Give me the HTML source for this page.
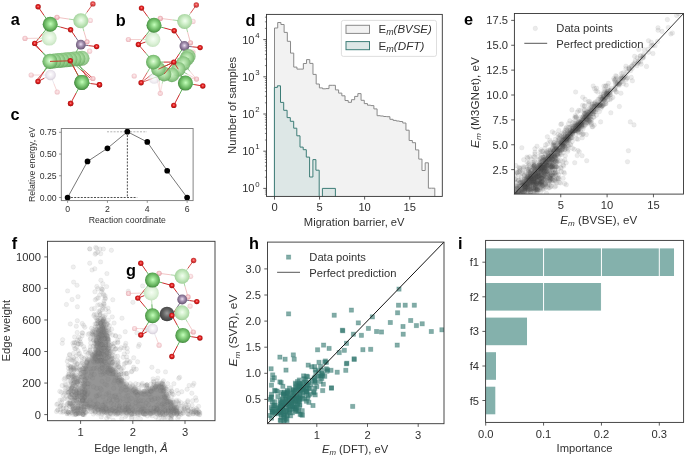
<!DOCTYPE html>
<html><head><meta charset="utf-8"><title>Figure</title>
<style>html,body{margin:0;padding:0;background:#fff;}body{width:685px;height:457px;overflow:hidden;font-family:"Liberation Sans", sans-serif;}svg{display:block;will-change:transform;}</style>
</head><body>
<svg width="685" height="457" viewBox="0 0 685 457" font-family='"Liberation Sans", sans-serif'><defs>
<radialGradient id="gG" cx="0.52" cy="0.47" r="0.56">
 <stop offset="0" stop-color="#c4ffbc"/><stop offset="0.3" stop-color="#98de8f"/><stop offset="0.75" stop-color="#5eac57"/><stop offset="1" stop-color="#3b7e37"/></radialGradient>
<radialGradient id="gL" cx="0.52" cy="0.47" r="0.56">
 <stop offset="0" stop-color="#f2fff0"/><stop offset="0.4" stop-color="#d0efca"/><stop offset="0.85" stop-color="#a8d6a1"/><stop offset="1" stop-color="#8dc186"/></radialGradient>
<radialGradient id="gF" cx="0.52" cy="0.47" r="0.56">
 <stop offset="0" stop-color="#f6fff4"/><stop offset="0.6" stop-color="#dcf1d7"/><stop offset="1" stop-color="#c2e1bc"/></radialGradient>
<radialGradient id="gO" cx="0.5" cy="0.45" r="0.58">
 <stop offset="0" stop-color="#ff8a8a"/><stop offset="0.4" stop-color="#e42222"/><stop offset="1" stop-color="#9c0c0c"/></radialGradient>
<radialGradient id="gP" cx="0.5" cy="0.45" r="0.58">
 <stop offset="0" stop-color="#fde8ea"/><stop offset="0.5" stop-color="#f1b8be"/><stop offset="1" stop-color="#dc9098"/></radialGradient>
<radialGradient id="gV" cx="0.5" cy="0.45" r="0.58">
 <stop offset="0" stop-color="#eadff0"/><stop offset="0.45" stop-color="#a08cac"/><stop offset="1" stop-color="#5f4c6a"/></radialGradient>
<radialGradient id="gW" cx="0.5" cy="0.45" r="0.58">
 <stop offset="0" stop-color="#ffffff"/><stop offset="0.6" stop-color="#ece7ef"/><stop offset="1" stop-color="#d2ccd6"/></radialGradient>
<radialGradient id="gM" cx="0.5" cy="0.45" r="0.56">
 <stop offset="0" stop-color="#d2f6ca"/><stop offset="0.5" stop-color="#a0d697"/><stop offset="0.85" stop-color="#78b870"/><stop offset="1" stop-color="#5c9b55"/></radialGradient>
<radialGradient id="gB" cx="0.5" cy="0.45" r="0.56">
 <stop offset="0" stop-color="#e4ffdc"/><stop offset="0.4" stop-color="#a9e29f"/><stop offset="0.85" stop-color="#6db266"/><stop offset="1" stop-color="#4f944a"/></radialGradient>
<radialGradient id="gK" cx="0.5" cy="0.45" r="0.58">
 <stop offset="0" stop-color="#9a9a9a"/><stop offset="0.5" stop-color="#5e5e5e"/><stop offset="1" stop-color="#3a3a3a"/></radialGradient>
</defs><line x1="67.60" y1="197.50" x2="137.20" y2="197.50" stroke="#222" stroke-width="0.8" stroke-dasharray="2,1.3"/>
<line x1="107.00" y1="131.80" x2="147.00" y2="131.80" stroke="#aaa" stroke-width="0.9" stroke-dasharray="2,1.3"/>
<line x1="127.36" y1="131.72" x2="127.36" y2="197.50" stroke="#222" stroke-width="0.8" stroke-dasharray="2,1.3"/>
<path d="M67.60,197.50 L87.52,161.44 L107.44,148.31 L127.36,131.72 L147.28,141.97 L167.20,170.73 L187.12,197.50" fill="none" stroke="#777" stroke-width="1"/>
<circle cx="67.60" cy="197.50" r="2.85" fill="#000"/>
<circle cx="87.52" cy="161.44" r="2.85" fill="#000"/>
<circle cx="107.44" cy="148.31" r="2.85" fill="#000"/>
<circle cx="127.36" cy="131.72" r="2.85" fill="#000"/>
<circle cx="147.28" cy="141.97" r="2.85" fill="#000"/>
<circle cx="167.20" cy="170.73" r="2.85" fill="#000"/>
<circle cx="187.12" cy="197.50" r="2.85" fill="#000"/>
<rect x="61.30" y="128.50" width="131.80" height="72.10" fill="none" stroke="#777" stroke-width="0.9"/>
<line x1="59.10" y1="197.50" x2="61.30" y2="197.50" stroke="#777" stroke-width="0.8"/>
<text x="56.70" y="200.60" font-size="8.7" text-anchor="end" font-weight="normal" font-style="normal" fill="#303030">0.00</text>
<line x1="59.10" y1="175.78" x2="61.30" y2="175.78" stroke="#777" stroke-width="0.8"/>
<text x="56.70" y="178.88" font-size="8.7" text-anchor="end" font-weight="normal" font-style="normal" fill="#303030">0.25</text>
<line x1="59.10" y1="154.05" x2="61.30" y2="154.05" stroke="#777" stroke-width="0.8"/>
<text x="56.70" y="157.15" font-size="8.7" text-anchor="end" font-weight="normal" font-style="normal" fill="#303030">0.50</text>
<line x1="59.10" y1="132.32" x2="61.30" y2="132.32" stroke="#777" stroke-width="0.8"/>
<text x="56.70" y="135.42" font-size="8.7" text-anchor="end" font-weight="normal" font-style="normal" fill="#303030">0.75</text>
<line x1="67.60" y1="200.60" x2="67.60" y2="202.80" stroke="#777" stroke-width="0.8"/>
<text x="67.60" y="212.10" font-size="8.7" text-anchor="middle" font-weight="normal" font-style="normal" fill="#303030">0</text>
<line x1="107.44" y1="200.60" x2="107.44" y2="202.80" stroke="#777" stroke-width="0.8"/>
<text x="107.44" y="212.10" font-size="8.7" text-anchor="middle" font-weight="normal" font-style="normal" fill="#303030">2</text>
<line x1="147.28" y1="200.60" x2="147.28" y2="202.80" stroke="#777" stroke-width="0.8"/>
<text x="147.28" y="212.10" font-size="8.7" text-anchor="middle" font-weight="normal" font-style="normal" fill="#303030">4</text>
<line x1="187.12" y1="200.60" x2="187.12" y2="202.80" stroke="#777" stroke-width="0.8"/>
<text x="187.12" y="212.10" font-size="8.7" text-anchor="middle" font-weight="normal" font-style="normal" fill="#303030">6</text>
<text x="127.30" y="222.60" font-size="8.7" text-anchor="middle" font-weight="normal" font-style="normal" fill="#303030">Reaction coordinate</text>
<text x="34.50" y="164.50" font-size="8.7" text-anchor="middle" font-weight="normal" font-style="normal" fill="#303030" transform="rotate(-90 34.5 164.5)">Relative energy, eV</text>
<path d="M274.50,196.40 L274.50,28.00 L277.71,28.00 L277.71,22.50 L280.91,22.50 L280.91,24.50 L284.12,24.50 L284.12,32.40 L287.32,32.40 L287.32,41.30 L290.53,41.30 L290.53,53.10 L293.74,53.10 L293.74,67.10 L296.94,67.10 L296.94,69.10 L300.15,69.10 L300.15,69.10 L303.35,69.10 L303.35,63.50 L306.56,63.50 L306.56,59.60 L309.77,59.60 L309.77,63.40 L312.97,63.40 L312.97,74.40 L316.18,74.40 L316.18,84.00 L319.38,84.00 L319.38,87.90 L322.59,87.90 L322.59,88.80 L325.80,88.80 L325.80,88.60 L329.00,88.60 L329.00,85.30 L332.21,85.30 L332.21,85.30 L335.41,85.30 L335.41,89.90 L338.62,89.90 L338.62,93.10 L341.83,93.10 L341.83,95.80 L345.03,95.80 L345.03,100.50 L348.24,100.50 L348.24,102.30 L351.44,102.30 L351.44,99.70 L354.65,99.70 L354.65,96.40 L357.86,96.40 L357.86,93.60 L361.06,93.60 L361.06,100.30 L364.27,100.30 L364.27,103.60 L367.47,103.60 L367.47,105.20 L370.68,105.20 L370.68,105.60 L373.89,105.60 L373.89,108.90 L377.09,108.90 L377.09,115.70 L380.30,115.70 L380.30,116.00 L383.50,116.00 L383.50,116.50 L386.71,116.50 L386.71,116.70 L389.92,116.70 L389.92,119.30 L393.12,119.30 L393.12,120.40 L396.33,120.40 L396.33,121.00 L399.53,121.00 L399.53,121.50 L402.74,121.50 L402.74,123.00 L405.95,123.00 L405.95,130.20 L409.15,130.20 L409.15,140.50 L412.36,140.50 L412.36,142.70 L415.56,142.70 L415.56,149.90 L418.77,149.90 L418.77,159.10 L421.98,159.10 L421.98,170.50 L425.18,170.50 L425.18,162.80 L428.39,162.80 L428.39,188.20 L431.59,188.20 L431.59,188.20 L434.80,188.20 L434.80,196.40" fill="#f2f2f2" stroke="#8a8a8a" stroke-width="1"/>
<path d="M274.40,196.40 L274.40,87.40 L277.40,87.40 L277.40,85.80 L280.50,85.80 L280.50,102.40 L283.70,102.40 L283.70,110.30 L287.10,110.30 L287.10,117.60 L290.30,117.60 L290.30,121.30 L293.70,121.30 L293.70,128.20 L296.80,128.20 L296.80,135.80 L300.00,135.80 L300.00,147.10 L303.20,147.10 L303.20,149.70 L306.30,149.70 L306.30,157.10 L309.60,157.10 L309.60,177.00 L312.90,177.00 L312.90,159.60 L315.90,159.60 L315.90,170.20 L319.20,170.20 L319.20,196.40" fill="#dde7e6" stroke="#3d7d77" stroke-width="1"/>
<path d="M322.4,196.4 L322.4,188.4 L335.4,188.4 L335.4,196.4" fill="#dde7e6" stroke="#3d7d77" stroke-width="1"/>
<rect x="266.50" y="14.40" width="175.80" height="182.00" fill="none" stroke="#333" stroke-width="0.9"/>
<line x1="263.30" y1="188.40" x2="266.50" y2="188.40" stroke="#333" stroke-width="0.8"/>
<text x="254.60" y="192.40" font-size="11.2" text-anchor="end" font-weight="normal" font-style="normal" fill="#303030">10</text>
<text x="255.30" y="186.60" font-size="7.8" text-anchor="start" font-weight="normal" font-style="normal" fill="#303030">0</text>
<line x1="263.30" y1="151.20" x2="266.50" y2="151.20" stroke="#333" stroke-width="0.8"/>
<text x="254.60" y="155.20" font-size="11.2" text-anchor="end" font-weight="normal" font-style="normal" fill="#303030">10</text>
<text x="255.30" y="149.40" font-size="7.8" text-anchor="start" font-weight="normal" font-style="normal" fill="#303030">1</text>
<line x1="263.30" y1="114.00" x2="266.50" y2="114.00" stroke="#333" stroke-width="0.8"/>
<text x="254.60" y="118.00" font-size="11.2" text-anchor="end" font-weight="normal" font-style="normal" fill="#303030">10</text>
<text x="255.30" y="112.20" font-size="7.8" text-anchor="start" font-weight="normal" font-style="normal" fill="#303030">2</text>
<line x1="263.30" y1="76.80" x2="266.50" y2="76.80" stroke="#333" stroke-width="0.8"/>
<text x="254.60" y="80.80" font-size="11.2" text-anchor="end" font-weight="normal" font-style="normal" fill="#303030">10</text>
<text x="255.30" y="75.00" font-size="7.8" text-anchor="start" font-weight="normal" font-style="normal" fill="#303030">3</text>
<line x1="263.30" y1="39.60" x2="266.50" y2="39.60" stroke="#333" stroke-width="0.8"/>
<text x="254.60" y="43.60" font-size="11.2" text-anchor="end" font-weight="normal" font-style="normal" fill="#303030">10</text>
<text x="255.30" y="37.80" font-size="7.8" text-anchor="start" font-weight="normal" font-style="normal" fill="#303030">4</text>
<line x1="264.90" y1="194.16" x2="266.50" y2="194.16" stroke="#333" stroke-width="0.6"/>
<line x1="264.90" y1="192.01" x2="266.50" y2="192.01" stroke="#333" stroke-width="0.6"/>
<line x1="264.90" y1="190.10" x2="266.50" y2="190.10" stroke="#333" stroke-width="0.6"/>
<line x1="264.90" y1="177.20" x2="266.50" y2="177.20" stroke="#333" stroke-width="0.6"/>
<line x1="264.90" y1="170.65" x2="266.50" y2="170.65" stroke="#333" stroke-width="0.6"/>
<line x1="264.90" y1="166.00" x2="266.50" y2="166.00" stroke="#333" stroke-width="0.6"/>
<line x1="264.90" y1="162.40" x2="266.50" y2="162.40" stroke="#333" stroke-width="0.6"/>
<line x1="264.90" y1="159.45" x2="266.50" y2="159.45" stroke="#333" stroke-width="0.6"/>
<line x1="264.90" y1="156.96" x2="266.50" y2="156.96" stroke="#333" stroke-width="0.6"/>
<line x1="264.90" y1="154.81" x2="266.50" y2="154.81" stroke="#333" stroke-width="0.6"/>
<line x1="264.90" y1="152.90" x2="266.50" y2="152.90" stroke="#333" stroke-width="0.6"/>
<line x1="264.90" y1="140.00" x2="266.50" y2="140.00" stroke="#333" stroke-width="0.6"/>
<line x1="264.90" y1="133.45" x2="266.50" y2="133.45" stroke="#333" stroke-width="0.6"/>
<line x1="264.90" y1="128.80" x2="266.50" y2="128.80" stroke="#333" stroke-width="0.6"/>
<line x1="264.90" y1="125.20" x2="266.50" y2="125.20" stroke="#333" stroke-width="0.6"/>
<line x1="264.90" y1="122.25" x2="266.50" y2="122.25" stroke="#333" stroke-width="0.6"/>
<line x1="264.90" y1="119.76" x2="266.50" y2="119.76" stroke="#333" stroke-width="0.6"/>
<line x1="264.90" y1="117.61" x2="266.50" y2="117.61" stroke="#333" stroke-width="0.6"/>
<line x1="264.90" y1="115.70" x2="266.50" y2="115.70" stroke="#333" stroke-width="0.6"/>
<line x1="264.90" y1="102.80" x2="266.50" y2="102.80" stroke="#333" stroke-width="0.6"/>
<line x1="264.90" y1="96.25" x2="266.50" y2="96.25" stroke="#333" stroke-width="0.6"/>
<line x1="264.90" y1="91.60" x2="266.50" y2="91.60" stroke="#333" stroke-width="0.6"/>
<line x1="264.90" y1="88.00" x2="266.50" y2="88.00" stroke="#333" stroke-width="0.6"/>
<line x1="264.90" y1="85.05" x2="266.50" y2="85.05" stroke="#333" stroke-width="0.6"/>
<line x1="264.90" y1="82.56" x2="266.50" y2="82.56" stroke="#333" stroke-width="0.6"/>
<line x1="264.90" y1="80.41" x2="266.50" y2="80.41" stroke="#333" stroke-width="0.6"/>
<line x1="264.90" y1="78.50" x2="266.50" y2="78.50" stroke="#333" stroke-width="0.6"/>
<line x1="264.90" y1="65.60" x2="266.50" y2="65.60" stroke="#333" stroke-width="0.6"/>
<line x1="264.90" y1="59.05" x2="266.50" y2="59.05" stroke="#333" stroke-width="0.6"/>
<line x1="264.90" y1="54.40" x2="266.50" y2="54.40" stroke="#333" stroke-width="0.6"/>
<line x1="264.90" y1="50.80" x2="266.50" y2="50.80" stroke="#333" stroke-width="0.6"/>
<line x1="264.90" y1="47.85" x2="266.50" y2="47.85" stroke="#333" stroke-width="0.6"/>
<line x1="264.90" y1="45.36" x2="266.50" y2="45.36" stroke="#333" stroke-width="0.6"/>
<line x1="264.90" y1="43.21" x2="266.50" y2="43.21" stroke="#333" stroke-width="0.6"/>
<line x1="264.90" y1="41.30" x2="266.50" y2="41.30" stroke="#333" stroke-width="0.6"/>
<line x1="264.90" y1="28.40" x2="266.50" y2="28.40" stroke="#333" stroke-width="0.6"/>
<line x1="264.90" y1="21.85" x2="266.50" y2="21.85" stroke="#333" stroke-width="0.6"/>
<line x1="264.90" y1="17.20" x2="266.50" y2="17.20" stroke="#333" stroke-width="0.6"/>
<line x1="274.50" y1="196.40" x2="274.50" y2="199.60" stroke="#333" stroke-width="0.8"/>
<text x="274.50" y="211.40" font-size="11.2" text-anchor="middle" font-weight="normal" font-style="normal" fill="#303030">0</text>
<line x1="319.56" y1="196.40" x2="319.56" y2="199.60" stroke="#333" stroke-width="0.8"/>
<text x="319.56" y="211.40" font-size="11.2" text-anchor="middle" font-weight="normal" font-style="normal" fill="#303030">5</text>
<line x1="364.63" y1="196.40" x2="364.63" y2="199.60" stroke="#333" stroke-width="0.8"/>
<text x="364.63" y="211.40" font-size="11.2" text-anchor="middle" font-weight="normal" font-style="normal" fill="#303030">10</text>
<line x1="409.69" y1="196.40" x2="409.69" y2="199.60" stroke="#333" stroke-width="0.8"/>
<text x="409.69" y="211.40" font-size="11.2" text-anchor="middle" font-weight="normal" font-style="normal" fill="#303030">15</text>
<text x="354.20" y="226.00" font-size="11.2" text-anchor="middle" font-weight="normal" font-style="normal" fill="#303030">Migration barrier, eV</text>
<text x="236.30" y="105.40" font-size="11.2" text-anchor="middle" font-weight="normal" font-style="normal" fill="#303030" transform="rotate(-90 236.3 105.4)">Number of samples</text>
<rect x="341.4" y="20.4" width="95.1" height="36" rx="2" ry="2" fill="#fff" fill-opacity="0.8" stroke="#d6d6d6" stroke-width="0.8"/>
<rect x="346.00" y="25.30" width="23.50" height="8.10" fill="#f2f2f2" stroke="#8a8a8a" stroke-width="1"/>
<rect x="346.00" y="41.60" width="23.50" height="8.10" fill="#dde7e6" stroke="#3d7d77" stroke-width="1"/>
<g transform="translate(378.6 33.4) scale(1.08 1)"><text x="0" y="0" font-size="10.6" fill="#303030">E<tspan font-size="8.2" font-style="italic" dy="1.6">m</tspan><tspan dy="-1.6" font-style="italic">(BVSE)</tspan></text></g>
<g transform="translate(378.6 50.0) scale(1.1 1)"><text x="0" y="0" font-size="10.6" fill="#303030">E<tspan font-size="8.2" font-style="italic" dy="1.6">m</tspan><tspan dy="-1.6" font-style="italic">(DFT)</tspan></text></g>
<clipPath id="ce"><rect x="514.4" y="13.5" width="169.10000000000002" height="180.6"/></clipPath>
<g clip-path="url(#ce)" fill="#4a4a4a" fill-opacity="0.11" stroke="#4a4a4a" stroke-opacity="0.08" stroke-width="0.7">
<circle cx="515.2" cy="188.7" r="2.3"/>
<circle cx="516.6" cy="196.7" r="2.3"/>
<circle cx="515.3" cy="189.9" r="2.3"/>
<circle cx="518.8" cy="191.0" r="2.3"/>
<circle cx="515.9" cy="194.2" r="2.3"/>
<circle cx="519.2" cy="185.8" r="2.3"/>
<circle cx="518.4" cy="192.3" r="2.3"/>
<circle cx="519.8" cy="186.7" r="2.3"/>
<circle cx="521.2" cy="176.9" r="2.3"/>
<circle cx="523.3" cy="189.8" r="2.3"/>
<circle cx="520.9" cy="192.8" r="2.3"/>
<circle cx="517.1" cy="187.8" r="2.3"/>
<circle cx="514.4" cy="196.8" r="2.3"/>
<circle cx="523.4" cy="184.3" r="2.3"/>
<circle cx="517.3" cy="193.4" r="2.3"/>
<circle cx="522.7" cy="195.3" r="2.3"/>
<circle cx="519.8" cy="191.2" r="2.3"/>
<circle cx="521.6" cy="184.9" r="2.3"/>
<circle cx="514.7" cy="191.8" r="2.3"/>
<circle cx="517.9" cy="192.3" r="2.3"/>
<circle cx="515.2" cy="191.9" r="2.3"/>
<circle cx="520.5" cy="194.0" r="2.3"/>
<circle cx="523.0" cy="185.4" r="2.3"/>
<circle cx="516.3" cy="188.2" r="2.3"/>
<circle cx="517.2" cy="188.8" r="2.3"/>
<circle cx="521.3" cy="189.6" r="2.3"/>
<circle cx="521.1" cy="188.9" r="2.3"/>
<circle cx="516.4" cy="186.3" r="2.3"/>
<circle cx="520.7" cy="193.7" r="2.3"/>
<circle cx="522.0" cy="190.6" r="2.3"/>
<circle cx="518.4" cy="180.4" r="2.3"/>
<circle cx="521.4" cy="190.9" r="2.3"/>
<circle cx="522.5" cy="181.7" r="2.3"/>
<circle cx="515.3" cy="194.7" r="2.3"/>
<circle cx="522.3" cy="191.6" r="2.3"/>
<circle cx="518.1" cy="195.3" r="2.3"/>
<circle cx="518.8" cy="180.3" r="2.3"/>
<circle cx="515.8" cy="196.9" r="2.3"/>
<circle cx="520.9" cy="190.2" r="2.3"/>
<circle cx="517.1" cy="195.6" r="2.3"/>
<circle cx="522.5" cy="182.5" r="2.3"/>
<circle cx="519.6" cy="187.8" r="2.3"/>
<circle cx="518.1" cy="194.4" r="2.3"/>
<circle cx="520.1" cy="170.2" r="2.3"/>
<circle cx="516.1" cy="192.5" r="2.3"/>
<circle cx="521.3" cy="184.7" r="2.3"/>
<circle cx="521.4" cy="182.8" r="2.3"/>
<circle cx="519.7" cy="191.0" r="2.3"/>
<circle cx="522.9" cy="189.0" r="2.3"/>
<circle cx="516.3" cy="185.8" r="2.3"/>
<circle cx="522.3" cy="190.6" r="2.3"/>
<circle cx="516.0" cy="192.8" r="2.3"/>
<circle cx="520.0" cy="186.2" r="2.3"/>
<circle cx="523.4" cy="196.6" r="2.3"/>
<circle cx="521.7" cy="185.7" r="2.3"/>
<circle cx="514.9" cy="193.2" r="2.3"/>
<circle cx="517.8" cy="193.2" r="2.3"/>
<circle cx="516.2" cy="190.9" r="2.3"/>
<circle cx="516.4" cy="194.8" r="2.3"/>
<circle cx="522.4" cy="183.4" r="2.3"/>
<circle cx="517.2" cy="186.9" r="2.3"/>
<circle cx="519.0" cy="190.5" r="2.3"/>
<circle cx="522.3" cy="192.2" r="2.3"/>
<circle cx="523.3" cy="195.0" r="2.3"/>
<circle cx="521.0" cy="194.9" r="2.3"/>
<circle cx="519.5" cy="189.8" r="2.3"/>
<circle cx="520.9" cy="181.7" r="2.3"/>
<circle cx="514.9" cy="193.2" r="2.3"/>
<circle cx="520.7" cy="179.3" r="2.3"/>
<circle cx="517.8" cy="187.7" r="2.3"/>
<circle cx="519.9" cy="194.2" r="2.3"/>
<circle cx="520.6" cy="189.8" r="2.3"/>
<circle cx="519.2" cy="186.4" r="2.3"/>
<circle cx="519.5" cy="192.3" r="2.3"/>
<circle cx="530.3" cy="174.3" r="2.3"/>
<circle cx="527.4" cy="186.4" r="2.3"/>
<circle cx="526.8" cy="183.3" r="2.3"/>
<circle cx="532.7" cy="182.4" r="2.3"/>
<circle cx="532.0" cy="175.1" r="2.3"/>
<circle cx="525.7" cy="189.6" r="2.3"/>
<circle cx="525.1" cy="186.3" r="2.3"/>
<circle cx="528.2" cy="183.5" r="2.3"/>
<circle cx="529.0" cy="182.3" r="2.3"/>
<circle cx="526.9" cy="184.5" r="2.3"/>
<circle cx="529.2" cy="181.9" r="2.3"/>
<circle cx="530.0" cy="177.5" r="2.3"/>
<circle cx="531.2" cy="178.6" r="2.3"/>
<circle cx="529.7" cy="156.8" r="2.3"/>
<circle cx="524.2" cy="187.0" r="2.3"/>
<circle cx="524.3" cy="175.8" r="2.3"/>
<circle cx="524.2" cy="195.6" r="2.3"/>
<circle cx="524.7" cy="184.4" r="2.3"/>
<circle cx="530.9" cy="178.9" r="2.3"/>
<circle cx="527.1" cy="177.1" r="2.3"/>
<circle cx="528.2" cy="175.4" r="2.3"/>
<circle cx="527.8" cy="184.2" r="2.3"/>
<circle cx="525.6" cy="196.7" r="2.3"/>
<circle cx="524.1" cy="189.4" r="2.3"/>
<circle cx="525.4" cy="179.7" r="2.3"/>
<circle cx="531.6" cy="171.0" r="2.3"/>
<circle cx="526.8" cy="188.8" r="2.3"/>
<circle cx="527.6" cy="185.9" r="2.3"/>
<circle cx="526.1" cy="186.0" r="2.3"/>
<circle cx="530.5" cy="192.4" r="2.3"/>
<circle cx="530.2" cy="194.6" r="2.3"/>
<circle cx="527.2" cy="169.3" r="2.3"/>
<circle cx="528.4" cy="179.1" r="2.3"/>
<circle cx="527.3" cy="183.9" r="2.3"/>
<circle cx="529.0" cy="178.7" r="2.3"/>
<circle cx="529.2" cy="185.1" r="2.3"/>
<circle cx="529.0" cy="165.6" r="2.3"/>
<circle cx="532.0" cy="182.0" r="2.3"/>
<circle cx="532.5" cy="173.3" r="2.3"/>
<circle cx="524.1" cy="195.8" r="2.3"/>
<circle cx="527.2" cy="167.4" r="2.3"/>
<circle cx="524.0" cy="186.0" r="2.3"/>
<circle cx="527.1" cy="180.9" r="2.3"/>
<circle cx="531.1" cy="177.8" r="2.3"/>
<circle cx="530.0" cy="178.4" r="2.3"/>
<circle cx="528.9" cy="179.0" r="2.3"/>
<circle cx="524.5" cy="184.4" r="2.3"/>
<circle cx="531.2" cy="178.6" r="2.3"/>
<circle cx="529.3" cy="186.9" r="2.3"/>
<circle cx="526.5" cy="194.0" r="2.3"/>
<circle cx="531.0" cy="181.5" r="2.3"/>
<circle cx="525.4" cy="183.8" r="2.3"/>
<circle cx="531.0" cy="183.0" r="2.3"/>
<circle cx="524.1" cy="185.2" r="2.3"/>
<circle cx="524.9" cy="186.5" r="2.3"/>
<circle cx="528.3" cy="177.0" r="2.3"/>
<circle cx="530.3" cy="172.1" r="2.3"/>
<circle cx="529.1" cy="180.5" r="2.3"/>
<circle cx="524.0" cy="179.8" r="2.3"/>
<circle cx="526.2" cy="181.3" r="2.3"/>
<circle cx="530.2" cy="185.5" r="2.3"/>
<circle cx="526.9" cy="178.0" r="2.3"/>
<circle cx="525.5" cy="186.9" r="2.3"/>
<circle cx="523.7" cy="183.2" r="2.3"/>
<circle cx="526.1" cy="187.2" r="2.3"/>
<circle cx="532.3" cy="179.9" r="2.3"/>
<circle cx="524.1" cy="197.0" r="2.3"/>
<circle cx="528.8" cy="180.0" r="2.3"/>
<circle cx="532.1" cy="180.8" r="2.3"/>
<circle cx="530.2" cy="173.5" r="2.3"/>
<circle cx="526.3" cy="183.7" r="2.3"/>
<circle cx="529.7" cy="176.4" r="2.3"/>
<circle cx="524.8" cy="179.0" r="2.3"/>
<circle cx="528.3" cy="180.8" r="2.3"/>
<circle cx="526.1" cy="195.5" r="2.3"/>
<circle cx="531.8" cy="175.9" r="2.3"/>
<circle cx="531.7" cy="170.4" r="2.3"/>
<circle cx="530.7" cy="178.6" r="2.3"/>
<circle cx="527.2" cy="180.3" r="2.3"/>
<circle cx="531.1" cy="173.4" r="2.3"/>
<circle cx="532.8" cy="180.7" r="2.3"/>
<circle cx="527.1" cy="186.5" r="2.3"/>
<circle cx="528.5" cy="195.0" r="2.3"/>
<circle cx="525.2" cy="190.3" r="2.3"/>
<circle cx="524.7" cy="185.6" r="2.3"/>
<circle cx="530.3" cy="183.1" r="2.3"/>
<circle cx="524.2" cy="180.8" r="2.3"/>
<circle cx="529.2" cy="183.0" r="2.3"/>
<circle cx="524.7" cy="192.7" r="2.3"/>
<circle cx="529.9" cy="185.1" r="2.3"/>
<circle cx="530.7" cy="181.0" r="2.3"/>
<circle cx="532.4" cy="183.9" r="2.3"/>
<circle cx="527.3" cy="174.0" r="2.3"/>
<circle cx="527.3" cy="189.2" r="2.3"/>
<circle cx="527.4" cy="184.1" r="2.3"/>
<circle cx="530.2" cy="175.8" r="2.3"/>
<circle cx="531.0" cy="192.5" r="2.3"/>
<circle cx="524.7" cy="181.8" r="2.3"/>
<circle cx="526.7" cy="178.1" r="2.3"/>
<circle cx="524.2" cy="185.9" r="2.3"/>
<circle cx="525.8" cy="183.1" r="2.3"/>
<circle cx="530.5" cy="189.6" r="2.3"/>
<circle cx="532.8" cy="182.4" r="2.3"/>
<circle cx="527.4" cy="176.7" r="2.3"/>
<circle cx="531.8" cy="181.2" r="2.3"/>
<circle cx="528.3" cy="189.6" r="2.3"/>
<circle cx="526.9" cy="185.4" r="2.3"/>
<circle cx="530.9" cy="183.8" r="2.3"/>
<circle cx="531.7" cy="179.8" r="2.3"/>
<circle cx="525.0" cy="184.6" r="2.3"/>
<circle cx="528.5" cy="179.9" r="2.3"/>
<circle cx="525.0" cy="190.7" r="2.3"/>
<circle cx="525.3" cy="188.9" r="2.3"/>
<circle cx="528.6" cy="178.2" r="2.3"/>
<circle cx="526.0" cy="188.0" r="2.3"/>
<circle cx="531.1" cy="178.4" r="2.3"/>
<circle cx="527.1" cy="196.8" r="2.3"/>
<circle cx="529.5" cy="179.9" r="2.3"/>
<circle cx="526.1" cy="179.8" r="2.3"/>
<circle cx="524.3" cy="175.5" r="2.3"/>
<circle cx="532.9" cy="173.5" r="2.3"/>
<circle cx="525.4" cy="197.5" r="2.3"/>
<circle cx="528.1" cy="176.7" r="2.3"/>
<circle cx="523.7" cy="186.2" r="2.3"/>
<circle cx="531.0" cy="176.3" r="2.3"/>
<circle cx="524.4" cy="190.6" r="2.3"/>
<circle cx="524.0" cy="187.2" r="2.3"/>
<circle cx="532.6" cy="166.6" r="2.3"/>
<circle cx="528.5" cy="178.6" r="2.3"/>
<circle cx="532.3" cy="179.3" r="2.3"/>
<circle cx="532.0" cy="179.7" r="2.3"/>
<circle cx="530.5" cy="191.6" r="2.3"/>
<circle cx="523.9" cy="181.8" r="2.3"/>
<circle cx="529.6" cy="189.7" r="2.3"/>
<circle cx="524.3" cy="188.5" r="2.3"/>
<circle cx="531.5" cy="196.2" r="2.3"/>
<circle cx="526.5" cy="179.5" r="2.3"/>
<circle cx="530.6" cy="170.5" r="2.3"/>
<circle cx="528.6" cy="169.7" r="2.3"/>
<circle cx="530.9" cy="170.7" r="2.3"/>
<circle cx="529.6" cy="176.1" r="2.3"/>
<circle cx="532.7" cy="177.4" r="2.3"/>
<circle cx="528.1" cy="190.1" r="2.3"/>
<circle cx="531.6" cy="175.4" r="2.3"/>
<circle cx="529.1" cy="180.5" r="2.3"/>
<circle cx="528.4" cy="181.6" r="2.3"/>
<circle cx="527.7" cy="194.6" r="2.3"/>
<circle cx="529.7" cy="181.8" r="2.3"/>
<circle cx="525.5" cy="188.4" r="2.3"/>
<circle cx="527.7" cy="184.6" r="2.3"/>
<circle cx="529.7" cy="172.5" r="2.3"/>
<circle cx="526.5" cy="176.3" r="2.3"/>
<circle cx="525.7" cy="183.2" r="2.3"/>
<circle cx="524.7" cy="188.3" r="2.3"/>
<circle cx="531.1" cy="176.9" r="2.3"/>
<circle cx="531.8" cy="181.4" r="2.3"/>
<circle cx="531.4" cy="185.8" r="2.3"/>
<circle cx="530.2" cy="189.3" r="2.3"/>
<circle cx="529.3" cy="184.3" r="2.3"/>
<circle cx="524.2" cy="196.1" r="2.3"/>
<circle cx="531.8" cy="176.4" r="2.3"/>
<circle cx="528.1" cy="174.2" r="2.3"/>
<circle cx="530.0" cy="177.8" r="2.3"/>
<circle cx="524.8" cy="178.0" r="2.3"/>
<circle cx="530.6" cy="172.8" r="2.3"/>
<circle cx="525.0" cy="184.9" r="2.3"/>
<circle cx="532.6" cy="195.2" r="2.3"/>
<circle cx="530.3" cy="195.4" r="2.3"/>
<circle cx="528.6" cy="170.9" r="2.3"/>
<circle cx="529.7" cy="190.4" r="2.3"/>
<circle cx="542.0" cy="167.8" r="2.3"/>
<circle cx="541.1" cy="154.8" r="2.3"/>
<circle cx="537.1" cy="184.9" r="2.3"/>
<circle cx="540.5" cy="170.5" r="2.3"/>
<circle cx="538.9" cy="164.8" r="2.3"/>
<circle cx="540.2" cy="185.3" r="2.3"/>
<circle cx="538.4" cy="175.0" r="2.3"/>
<circle cx="539.3" cy="189.6" r="2.3"/>
<circle cx="541.7" cy="176.1" r="2.3"/>
<circle cx="536.9" cy="189.2" r="2.3"/>
<circle cx="539.8" cy="181.1" r="2.3"/>
<circle cx="541.8" cy="174.8" r="2.3"/>
<circle cx="533.3" cy="181.9" r="2.3"/>
<circle cx="535.3" cy="174.0" r="2.3"/>
<circle cx="536.3" cy="170.2" r="2.3"/>
<circle cx="538.3" cy="167.3" r="2.3"/>
<circle cx="537.2" cy="177.7" r="2.3"/>
<circle cx="541.7" cy="181.1" r="2.3"/>
<circle cx="534.7" cy="183.9" r="2.3"/>
<circle cx="535.8" cy="173.4" r="2.3"/>
<circle cx="533.7" cy="188.8" r="2.3"/>
<circle cx="534.6" cy="174.4" r="2.3"/>
<circle cx="538.5" cy="166.9" r="2.3"/>
<circle cx="533.4" cy="173.7" r="2.3"/>
<circle cx="541.7" cy="177.7" r="2.3"/>
<circle cx="540.0" cy="167.5" r="2.3"/>
<circle cx="533.7" cy="175.3" r="2.3"/>
<circle cx="540.3" cy="169.8" r="2.3"/>
<circle cx="534.1" cy="166.0" r="2.3"/>
<circle cx="537.7" cy="169.0" r="2.3"/>
<circle cx="534.9" cy="170.2" r="2.3"/>
<circle cx="534.5" cy="174.4" r="2.3"/>
<circle cx="537.9" cy="173.0" r="2.3"/>
<circle cx="541.1" cy="171.2" r="2.3"/>
<circle cx="533.7" cy="176.4" r="2.3"/>
<circle cx="534.9" cy="154.1" r="2.3"/>
<circle cx="537.4" cy="166.0" r="2.3"/>
<circle cx="541.8" cy="162.4" r="2.3"/>
<circle cx="536.3" cy="172.7" r="2.3"/>
<circle cx="541.0" cy="157.9" r="2.3"/>
<circle cx="538.0" cy="174.7" r="2.3"/>
<circle cx="537.1" cy="176.8" r="2.3"/>
<circle cx="540.0" cy="184.1" r="2.3"/>
<circle cx="534.8" cy="172.4" r="2.3"/>
<circle cx="537.8" cy="168.1" r="2.3"/>
<circle cx="533.3" cy="178.5" r="2.3"/>
<circle cx="537.8" cy="181.6" r="2.3"/>
<circle cx="542.2" cy="159.9" r="2.3"/>
<circle cx="533.6" cy="168.6" r="2.3"/>
<circle cx="533.9" cy="176.4" r="2.3"/>
<circle cx="538.3" cy="177.9" r="2.3"/>
<circle cx="541.6" cy="162.0" r="2.3"/>
<circle cx="538.1" cy="173.0" r="2.3"/>
<circle cx="541.9" cy="165.6" r="2.3"/>
<circle cx="535.9" cy="181.8" r="2.3"/>
<circle cx="542.1" cy="182.7" r="2.3"/>
<circle cx="534.9" cy="177.0" r="2.3"/>
<circle cx="540.1" cy="168.9" r="2.3"/>
<circle cx="536.0" cy="190.2" r="2.3"/>
<circle cx="540.7" cy="170.3" r="2.3"/>
<circle cx="533.3" cy="168.2" r="2.3"/>
<circle cx="535.8" cy="173.7" r="2.3"/>
<circle cx="541.5" cy="161.0" r="2.3"/>
<circle cx="540.1" cy="165.9" r="2.3"/>
<circle cx="537.4" cy="174.2" r="2.3"/>
<circle cx="536.4" cy="183.7" r="2.3"/>
<circle cx="541.7" cy="151.4" r="2.3"/>
<circle cx="534.7" cy="182.1" r="2.3"/>
<circle cx="534.7" cy="184.8" r="2.3"/>
<circle cx="533.5" cy="187.9" r="2.3"/>
<circle cx="539.1" cy="177.0" r="2.3"/>
<circle cx="541.4" cy="170.1" r="2.3"/>
<circle cx="534.1" cy="178.4" r="2.3"/>
<circle cx="540.0" cy="171.7" r="2.3"/>
<circle cx="540.0" cy="165.4" r="2.3"/>
<circle cx="534.8" cy="169.4" r="2.3"/>
<circle cx="537.8" cy="173.6" r="2.3"/>
<circle cx="538.3" cy="168.0" r="2.3"/>
<circle cx="533.5" cy="180.3" r="2.3"/>
<circle cx="541.7" cy="168.2" r="2.3"/>
<circle cx="534.2" cy="178.7" r="2.3"/>
<circle cx="534.3" cy="180.7" r="2.3"/>
<circle cx="539.5" cy="188.0" r="2.3"/>
<circle cx="537.6" cy="188.5" r="2.3"/>
<circle cx="540.2" cy="159.1" r="2.3"/>
<circle cx="538.9" cy="171.9" r="2.3"/>
<circle cx="533.8" cy="165.3" r="2.3"/>
<circle cx="537.1" cy="190.0" r="2.3"/>
<circle cx="542.0" cy="168.9" r="2.3"/>
<circle cx="535.8" cy="168.3" r="2.3"/>
<circle cx="534.6" cy="178.9" r="2.3"/>
<circle cx="541.2" cy="166.9" r="2.3"/>
<circle cx="533.7" cy="182.2" r="2.3"/>
<circle cx="536.7" cy="192.5" r="2.3"/>
<circle cx="542.2" cy="182.0" r="2.3"/>
<circle cx="540.9" cy="149.7" r="2.3"/>
<circle cx="534.2" cy="171.6" r="2.3"/>
<circle cx="533.7" cy="193.4" r="2.3"/>
<circle cx="537.4" cy="189.8" r="2.3"/>
<circle cx="539.3" cy="164.8" r="2.3"/>
<circle cx="540.5" cy="177.7" r="2.3"/>
<circle cx="534.8" cy="171.9" r="2.3"/>
<circle cx="536.9" cy="175.0" r="2.3"/>
<circle cx="537.1" cy="177.2" r="2.3"/>
<circle cx="535.8" cy="177.2" r="2.3"/>
<circle cx="539.2" cy="183.2" r="2.3"/>
<circle cx="537.9" cy="171.1" r="2.3"/>
<circle cx="536.8" cy="174.2" r="2.3"/>
<circle cx="540.1" cy="179.0" r="2.3"/>
<circle cx="535.7" cy="179.1" r="2.3"/>
<circle cx="538.5" cy="174.0" r="2.3"/>
<circle cx="540.2" cy="171.9" r="2.3"/>
<circle cx="536.1" cy="170.1" r="2.3"/>
<circle cx="533.2" cy="188.3" r="2.3"/>
<circle cx="533.0" cy="177.3" r="2.3"/>
<circle cx="540.3" cy="151.9" r="2.3"/>
<circle cx="540.5" cy="168.0" r="2.3"/>
<circle cx="539.6" cy="166.6" r="2.3"/>
<circle cx="533.2" cy="178.6" r="2.3"/>
<circle cx="535.3" cy="170.7" r="2.3"/>
<circle cx="541.7" cy="168.4" r="2.3"/>
<circle cx="538.1" cy="175.8" r="2.3"/>
<circle cx="536.9" cy="169.8" r="2.3"/>
<circle cx="541.9" cy="181.7" r="2.3"/>
<circle cx="541.9" cy="166.9" r="2.3"/>
<circle cx="535.3" cy="173.7" r="2.3"/>
<circle cx="539.6" cy="183.1" r="2.3"/>
<circle cx="540.5" cy="172.3" r="2.3"/>
<circle cx="540.8" cy="169.1" r="2.3"/>
<circle cx="541.4" cy="174.9" r="2.3"/>
<circle cx="539.9" cy="161.7" r="2.3"/>
<circle cx="533.6" cy="183.0" r="2.3"/>
<circle cx="535.8" cy="176.4" r="2.3"/>
<circle cx="534.8" cy="168.1" r="2.3"/>
<circle cx="538.8" cy="176.3" r="2.3"/>
<circle cx="538.0" cy="169.4" r="2.3"/>
<circle cx="542.0" cy="160.8" r="2.3"/>
<circle cx="535.2" cy="180.8" r="2.3"/>
<circle cx="534.1" cy="178.6" r="2.3"/>
<circle cx="533.2" cy="162.4" r="2.3"/>
<circle cx="534.8" cy="161.8" r="2.3"/>
<circle cx="541.2" cy="169.0" r="2.3"/>
<circle cx="538.6" cy="174.9" r="2.3"/>
<circle cx="535.2" cy="191.7" r="2.3"/>
<circle cx="538.3" cy="169.5" r="2.3"/>
<circle cx="539.0" cy="175.0" r="2.3"/>
<circle cx="536.0" cy="183.8" r="2.3"/>
<circle cx="533.1" cy="174.9" r="2.3"/>
<circle cx="539.4" cy="169.0" r="2.3"/>
<circle cx="538.3" cy="175.3" r="2.3"/>
<circle cx="533.7" cy="174.9" r="2.3"/>
<circle cx="537.6" cy="170.4" r="2.3"/>
<circle cx="534.3" cy="161.5" r="2.3"/>
<circle cx="536.8" cy="189.6" r="2.3"/>
<circle cx="539.7" cy="179.9" r="2.3"/>
<circle cx="538.5" cy="172.8" r="2.3"/>
<circle cx="536.0" cy="175.8" r="2.3"/>
<circle cx="540.0" cy="176.0" r="2.3"/>
<circle cx="535.3" cy="184.8" r="2.3"/>
<circle cx="539.0" cy="171.9" r="2.3"/>
<circle cx="535.7" cy="187.3" r="2.3"/>
<circle cx="538.8" cy="179.2" r="2.3"/>
<circle cx="538.3" cy="159.7" r="2.3"/>
<circle cx="538.5" cy="156.5" r="2.3"/>
<circle cx="540.8" cy="165.8" r="2.3"/>
<circle cx="540.5" cy="167.7" r="2.3"/>
<circle cx="542.0" cy="178.5" r="2.3"/>
<circle cx="535.0" cy="186.5" r="2.3"/>
<circle cx="542.1" cy="181.2" r="2.3"/>
<circle cx="539.1" cy="177.2" r="2.3"/>
<circle cx="534.3" cy="165.6" r="2.3"/>
<circle cx="533.0" cy="185.0" r="2.3"/>
<circle cx="535.2" cy="180.8" r="2.3"/>
<circle cx="537.1" cy="166.6" r="2.3"/>
<circle cx="538.9" cy="165.0" r="2.3"/>
<circle cx="541.2" cy="169.2" r="2.3"/>
<circle cx="540.7" cy="191.5" r="2.3"/>
<circle cx="541.5" cy="167.9" r="2.3"/>
<circle cx="541.0" cy="171.3" r="2.3"/>
<circle cx="541.0" cy="181.7" r="2.3"/>
<circle cx="542.1" cy="184.8" r="2.3"/>
<circle cx="539.9" cy="162.8" r="2.3"/>
<circle cx="534.4" cy="179.1" r="2.3"/>
<circle cx="538.3" cy="165.5" r="2.3"/>
<circle cx="537.1" cy="185.7" r="2.3"/>
<circle cx="539.3" cy="164.1" r="2.3"/>
<circle cx="535.6" cy="177.2" r="2.3"/>
<circle cx="541.5" cy="165.1" r="2.3"/>
<circle cx="535.6" cy="173.5" r="2.3"/>
<circle cx="537.2" cy="195.4" r="2.3"/>
<circle cx="534.5" cy="163.8" r="2.3"/>
<circle cx="541.5" cy="165.1" r="2.3"/>
<circle cx="541.3" cy="167.0" r="2.3"/>
<circle cx="541.7" cy="168.5" r="2.3"/>
<circle cx="535.0" cy="171.4" r="2.3"/>
<circle cx="536.0" cy="182.2" r="2.3"/>
<circle cx="541.4" cy="170.5" r="2.3"/>
<circle cx="541.1" cy="173.1" r="2.3"/>
<circle cx="534.0" cy="166.3" r="2.3"/>
<circle cx="537.3" cy="180.1" r="2.3"/>
<circle cx="546.5" cy="193.3" r="2.3"/>
<circle cx="543.3" cy="172.5" r="2.3"/>
<circle cx="546.0" cy="160.2" r="2.3"/>
<circle cx="542.4" cy="176.0" r="2.3"/>
<circle cx="543.5" cy="165.8" r="2.3"/>
<circle cx="546.2" cy="176.8" r="2.3"/>
<circle cx="543.7" cy="169.3" r="2.3"/>
<circle cx="547.3" cy="164.9" r="2.3"/>
<circle cx="543.3" cy="167.6" r="2.3"/>
<circle cx="549.4" cy="161.6" r="2.3"/>
<circle cx="550.0" cy="156.4" r="2.3"/>
<circle cx="549.9" cy="151.4" r="2.3"/>
<circle cx="549.2" cy="165.9" r="2.3"/>
<circle cx="547.8" cy="161.7" r="2.3"/>
<circle cx="550.2" cy="156.4" r="2.3"/>
<circle cx="543.3" cy="172.7" r="2.3"/>
<circle cx="542.6" cy="185.6" r="2.3"/>
<circle cx="545.3" cy="163.2" r="2.3"/>
<circle cx="551.2" cy="174.7" r="2.3"/>
<circle cx="546.5" cy="163.5" r="2.3"/>
<circle cx="547.4" cy="172.0" r="2.3"/>
<circle cx="544.6" cy="172.5" r="2.3"/>
<circle cx="547.4" cy="136.8" r="2.3"/>
<circle cx="549.3" cy="162.8" r="2.3"/>
<circle cx="547.5" cy="159.7" r="2.3"/>
<circle cx="542.6" cy="176.8" r="2.3"/>
<circle cx="545.5" cy="153.7" r="2.3"/>
<circle cx="545.9" cy="169.8" r="2.3"/>
<circle cx="543.3" cy="157.5" r="2.3"/>
<circle cx="542.6" cy="164.7" r="2.3"/>
<circle cx="548.7" cy="150.2" r="2.3"/>
<circle cx="542.3" cy="178.0" r="2.3"/>
<circle cx="544.9" cy="159.1" r="2.3"/>
<circle cx="547.9" cy="182.9" r="2.3"/>
<circle cx="549.5" cy="164.8" r="2.3"/>
<circle cx="544.7" cy="157.6" r="2.3"/>
<circle cx="542.9" cy="166.5" r="2.3"/>
<circle cx="550.7" cy="180.1" r="2.3"/>
<circle cx="548.4" cy="157.5" r="2.3"/>
<circle cx="549.3" cy="158.9" r="2.3"/>
<circle cx="548.5" cy="156.5" r="2.3"/>
<circle cx="548.7" cy="171.2" r="2.3"/>
<circle cx="542.9" cy="173.1" r="2.3"/>
<circle cx="543.4" cy="175.5" r="2.3"/>
<circle cx="550.4" cy="152.7" r="2.3"/>
<circle cx="545.0" cy="163.4" r="2.3"/>
<circle cx="547.9" cy="158.8" r="2.3"/>
<circle cx="548.8" cy="157.1" r="2.3"/>
<circle cx="547.0" cy="178.6" r="2.3"/>
<circle cx="542.8" cy="169.1" r="2.3"/>
<circle cx="547.5" cy="143.9" r="2.3"/>
<circle cx="546.6" cy="164.8" r="2.3"/>
<circle cx="544.9" cy="164.9" r="2.3"/>
<circle cx="546.4" cy="168.2" r="2.3"/>
<circle cx="547.5" cy="174.2" r="2.3"/>
<circle cx="542.6" cy="167.7" r="2.3"/>
<circle cx="545.8" cy="158.1" r="2.3"/>
<circle cx="544.1" cy="168.6" r="2.3"/>
<circle cx="546.9" cy="161.7" r="2.3"/>
<circle cx="543.8" cy="159.8" r="2.3"/>
<circle cx="546.2" cy="162.7" r="2.3"/>
<circle cx="546.5" cy="165.9" r="2.3"/>
<circle cx="543.7" cy="165.4" r="2.3"/>
<circle cx="544.5" cy="170.4" r="2.3"/>
<circle cx="547.5" cy="165.5" r="2.3"/>
<circle cx="548.0" cy="173.4" r="2.3"/>
<circle cx="550.8" cy="158.6" r="2.3"/>
<circle cx="548.0" cy="163.6" r="2.3"/>
<circle cx="547.4" cy="152.4" r="2.3"/>
<circle cx="551.3" cy="161.3" r="2.3"/>
<circle cx="551.3" cy="167.1" r="2.3"/>
<circle cx="547.0" cy="166.6" r="2.3"/>
<circle cx="546.7" cy="151.2" r="2.3"/>
<circle cx="551.0" cy="158.2" r="2.3"/>
<circle cx="545.5" cy="158.9" r="2.3"/>
<circle cx="549.8" cy="140.3" r="2.3"/>
<circle cx="543.9" cy="167.7" r="2.3"/>
<circle cx="543.8" cy="165.6" r="2.3"/>
<circle cx="544.9" cy="156.5" r="2.3"/>
<circle cx="546.9" cy="163.2" r="2.3"/>
<circle cx="545.6" cy="144.9" r="2.3"/>
<circle cx="544.2" cy="175.5" r="2.3"/>
<circle cx="543.1" cy="164.0" r="2.3"/>
<circle cx="542.9" cy="171.2" r="2.3"/>
<circle cx="550.6" cy="166.5" r="2.3"/>
<circle cx="549.6" cy="170.3" r="2.3"/>
<circle cx="549.5" cy="177.7" r="2.3"/>
<circle cx="548.1" cy="161.3" r="2.3"/>
<circle cx="547.5" cy="157.8" r="2.3"/>
<circle cx="546.5" cy="165.6" r="2.3"/>
<circle cx="548.6" cy="156.5" r="2.3"/>
<circle cx="546.2" cy="172.2" r="2.3"/>
<circle cx="550.3" cy="165.9" r="2.3"/>
<circle cx="544.4" cy="168.0" r="2.3"/>
<circle cx="546.5" cy="160.0" r="2.3"/>
<circle cx="549.4" cy="156.0" r="2.3"/>
<circle cx="547.5" cy="168.3" r="2.3"/>
<circle cx="549.2" cy="155.5" r="2.3"/>
<circle cx="549.1" cy="176.6" r="2.3"/>
<circle cx="545.7" cy="162.0" r="2.3"/>
<circle cx="546.1" cy="161.7" r="2.3"/>
<circle cx="542.8" cy="164.9" r="2.3"/>
<circle cx="545.8" cy="165.3" r="2.3"/>
<circle cx="551.0" cy="158.1" r="2.3"/>
<circle cx="542.9" cy="157.4" r="2.3"/>
<circle cx="550.7" cy="157.5" r="2.3"/>
<circle cx="550.2" cy="179.2" r="2.3"/>
<circle cx="549.4" cy="160.3" r="2.3"/>
<circle cx="543.7" cy="160.1" r="2.3"/>
<circle cx="550.0" cy="163.2" r="2.3"/>
<circle cx="551.3" cy="159.9" r="2.3"/>
<circle cx="545.2" cy="167.0" r="2.3"/>
<circle cx="543.5" cy="170.2" r="2.3"/>
<circle cx="543.7" cy="175.4" r="2.3"/>
<circle cx="544.7" cy="168.1" r="2.3"/>
<circle cx="544.6" cy="163.7" r="2.3"/>
<circle cx="542.9" cy="151.4" r="2.3"/>
<circle cx="544.2" cy="160.9" r="2.3"/>
<circle cx="545.6" cy="161.8" r="2.3"/>
<circle cx="549.2" cy="175.9" r="2.3"/>
<circle cx="551.4" cy="157.1" r="2.3"/>
<circle cx="542.3" cy="167.6" r="2.3"/>
<circle cx="550.7" cy="161.9" r="2.3"/>
<circle cx="550.5" cy="155.8" r="2.3"/>
<circle cx="551.3" cy="150.8" r="2.3"/>
<circle cx="546.9" cy="159.3" r="2.3"/>
<circle cx="545.8" cy="164.1" r="2.3"/>
<circle cx="544.3" cy="168.5" r="2.3"/>
<circle cx="544.9" cy="153.6" r="2.3"/>
<circle cx="544.6" cy="176.5" r="2.3"/>
<circle cx="544.6" cy="167.1" r="2.3"/>
<circle cx="546.1" cy="152.1" r="2.3"/>
<circle cx="542.8" cy="163.6" r="2.3"/>
<circle cx="543.4" cy="159.2" r="2.3"/>
<circle cx="546.2" cy="162.1" r="2.3"/>
<circle cx="542.5" cy="167.4" r="2.3"/>
<circle cx="550.0" cy="150.4" r="2.3"/>
<circle cx="548.8" cy="159.7" r="2.3"/>
<circle cx="544.5" cy="167.6" r="2.3"/>
<circle cx="549.3" cy="159.5" r="2.3"/>
<circle cx="551.2" cy="152.4" r="2.3"/>
<circle cx="549.5" cy="158.4" r="2.3"/>
<circle cx="544.9" cy="148.3" r="2.3"/>
<circle cx="547.9" cy="153.1" r="2.3"/>
<circle cx="548.9" cy="159.4" r="2.3"/>
<circle cx="550.0" cy="168.2" r="2.3"/>
<circle cx="545.9" cy="167.3" r="2.3"/>
<circle cx="544.6" cy="167.1" r="2.3"/>
<circle cx="545.9" cy="167.7" r="2.3"/>
<circle cx="542.6" cy="171.4" r="2.3"/>
<circle cx="550.2" cy="177.8" r="2.3"/>
<circle cx="548.4" cy="155.3" r="2.3"/>
<circle cx="547.1" cy="162.8" r="2.3"/>
<circle cx="547.3" cy="166.1" r="2.3"/>
<circle cx="551.1" cy="155.6" r="2.3"/>
<circle cx="542.5" cy="165.1" r="2.3"/>
<circle cx="550.6" cy="142.0" r="2.3"/>
<circle cx="545.0" cy="173.6" r="2.3"/>
<circle cx="546.9" cy="180.7" r="2.3"/>
<circle cx="546.3" cy="171.9" r="2.3"/>
<circle cx="545.2" cy="171.5" r="2.3"/>
<circle cx="545.7" cy="168.5" r="2.3"/>
<circle cx="547.5" cy="158.6" r="2.3"/>
<circle cx="545.1" cy="179.5" r="2.3"/>
<circle cx="544.3" cy="171.2" r="2.3"/>
<circle cx="542.3" cy="167.5" r="2.3"/>
<circle cx="545.3" cy="182.3" r="2.3"/>
<circle cx="547.0" cy="161.0" r="2.3"/>
<circle cx="542.7" cy="170.4" r="2.3"/>
<circle cx="542.7" cy="189.3" r="2.3"/>
<circle cx="550.4" cy="149.5" r="2.3"/>
<circle cx="542.3" cy="161.3" r="2.3"/>
<circle cx="543.1" cy="157.1" r="2.3"/>
<circle cx="545.5" cy="166.8" r="2.3"/>
<circle cx="548.5" cy="155.2" r="2.3"/>
<circle cx="553.6" cy="154.9" r="2.3"/>
<circle cx="557.7" cy="155.2" r="2.3"/>
<circle cx="555.2" cy="156.8" r="2.3"/>
<circle cx="552.5" cy="169.3" r="2.3"/>
<circle cx="553.9" cy="151.2" r="2.3"/>
<circle cx="552.7" cy="159.7" r="2.3"/>
<circle cx="556.6" cy="161.9" r="2.3"/>
<circle cx="559.3" cy="138.6" r="2.3"/>
<circle cx="558.5" cy="143.4" r="2.3"/>
<circle cx="557.3" cy="151.3" r="2.3"/>
<circle cx="551.9" cy="155.9" r="2.3"/>
<circle cx="557.1" cy="155.0" r="2.3"/>
<circle cx="558.7" cy="153.8" r="2.3"/>
<circle cx="554.4" cy="149.8" r="2.3"/>
<circle cx="555.8" cy="157.8" r="2.3"/>
<circle cx="555.6" cy="159.2" r="2.3"/>
<circle cx="556.0" cy="157.7" r="2.3"/>
<circle cx="552.3" cy="166.8" r="2.3"/>
<circle cx="556.3" cy="149.1" r="2.3"/>
<circle cx="554.0" cy="152.3" r="2.3"/>
<circle cx="556.5" cy="173.4" r="2.3"/>
<circle cx="552.2" cy="172.7" r="2.3"/>
<circle cx="554.3" cy="157.1" r="2.3"/>
<circle cx="552.5" cy="169.6" r="2.3"/>
<circle cx="558.5" cy="178.2" r="2.3"/>
<circle cx="560.2" cy="135.4" r="2.3"/>
<circle cx="558.1" cy="148.0" r="2.3"/>
<circle cx="555.1" cy="161.3" r="2.3"/>
<circle cx="555.5" cy="161.3" r="2.3"/>
<circle cx="557.1" cy="149.0" r="2.3"/>
<circle cx="553.4" cy="144.1" r="2.3"/>
<circle cx="551.7" cy="166.5" r="2.3"/>
<circle cx="559.4" cy="150.1" r="2.3"/>
<circle cx="555.9" cy="162.0" r="2.3"/>
<circle cx="558.1" cy="149.9" r="2.3"/>
<circle cx="555.7" cy="167.6" r="2.3"/>
<circle cx="553.9" cy="176.6" r="2.3"/>
<circle cx="551.8" cy="159.2" r="2.3"/>
<circle cx="557.1" cy="155.1" r="2.3"/>
<circle cx="556.4" cy="147.7" r="2.3"/>
<circle cx="551.6" cy="157.4" r="2.3"/>
<circle cx="552.8" cy="144.9" r="2.3"/>
<circle cx="560.2" cy="150.1" r="2.3"/>
<circle cx="558.1" cy="137.4" r="2.3"/>
<circle cx="553.5" cy="155.6" r="2.3"/>
<circle cx="554.9" cy="156.1" r="2.3"/>
<circle cx="557.6" cy="153.3" r="2.3"/>
<circle cx="559.3" cy="150.6" r="2.3"/>
<circle cx="552.6" cy="149.3" r="2.3"/>
<circle cx="557.6" cy="172.1" r="2.3"/>
<circle cx="556.8" cy="148.7" r="2.3"/>
<circle cx="558.0" cy="134.5" r="2.3"/>
<circle cx="552.4" cy="175.0" r="2.3"/>
<circle cx="555.0" cy="161.8" r="2.3"/>
<circle cx="557.5" cy="151.8" r="2.3"/>
<circle cx="554.0" cy="142.6" r="2.3"/>
<circle cx="556.6" cy="160.1" r="2.3"/>
<circle cx="555.4" cy="154.0" r="2.3"/>
<circle cx="556.5" cy="149.2" r="2.3"/>
<circle cx="559.3" cy="148.8" r="2.3"/>
<circle cx="558.4" cy="142.3" r="2.3"/>
<circle cx="552.4" cy="159.3" r="2.3"/>
<circle cx="557.7" cy="154.0" r="2.3"/>
<circle cx="551.9" cy="155.5" r="2.3"/>
<circle cx="554.5" cy="151.0" r="2.3"/>
<circle cx="558.2" cy="151.3" r="2.3"/>
<circle cx="558.7" cy="156.2" r="2.3"/>
<circle cx="560.6" cy="160.5" r="2.3"/>
<circle cx="554.0" cy="150.6" r="2.3"/>
<circle cx="556.3" cy="166.9" r="2.3"/>
<circle cx="557.5" cy="143.3" r="2.3"/>
<circle cx="558.8" cy="130.5" r="2.3"/>
<circle cx="559.6" cy="135.9" r="2.3"/>
<circle cx="554.4" cy="133.2" r="2.3"/>
<circle cx="553.0" cy="152.5" r="2.3"/>
<circle cx="553.7" cy="150.4" r="2.3"/>
<circle cx="558.5" cy="161.1" r="2.3"/>
<circle cx="552.1" cy="167.1" r="2.3"/>
<circle cx="553.7" cy="157.9" r="2.3"/>
<circle cx="559.2" cy="164.3" r="2.3"/>
<circle cx="560.4" cy="145.4" r="2.3"/>
<circle cx="555.6" cy="148.5" r="2.3"/>
<circle cx="558.6" cy="140.0" r="2.3"/>
<circle cx="555.1" cy="144.6" r="2.3"/>
<circle cx="554.0" cy="145.9" r="2.3"/>
<circle cx="556.7" cy="148.1" r="2.3"/>
<circle cx="552.6" cy="160.0" r="2.3"/>
<circle cx="555.8" cy="147.8" r="2.3"/>
<circle cx="557.6" cy="140.5" r="2.3"/>
<circle cx="560.3" cy="154.3" r="2.3"/>
<circle cx="559.7" cy="144.2" r="2.3"/>
<circle cx="553.5" cy="162.2" r="2.3"/>
<circle cx="555.4" cy="139.3" r="2.3"/>
<circle cx="552.0" cy="153.5" r="2.3"/>
<circle cx="552.0" cy="162.6" r="2.3"/>
<circle cx="560.7" cy="143.4" r="2.3"/>
<circle cx="553.1" cy="155.6" r="2.3"/>
<circle cx="554.8" cy="173.5" r="2.3"/>
<circle cx="558.2" cy="153.4" r="2.3"/>
<circle cx="553.5" cy="153.3" r="2.3"/>
<circle cx="555.3" cy="149.3" r="2.3"/>
<circle cx="552.5" cy="159.0" r="2.3"/>
<circle cx="558.9" cy="147.6" r="2.3"/>
<circle cx="554.6" cy="155.2" r="2.3"/>
<circle cx="553.0" cy="157.0" r="2.3"/>
<circle cx="554.2" cy="149.6" r="2.3"/>
<circle cx="556.9" cy="162.1" r="2.3"/>
<circle cx="555.5" cy="172.3" r="2.3"/>
<circle cx="554.2" cy="145.0" r="2.3"/>
<circle cx="554.2" cy="155.8" r="2.3"/>
<circle cx="554.7" cy="166.4" r="2.3"/>
<circle cx="555.8" cy="152.6" r="2.3"/>
<circle cx="554.8" cy="157.2" r="2.3"/>
<circle cx="557.8" cy="150.4" r="2.3"/>
<circle cx="554.7" cy="180.7" r="2.3"/>
<circle cx="552.4" cy="148.2" r="2.3"/>
<circle cx="552.1" cy="160.3" r="2.3"/>
<circle cx="554.8" cy="149.5" r="2.3"/>
<circle cx="560.5" cy="142.6" r="2.3"/>
<circle cx="555.4" cy="146.3" r="2.3"/>
<circle cx="555.1" cy="145.0" r="2.3"/>
<circle cx="551.8" cy="166.6" r="2.3"/>
<circle cx="556.0" cy="149.6" r="2.3"/>
<circle cx="551.7" cy="165.8" r="2.3"/>
<circle cx="553.6" cy="162.4" r="2.3"/>
<circle cx="553.3" cy="166.9" r="2.3"/>
<circle cx="554.6" cy="160.6" r="2.3"/>
<circle cx="552.9" cy="153.5" r="2.3"/>
<circle cx="553.2" cy="145.7" r="2.3"/>
<circle cx="551.5" cy="161.8" r="2.3"/>
<circle cx="555.9" cy="166.3" r="2.3"/>
<circle cx="553.9" cy="142.9" r="2.3"/>
<circle cx="559.2" cy="145.7" r="2.3"/>
<circle cx="558.7" cy="141.7" r="2.3"/>
<circle cx="555.7" cy="155.6" r="2.3"/>
<circle cx="559.8" cy="152.7" r="2.3"/>
<circle cx="554.5" cy="156.0" r="2.3"/>
<circle cx="552.1" cy="153.2" r="2.3"/>
<circle cx="559.4" cy="149.9" r="2.3"/>
<circle cx="560.3" cy="148.4" r="2.3"/>
<circle cx="562.0" cy="140.1" r="2.3"/>
<circle cx="563.4" cy="140.1" r="2.3"/>
<circle cx="569.9" cy="120.8" r="2.3"/>
<circle cx="565.6" cy="143.8" r="2.3"/>
<circle cx="561.1" cy="144.0" r="2.3"/>
<circle cx="565.6" cy="134.2" r="2.3"/>
<circle cx="563.5" cy="145.9" r="2.3"/>
<circle cx="568.9" cy="140.0" r="2.3"/>
<circle cx="569.9" cy="134.3" r="2.3"/>
<circle cx="565.8" cy="146.3" r="2.3"/>
<circle cx="567.7" cy="141.6" r="2.3"/>
<circle cx="564.0" cy="145.6" r="2.3"/>
<circle cx="562.5" cy="144.8" r="2.3"/>
<circle cx="566.8" cy="148.4" r="2.3"/>
<circle cx="561.4" cy="154.5" r="2.3"/>
<circle cx="565.5" cy="149.2" r="2.3"/>
<circle cx="568.3" cy="146.2" r="2.3"/>
<circle cx="562.5" cy="137.9" r="2.3"/>
<circle cx="567.5" cy="136.8" r="2.3"/>
<circle cx="562.8" cy="148.7" r="2.3"/>
<circle cx="567.3" cy="138.5" r="2.3"/>
<circle cx="562.8" cy="145.0" r="2.3"/>
<circle cx="565.0" cy="137.8" r="2.3"/>
<circle cx="564.3" cy="132.0" r="2.3"/>
<circle cx="561.4" cy="144.6" r="2.3"/>
<circle cx="566.6" cy="136.4" r="2.3"/>
<circle cx="561.4" cy="142.1" r="2.3"/>
<circle cx="566.6" cy="140.8" r="2.3"/>
<circle cx="565.3" cy="141.7" r="2.3"/>
<circle cx="568.6" cy="123.6" r="2.3"/>
<circle cx="564.9" cy="139.4" r="2.3"/>
<circle cx="561.4" cy="146.2" r="2.3"/>
<circle cx="563.9" cy="137.5" r="2.3"/>
<circle cx="567.3" cy="133.6" r="2.3"/>
<circle cx="561.6" cy="144.8" r="2.3"/>
<circle cx="562.5" cy="145.5" r="2.3"/>
<circle cx="561.7" cy="142.8" r="2.3"/>
<circle cx="568.1" cy="145.2" r="2.3"/>
<circle cx="563.2" cy="146.4" r="2.3"/>
<circle cx="562.1" cy="133.3" r="2.3"/>
<circle cx="566.8" cy="139.5" r="2.3"/>
<circle cx="563.2" cy="144.6" r="2.3"/>
<circle cx="566.2" cy="162.8" r="2.3"/>
<circle cx="567.9" cy="140.5" r="2.3"/>
<circle cx="566.6" cy="127.2" r="2.3"/>
<circle cx="568.3" cy="137.0" r="2.3"/>
<circle cx="563.0" cy="144.7" r="2.3"/>
<circle cx="567.6" cy="136.4" r="2.3"/>
<circle cx="566.4" cy="130.0" r="2.3"/>
<circle cx="564.4" cy="139.4" r="2.3"/>
<circle cx="566.7" cy="139.0" r="2.3"/>
<circle cx="566.7" cy="143.1" r="2.3"/>
<circle cx="562.1" cy="142.9" r="2.3"/>
<circle cx="563.2" cy="139.7" r="2.3"/>
<circle cx="565.8" cy="128.5" r="2.3"/>
<circle cx="562.7" cy="146.5" r="2.3"/>
<circle cx="564.9" cy="140.2" r="2.3"/>
<circle cx="564.2" cy="146.4" r="2.3"/>
<circle cx="565.8" cy="139.3" r="2.3"/>
<circle cx="562.3" cy="149.2" r="2.3"/>
<circle cx="566.5" cy="141.3" r="2.3"/>
<circle cx="567.5" cy="134.8" r="2.3"/>
<circle cx="565.3" cy="136.0" r="2.3"/>
<circle cx="563.8" cy="142.9" r="2.3"/>
<circle cx="562.6" cy="149.8" r="2.3"/>
<circle cx="568.6" cy="136.9" r="2.3"/>
<circle cx="569.5" cy="133.3" r="2.3"/>
<circle cx="568.0" cy="149.4" r="2.3"/>
<circle cx="563.7" cy="143.6" r="2.3"/>
<circle cx="568.3" cy="135.7" r="2.3"/>
<circle cx="564.6" cy="149.6" r="2.3"/>
<circle cx="562.8" cy="140.9" r="2.3"/>
<circle cx="564.9" cy="136.0" r="2.3"/>
<circle cx="560.9" cy="150.6" r="2.3"/>
<circle cx="561.6" cy="150.0" r="2.3"/>
<circle cx="566.0" cy="139.6" r="2.3"/>
<circle cx="569.4" cy="140.2" r="2.3"/>
<circle cx="569.7" cy="127.5" r="2.3"/>
<circle cx="567.0" cy="140.1" r="2.3"/>
<circle cx="563.3" cy="152.8" r="2.3"/>
<circle cx="560.8" cy="137.8" r="2.3"/>
<circle cx="568.4" cy="136.4" r="2.3"/>
<circle cx="561.1" cy="149.1" r="2.3"/>
<circle cx="567.8" cy="137.1" r="2.3"/>
<circle cx="567.6" cy="132.5" r="2.3"/>
<circle cx="561.7" cy="149.9" r="2.3"/>
<circle cx="567.6" cy="136.4" r="2.3"/>
<circle cx="565.5" cy="138.5" r="2.3"/>
<circle cx="563.5" cy="142.8" r="2.3"/>
<circle cx="568.2" cy="127.6" r="2.3"/>
<circle cx="563.1" cy="147.5" r="2.3"/>
<circle cx="566.7" cy="137.3" r="2.3"/>
<circle cx="562.0" cy="136.6" r="2.3"/>
<circle cx="569.3" cy="132.3" r="2.3"/>
<circle cx="567.4" cy="137.4" r="2.3"/>
<circle cx="564.8" cy="132.9" r="2.3"/>
<circle cx="561.8" cy="143.5" r="2.3"/>
<circle cx="570.0" cy="130.4" r="2.3"/>
<circle cx="565.2" cy="147.5" r="2.3"/>
<circle cx="569.3" cy="132.2" r="2.3"/>
<circle cx="569.9" cy="134.0" r="2.3"/>
<circle cx="566.2" cy="139.2" r="2.3"/>
<circle cx="564.9" cy="140.0" r="2.3"/>
<circle cx="563.3" cy="134.4" r="2.3"/>
<circle cx="565.1" cy="144.5" r="2.3"/>
<circle cx="564.6" cy="144.0" r="2.3"/>
<circle cx="561.9" cy="140.7" r="2.3"/>
<circle cx="562.5" cy="139.8" r="2.3"/>
<circle cx="568.4" cy="140.6" r="2.3"/>
<circle cx="569.0" cy="138.6" r="2.3"/>
<circle cx="565.2" cy="130.6" r="2.3"/>
<circle cx="570.0" cy="130.6" r="2.3"/>
<circle cx="566.5" cy="140.5" r="2.3"/>
<circle cx="563.6" cy="137.4" r="2.3"/>
<circle cx="567.5" cy="135.1" r="2.3"/>
<circle cx="567.2" cy="131.0" r="2.3"/>
<circle cx="567.9" cy="136.4" r="2.3"/>
<circle cx="569.9" cy="133.2" r="2.3"/>
<circle cx="563.5" cy="139.1" r="2.3"/>
<circle cx="562.4" cy="142.9" r="2.3"/>
<circle cx="566.2" cy="138.1" r="2.3"/>
<circle cx="563.8" cy="139.7" r="2.3"/>
<circle cx="566.2" cy="139.0" r="2.3"/>
<circle cx="568.3" cy="139.1" r="2.3"/>
<circle cx="563.3" cy="142.3" r="2.3"/>
<circle cx="575.0" cy="123.0" r="2.3"/>
<circle cx="572.1" cy="126.3" r="2.3"/>
<circle cx="575.5" cy="129.6" r="2.3"/>
<circle cx="575.7" cy="117.1" r="2.3"/>
<circle cx="570.2" cy="135.6" r="2.3"/>
<circle cx="570.5" cy="138.0" r="2.3"/>
<circle cx="579.2" cy="125.6" r="2.3"/>
<circle cx="576.9" cy="130.3" r="2.3"/>
<circle cx="578.6" cy="124.3" r="2.3"/>
<circle cx="575.7" cy="127.4" r="2.3"/>
<circle cx="577.4" cy="124.4" r="2.3"/>
<circle cx="570.6" cy="144.8" r="2.3"/>
<circle cx="573.2" cy="128.5" r="2.3"/>
<circle cx="575.3" cy="130.8" r="2.3"/>
<circle cx="575.2" cy="115.9" r="2.3"/>
<circle cx="573.3" cy="127.5" r="2.3"/>
<circle cx="570.3" cy="130.9" r="2.3"/>
<circle cx="574.7" cy="117.7" r="2.3"/>
<circle cx="578.8" cy="119.2" r="2.3"/>
<circle cx="576.5" cy="124.8" r="2.3"/>
<circle cx="577.3" cy="127.7" r="2.3"/>
<circle cx="579.2" cy="125.6" r="2.3"/>
<circle cx="578.9" cy="122.2" r="2.3"/>
<circle cx="577.5" cy="127.8" r="2.3"/>
<circle cx="578.5" cy="127.9" r="2.3"/>
<circle cx="572.2" cy="134.3" r="2.3"/>
<circle cx="578.5" cy="131.1" r="2.3"/>
<circle cx="574.3" cy="131.0" r="2.3"/>
<circle cx="570.8" cy="126.7" r="2.3"/>
<circle cx="572.2" cy="141.4" r="2.3"/>
<circle cx="578.0" cy="139.2" r="2.3"/>
<circle cx="578.3" cy="124.6" r="2.3"/>
<circle cx="578.1" cy="127.8" r="2.3"/>
<circle cx="578.1" cy="132.4" r="2.3"/>
<circle cx="579.1" cy="129.0" r="2.3"/>
<circle cx="574.2" cy="149.3" r="2.3"/>
<circle cx="570.3" cy="144.5" r="2.3"/>
<circle cx="570.5" cy="134.1" r="2.3"/>
<circle cx="576.5" cy="138.9" r="2.3"/>
<circle cx="573.9" cy="130.8" r="2.3"/>
<circle cx="571.7" cy="131.0" r="2.3"/>
<circle cx="572.1" cy="131.0" r="2.3"/>
<circle cx="572.3" cy="137.4" r="2.3"/>
<circle cx="573.7" cy="130.6" r="2.3"/>
<circle cx="578.9" cy="125.9" r="2.3"/>
<circle cx="576.8" cy="131.3" r="2.3"/>
<circle cx="571.6" cy="137.6" r="2.3"/>
<circle cx="573.5" cy="126.0" r="2.3"/>
<circle cx="576.1" cy="134.6" r="2.3"/>
<circle cx="577.7" cy="129.9" r="2.3"/>
<circle cx="572.4" cy="122.6" r="2.3"/>
<circle cx="576.8" cy="128.2" r="2.3"/>
<circle cx="575.1" cy="130.7" r="2.3"/>
<circle cx="579.0" cy="121.2" r="2.3"/>
<circle cx="571.2" cy="133.6" r="2.3"/>
<circle cx="575.3" cy="129.3" r="2.3"/>
<circle cx="575.7" cy="128.9" r="2.3"/>
<circle cx="577.9" cy="150.6" r="2.3"/>
<circle cx="576.5" cy="125.4" r="2.3"/>
<circle cx="578.7" cy="110.4" r="2.3"/>
<circle cx="575.8" cy="126.6" r="2.3"/>
<circle cx="572.4" cy="148.2" r="2.3"/>
<circle cx="576.1" cy="117.7" r="2.3"/>
<circle cx="572.8" cy="130.7" r="2.3"/>
<circle cx="579.1" cy="132.1" r="2.3"/>
<circle cx="572.3" cy="131.2" r="2.3"/>
<circle cx="571.9" cy="132.7" r="2.3"/>
<circle cx="575.1" cy="130.8" r="2.3"/>
<circle cx="572.8" cy="132.9" r="2.3"/>
<circle cx="572.7" cy="133.9" r="2.3"/>
<circle cx="572.3" cy="128.1" r="2.3"/>
<circle cx="570.8" cy="131.7" r="2.3"/>
<circle cx="577.5" cy="125.9" r="2.3"/>
<circle cx="575.2" cy="130.8" r="2.3"/>
<circle cx="577.3" cy="112.1" r="2.3"/>
<circle cx="576.6" cy="129.9" r="2.3"/>
<circle cx="578.0" cy="129.2" r="2.3"/>
<circle cx="570.5" cy="137.1" r="2.3"/>
<circle cx="578.5" cy="123.3" r="2.3"/>
<circle cx="572.2" cy="132.3" r="2.3"/>
<circle cx="573.7" cy="122.2" r="2.3"/>
<circle cx="577.6" cy="124.9" r="2.3"/>
<circle cx="576.6" cy="128.1" r="2.3"/>
<circle cx="576.4" cy="122.6" r="2.3"/>
<circle cx="577.8" cy="127.0" r="2.3"/>
<circle cx="576.3" cy="116.9" r="2.3"/>
<circle cx="579.1" cy="126.8" r="2.3"/>
<circle cx="578.3" cy="129.6" r="2.3"/>
<circle cx="578.0" cy="127.1" r="2.3"/>
<circle cx="578.4" cy="121.5" r="2.3"/>
<circle cx="578.4" cy="125.6" r="2.3"/>
<circle cx="578.4" cy="128.8" r="2.3"/>
<circle cx="577.4" cy="126.3" r="2.3"/>
<circle cx="575.8" cy="128.7" r="2.3"/>
<circle cx="571.6" cy="137.5" r="2.3"/>
<circle cx="577.2" cy="155.5" r="2.3"/>
<circle cx="572.7" cy="131.1" r="2.3"/>
<circle cx="575.4" cy="124.7" r="2.3"/>
<circle cx="572.2" cy="126.7" r="2.3"/>
<circle cx="572.9" cy="131.4" r="2.3"/>
<circle cx="573.3" cy="129.9" r="2.3"/>
<circle cx="576.4" cy="126.0" r="2.3"/>
<circle cx="577.5" cy="122.7" r="2.3"/>
<circle cx="575.1" cy="126.6" r="2.3"/>
<circle cx="570.6" cy="135.4" r="2.3"/>
<circle cx="576.7" cy="125.3" r="2.3"/>
<circle cx="574.7" cy="130.2" r="2.3"/>
<circle cx="576.4" cy="128.1" r="2.3"/>
<circle cx="572.1" cy="132.9" r="2.3"/>
<circle cx="575.6" cy="128.3" r="2.3"/>
<circle cx="572.1" cy="131.4" r="2.3"/>
<circle cx="575.0" cy="126.2" r="2.3"/>
<circle cx="570.9" cy="132.4" r="2.3"/>
<circle cx="573.6" cy="130.9" r="2.3"/>
<circle cx="573.6" cy="127.7" r="2.3"/>
<circle cx="579.4" cy="124.7" r="2.3"/>
<circle cx="587.0" cy="119.5" r="2.3"/>
<circle cx="583.7" cy="118.8" r="2.3"/>
<circle cx="586.0" cy="116.8" r="2.3"/>
<circle cx="584.2" cy="109.7" r="2.3"/>
<circle cx="582.2" cy="121.8" r="2.3"/>
<circle cx="580.8" cy="124.0" r="2.3"/>
<circle cx="587.4" cy="112.1" r="2.3"/>
<circle cx="581.2" cy="132.5" r="2.3"/>
<circle cx="579.3" cy="125.5" r="2.3"/>
<circle cx="582.9" cy="134.3" r="2.3"/>
<circle cx="584.3" cy="120.6" r="2.3"/>
<circle cx="586.4" cy="118.7" r="2.3"/>
<circle cx="580.7" cy="124.4" r="2.3"/>
<circle cx="584.1" cy="118.1" r="2.3"/>
<circle cx="582.1" cy="123.7" r="2.3"/>
<circle cx="580.1" cy="122.9" r="2.3"/>
<circle cx="586.5" cy="112.9" r="2.3"/>
<circle cx="583.3" cy="133.7" r="2.3"/>
<circle cx="586.3" cy="134.6" r="2.3"/>
<circle cx="582.7" cy="97.2" r="2.3"/>
<circle cx="588.5" cy="119.8" r="2.3"/>
<circle cx="581.7" cy="134.8" r="2.3"/>
<circle cx="581.3" cy="124.7" r="2.3"/>
<circle cx="586.6" cy="122.6" r="2.3"/>
<circle cx="584.6" cy="105.8" r="2.3"/>
<circle cx="581.1" cy="126.3" r="2.3"/>
<circle cx="583.5" cy="126.5" r="2.3"/>
<circle cx="584.9" cy="113.2" r="2.3"/>
<circle cx="584.7" cy="117.6" r="2.3"/>
<circle cx="579.4" cy="127.5" r="2.3"/>
<circle cx="588.1" cy="120.7" r="2.3"/>
<circle cx="585.9" cy="118.3" r="2.3"/>
<circle cx="588.5" cy="117.0" r="2.3"/>
<circle cx="585.0" cy="113.6" r="2.3"/>
<circle cx="581.5" cy="122.1" r="2.3"/>
<circle cx="582.7" cy="117.3" r="2.3"/>
<circle cx="587.3" cy="115.0" r="2.3"/>
<circle cx="585.8" cy="119.1" r="2.3"/>
<circle cx="582.4" cy="120.2" r="2.3"/>
<circle cx="586.7" cy="120.2" r="2.3"/>
<circle cx="585.1" cy="99.4" r="2.3"/>
<circle cx="583.4" cy="120.5" r="2.3"/>
<circle cx="581.3" cy="122.1" r="2.3"/>
<circle cx="581.8" cy="123.0" r="2.3"/>
<circle cx="583.5" cy="124.6" r="2.3"/>
<circle cx="585.7" cy="117.3" r="2.3"/>
<circle cx="584.7" cy="110.1" r="2.3"/>
<circle cx="581.8" cy="122.6" r="2.3"/>
<circle cx="588.4" cy="101.8" r="2.3"/>
<circle cx="580.9" cy="129.5" r="2.3"/>
<circle cx="583.0" cy="121.9" r="2.3"/>
<circle cx="580.0" cy="123.4" r="2.3"/>
<circle cx="583.4" cy="117.5" r="2.3"/>
<circle cx="584.4" cy="106.1" r="2.3"/>
<circle cx="584.5" cy="122.0" r="2.3"/>
<circle cx="584.9" cy="116.8" r="2.3"/>
<circle cx="580.5" cy="122.2" r="2.3"/>
<circle cx="586.2" cy="122.9" r="2.3"/>
<circle cx="583.5" cy="120.4" r="2.3"/>
<circle cx="587.1" cy="121.8" r="2.3"/>
<circle cx="587.8" cy="123.5" r="2.3"/>
<circle cx="587.8" cy="115.0" r="2.3"/>
<circle cx="587.6" cy="119.0" r="2.3"/>
<circle cx="584.7" cy="125.6" r="2.3"/>
<circle cx="584.3" cy="114.3" r="2.3"/>
<circle cx="581.9" cy="126.2" r="2.3"/>
<circle cx="583.5" cy="119.4" r="2.3"/>
<circle cx="581.9" cy="124.5" r="2.3"/>
<circle cx="584.3" cy="113.3" r="2.3"/>
<circle cx="588.1" cy="116.6" r="2.3"/>
<circle cx="585.1" cy="114.0" r="2.3"/>
<circle cx="579.4" cy="128.3" r="2.3"/>
<circle cx="583.1" cy="128.7" r="2.3"/>
<circle cx="586.9" cy="113.8" r="2.3"/>
<circle cx="581.6" cy="127.3" r="2.3"/>
<circle cx="586.2" cy="116.5" r="2.3"/>
<circle cx="580.5" cy="110.5" r="2.3"/>
<circle cx="580.3" cy="117.6" r="2.3"/>
<circle cx="581.9" cy="120.1" r="2.3"/>
<circle cx="582.6" cy="105.4" r="2.3"/>
<circle cx="586.7" cy="114.9" r="2.3"/>
<circle cx="580.4" cy="121.9" r="2.3"/>
<circle cx="586.5" cy="116.7" r="2.3"/>
<circle cx="585.5" cy="124.7" r="2.3"/>
<circle cx="579.7" cy="125.3" r="2.3"/>
<circle cx="581.7" cy="125.0" r="2.3"/>
<circle cx="584.4" cy="118.1" r="2.3"/>
<circle cx="581.1" cy="123.1" r="2.3"/>
<circle cx="583.7" cy="116.0" r="2.3"/>
<circle cx="585.9" cy="119.8" r="2.3"/>
<circle cx="585.6" cy="115.6" r="2.3"/>
<circle cx="582.8" cy="117.2" r="2.3"/>
<circle cx="586.2" cy="111.6" r="2.3"/>
<circle cx="582.3" cy="137.7" r="2.3"/>
<circle cx="581.4" cy="125.6" r="2.3"/>
<circle cx="582.6" cy="124.9" r="2.3"/>
<circle cx="580.0" cy="123.7" r="2.3"/>
<circle cx="587.5" cy="117.1" r="2.3"/>
<circle cx="580.6" cy="121.8" r="2.3"/>
<circle cx="590.9" cy="109.9" r="2.3"/>
<circle cx="592.0" cy="109.9" r="2.3"/>
<circle cx="589.5" cy="101.5" r="2.3"/>
<circle cx="589.9" cy="111.7" r="2.3"/>
<circle cx="594.5" cy="88.6" r="2.3"/>
<circle cx="594.2" cy="103.8" r="2.3"/>
<circle cx="589.1" cy="115.7" r="2.3"/>
<circle cx="588.9" cy="108.6" r="2.3"/>
<circle cx="595.7" cy="106.3" r="2.3"/>
<circle cx="592.7" cy="113.9" r="2.3"/>
<circle cx="592.1" cy="126.7" r="2.3"/>
<circle cx="589.1" cy="113.7" r="2.3"/>
<circle cx="596.2" cy="109.8" r="2.3"/>
<circle cx="592.8" cy="108.4" r="2.3"/>
<circle cx="591.1" cy="111.1" r="2.3"/>
<circle cx="588.6" cy="122.6" r="2.3"/>
<circle cx="592.5" cy="106.5" r="2.3"/>
<circle cx="596.0" cy="90.9" r="2.3"/>
<circle cx="597.7" cy="92.0" r="2.3"/>
<circle cx="591.3" cy="106.2" r="2.3"/>
<circle cx="592.0" cy="107.5" r="2.3"/>
<circle cx="588.9" cy="110.8" r="2.3"/>
<circle cx="592.6" cy="111.4" r="2.3"/>
<circle cx="589.6" cy="115.5" r="2.3"/>
<circle cx="594.1" cy="106.0" r="2.3"/>
<circle cx="592.7" cy="126.8" r="2.3"/>
<circle cx="590.3" cy="113.4" r="2.3"/>
<circle cx="591.5" cy="122.8" r="2.3"/>
<circle cx="590.0" cy="119.6" r="2.3"/>
<circle cx="593.7" cy="106.2" r="2.3"/>
<circle cx="588.7" cy="116.8" r="2.3"/>
<circle cx="589.9" cy="121.7" r="2.3"/>
<circle cx="589.1" cy="118.0" r="2.3"/>
<circle cx="597.1" cy="104.4" r="2.3"/>
<circle cx="597.1" cy="101.2" r="2.3"/>
<circle cx="593.8" cy="117.3" r="2.3"/>
<circle cx="590.7" cy="116.7" r="2.3"/>
<circle cx="593.7" cy="109.0" r="2.3"/>
<circle cx="591.4" cy="124.4" r="2.3"/>
<circle cx="591.3" cy="113.3" r="2.3"/>
<circle cx="592.8" cy="113.4" r="2.3"/>
<circle cx="596.8" cy="108.2" r="2.3"/>
<circle cx="593.3" cy="114.3" r="2.3"/>
<circle cx="597.3" cy="106.6" r="2.3"/>
<circle cx="593.7" cy="112.0" r="2.3"/>
<circle cx="588.9" cy="103.7" r="2.3"/>
<circle cx="597.3" cy="105.8" r="2.3"/>
<circle cx="593.4" cy="116.9" r="2.3"/>
<circle cx="596.5" cy="115.1" r="2.3"/>
<circle cx="597.8" cy="105.2" r="2.3"/>
<circle cx="590.0" cy="118.1" r="2.3"/>
<circle cx="594.6" cy="108.4" r="2.3"/>
<circle cx="593.9" cy="107.0" r="2.3"/>
<circle cx="588.8" cy="114.4" r="2.3"/>
<circle cx="594.7" cy="106.7" r="2.3"/>
<circle cx="595.3" cy="111.9" r="2.3"/>
<circle cx="591.0" cy="119.2" r="2.3"/>
<circle cx="592.2" cy="103.7" r="2.3"/>
<circle cx="593.4" cy="110.1" r="2.3"/>
<circle cx="589.1" cy="120.9" r="2.3"/>
<circle cx="596.8" cy="105.3" r="2.3"/>
<circle cx="589.3" cy="112.1" r="2.3"/>
<circle cx="591.6" cy="119.9" r="2.3"/>
<circle cx="594.2" cy="111.9" r="2.3"/>
<circle cx="594.2" cy="110.0" r="2.3"/>
<circle cx="596.6" cy="88.3" r="2.3"/>
<circle cx="590.4" cy="122.2" r="2.3"/>
<circle cx="594.8" cy="103.1" r="2.3"/>
<circle cx="589.8" cy="108.7" r="2.3"/>
<circle cx="595.1" cy="102.2" r="2.3"/>
<circle cx="593.8" cy="111.7" r="2.3"/>
<circle cx="596.7" cy="104.3" r="2.3"/>
<circle cx="596.5" cy="107.9" r="2.3"/>
<circle cx="588.6" cy="112.4" r="2.3"/>
<circle cx="590.8" cy="110.6" r="2.3"/>
<circle cx="594.2" cy="125.2" r="2.3"/>
<circle cx="591.7" cy="111.1" r="2.3"/>
<circle cx="588.8" cy="113.0" r="2.3"/>
<circle cx="596.4" cy="105.8" r="2.3"/>
<circle cx="597.5" cy="105.9" r="2.3"/>
<circle cx="590.4" cy="114.4" r="2.3"/>
<circle cx="590.4" cy="113.6" r="2.3"/>
<circle cx="595.5" cy="104.5" r="2.3"/>
<circle cx="592.5" cy="104.5" r="2.3"/>
<circle cx="597.6" cy="109.5" r="2.3"/>
<circle cx="603.6" cy="96.6" r="2.3"/>
<circle cx="601.6" cy="93.8" r="2.3"/>
<circle cx="603.3" cy="94.1" r="2.3"/>
<circle cx="599.7" cy="105.4" r="2.3"/>
<circle cx="606.8" cy="93.5" r="2.3"/>
<circle cx="602.4" cy="105.5" r="2.3"/>
<circle cx="601.1" cy="108.3" r="2.3"/>
<circle cx="606.3" cy="93.2" r="2.3"/>
<circle cx="605.3" cy="98.7" r="2.3"/>
<circle cx="600.4" cy="104.2" r="2.3"/>
<circle cx="604.0" cy="100.2" r="2.3"/>
<circle cx="603.1" cy="104.2" r="2.3"/>
<circle cx="603.9" cy="86.1" r="2.3"/>
<circle cx="599.5" cy="103.9" r="2.3"/>
<circle cx="603.7" cy="96.5" r="2.3"/>
<circle cx="603.7" cy="99.9" r="2.3"/>
<circle cx="600.4" cy="104.2" r="2.3"/>
<circle cx="606.6" cy="93.3" r="2.3"/>
<circle cx="606.8" cy="95.4" r="2.3"/>
<circle cx="606.2" cy="96.7" r="2.3"/>
<circle cx="606.1" cy="94.8" r="2.3"/>
<circle cx="604.1" cy="98.3" r="2.3"/>
<circle cx="605.8" cy="85.9" r="2.3"/>
<circle cx="600.8" cy="106.8" r="2.3"/>
<circle cx="601.8" cy="106.4" r="2.3"/>
<circle cx="605.2" cy="91.0" r="2.3"/>
<circle cx="604.2" cy="89.8" r="2.3"/>
<circle cx="602.3" cy="98.7" r="2.3"/>
<circle cx="598.2" cy="99.4" r="2.3"/>
<circle cx="602.2" cy="103.8" r="2.3"/>
<circle cx="600.0" cy="97.3" r="2.3"/>
<circle cx="604.5" cy="104.3" r="2.3"/>
<circle cx="604.5" cy="99.2" r="2.3"/>
<circle cx="603.2" cy="94.8" r="2.3"/>
<circle cx="605.6" cy="101.6" r="2.3"/>
<circle cx="603.4" cy="105.3" r="2.3"/>
<circle cx="602.0" cy="99.0" r="2.3"/>
<circle cx="599.1" cy="105.5" r="2.3"/>
<circle cx="599.4" cy="105.6" r="2.3"/>
<circle cx="599.0" cy="102.6" r="2.3"/>
<circle cx="601.4" cy="106.0" r="2.3"/>
<circle cx="604.7" cy="92.2" r="2.3"/>
<circle cx="601.3" cy="101.7" r="2.3"/>
<circle cx="605.6" cy="103.8" r="2.3"/>
<circle cx="602.6" cy="99.4" r="2.3"/>
<circle cx="605.7" cy="97.6" r="2.3"/>
<circle cx="605.8" cy="97.4" r="2.3"/>
<circle cx="599.8" cy="105.3" r="2.3"/>
<circle cx="605.5" cy="86.3" r="2.3"/>
<circle cx="607.0" cy="95.0" r="2.3"/>
<circle cx="604.1" cy="96.5" r="2.3"/>
<circle cx="599.4" cy="111.5" r="2.3"/>
<circle cx="606.0" cy="93.9" r="2.3"/>
<circle cx="602.7" cy="98.2" r="2.3"/>
<circle cx="601.1" cy="97.4" r="2.3"/>
<circle cx="604.3" cy="99.7" r="2.3"/>
<circle cx="600.4" cy="105.0" r="2.3"/>
<circle cx="602.2" cy="106.0" r="2.3"/>
<circle cx="600.8" cy="102.5" r="2.3"/>
<circle cx="602.5" cy="99.5" r="2.3"/>
<circle cx="606.0" cy="103.5" r="2.3"/>
<circle cx="602.8" cy="96.5" r="2.3"/>
<circle cx="599.8" cy="98.7" r="2.3"/>
<circle cx="606.7" cy="91.0" r="2.3"/>
<circle cx="601.4" cy="99.3" r="2.3"/>
<circle cx="614.4" cy="79.9" r="2.3"/>
<circle cx="608.1" cy="94.5" r="2.3"/>
<circle cx="615.7" cy="87.4" r="2.3"/>
<circle cx="611.1" cy="98.6" r="2.3"/>
<circle cx="607.6" cy="85.8" r="2.3"/>
<circle cx="607.9" cy="90.1" r="2.3"/>
<circle cx="614.6" cy="88.4" r="2.3"/>
<circle cx="609.9" cy="92.8" r="2.3"/>
<circle cx="611.4" cy="88.3" r="2.3"/>
<circle cx="608.1" cy="93.0" r="2.3"/>
<circle cx="613.8" cy="78.5" r="2.3"/>
<circle cx="608.0" cy="99.9" r="2.3"/>
<circle cx="615.4" cy="79.6" r="2.3"/>
<circle cx="608.1" cy="93.5" r="2.3"/>
<circle cx="614.8" cy="80.6" r="2.3"/>
<circle cx="611.1" cy="89.8" r="2.3"/>
<circle cx="610.8" cy="112.8" r="2.3"/>
<circle cx="608.0" cy="96.5" r="2.3"/>
<circle cx="610.4" cy="90.7" r="2.3"/>
<circle cx="615.6" cy="85.7" r="2.3"/>
<circle cx="607.6" cy="91.6" r="2.3"/>
<circle cx="608.1" cy="95.8" r="2.3"/>
<circle cx="615.9" cy="91.8" r="2.3"/>
<circle cx="614.6" cy="90.1" r="2.3"/>
<circle cx="615.7" cy="75.7" r="2.3"/>
<circle cx="615.5" cy="83.8" r="2.3"/>
<circle cx="616.1" cy="78.6" r="2.3"/>
<circle cx="610.4" cy="94.7" r="2.3"/>
<circle cx="614.7" cy="89.5" r="2.3"/>
<circle cx="610.2" cy="94.8" r="2.3"/>
<circle cx="612.8" cy="97.4" r="2.3"/>
<circle cx="607.2" cy="92.3" r="2.3"/>
<circle cx="609.8" cy="99.8" r="2.3"/>
<circle cx="610.1" cy="92.7" r="2.3"/>
<circle cx="610.2" cy="90.9" r="2.3"/>
<circle cx="608.4" cy="83.4" r="2.3"/>
<circle cx="607.2" cy="93.8" r="2.3"/>
<circle cx="609.2" cy="95.1" r="2.3"/>
<circle cx="607.3" cy="94.5" r="2.3"/>
<circle cx="609.0" cy="90.6" r="2.3"/>
<circle cx="619.7" cy="78.9" r="2.3"/>
<circle cx="621.1" cy="77.9" r="2.3"/>
<circle cx="619.4" cy="85.3" r="2.3"/>
<circle cx="619.6" cy="82.9" r="2.3"/>
<circle cx="621.4" cy="81.6" r="2.3"/>
<circle cx="622.5" cy="79.0" r="2.3"/>
<circle cx="623.6" cy="83.6" r="2.3"/>
<circle cx="621.5" cy="73.6" r="2.3"/>
<circle cx="624.1" cy="77.2" r="2.3"/>
<circle cx="622.8" cy="81.4" r="2.3"/>
<circle cx="622.0" cy="78.1" r="2.3"/>
<circle cx="617.4" cy="84.0" r="2.3"/>
<circle cx="617.1" cy="83.5" r="2.3"/>
<circle cx="616.5" cy="76.5" r="2.3"/>
<circle cx="619.2" cy="80.5" r="2.3"/>
<circle cx="620.9" cy="93.2" r="2.3"/>
<circle cx="618.4" cy="82.0" r="2.3"/>
<circle cx="621.7" cy="76.4" r="2.3"/>
<circle cx="617.1" cy="83.7" r="2.3"/>
<circle cx="620.9" cy="78.5" r="2.3"/>
<circle cx="618.6" cy="84.5" r="2.3"/>
<circle cx="619.4" cy="106.5" r="2.3"/>
<circle cx="623.8" cy="77.4" r="2.3"/>
<circle cx="616.6" cy="92.1" r="2.3"/>
<circle cx="623.1" cy="78.4" r="2.3"/>
<circle cx="619.1" cy="83.9" r="2.3"/>
<circle cx="624.9" cy="76.3" r="2.3"/>
<circle cx="619.6" cy="83.1" r="2.3"/>
<circle cx="623.1" cy="72.8" r="2.3"/>
<circle cx="619.1" cy="84.5" r="2.3"/>
<circle cx="628.9" cy="69.1" r="2.3"/>
<circle cx="634.6" cy="56.4" r="2.3"/>
<circle cx="626.5" cy="78.0" r="2.3"/>
<circle cx="631.8" cy="66.4" r="2.3"/>
<circle cx="629.5" cy="69.2" r="2.3"/>
<circle cx="626.2" cy="73.8" r="2.3"/>
<circle cx="626.3" cy="85.0" r="2.3"/>
<circle cx="628.7" cy="68.1" r="2.3"/>
<circle cx="627.4" cy="77.9" r="2.3"/>
<circle cx="632.3" cy="68.3" r="2.3"/>
<circle cx="633.4" cy="64.0" r="2.3"/>
<circle cx="631.8" cy="65.7" r="2.3"/>
<circle cx="630.7" cy="70.6" r="2.3"/>
<circle cx="629.5" cy="67.6" r="2.3"/>
<circle cx="626.3" cy="79.5" r="2.3"/>
<circle cx="634.7" cy="62.9" r="2.3"/>
<circle cx="632.4" cy="80.8" r="2.3"/>
<circle cx="627.4" cy="71.7" r="2.3"/>
<circle cx="625.9" cy="68.7" r="2.3"/>
<circle cx="625.9" cy="66.2" r="2.3"/>
<circle cx="631.2" cy="77.4" r="2.3"/>
<circle cx="634.0" cy="64.8" r="2.3"/>
<circle cx="643.9" cy="54.2" r="2.3"/>
<circle cx="635.3" cy="60.7" r="2.3"/>
<circle cx="640.7" cy="55.8" r="2.3"/>
<circle cx="639.0" cy="61.9" r="2.3"/>
<circle cx="640.2" cy="56.1" r="2.3"/>
<circle cx="640.6" cy="62.0" r="2.3"/>
<circle cx="643.8" cy="57.0" r="2.3"/>
<circle cx="638.7" cy="49.5" r="2.3"/>
<circle cx="637.2" cy="63.7" r="2.3"/>
<circle cx="638.4" cy="61.0" r="2.3"/>
<circle cx="637.1" cy="57.7" r="2.3"/>
<circle cx="636.9" cy="65.7" r="2.3"/>
<circle cx="642.5" cy="57.6" r="2.3"/>
<circle cx="641.1" cy="64.2" r="2.3"/>
<circle cx="643.3" cy="55.9" r="2.3"/>
<circle cx="640.2" cy="58.5" r="2.3"/>
<circle cx="642.9" cy="58.1" r="2.3"/>
<circle cx="638.3" cy="62.4" r="2.3"/>
<circle cx="648.6" cy="52.2" r="2.3"/>
<circle cx="648.5" cy="40.7" r="2.3"/>
<circle cx="652.9" cy="53.5" r="2.3"/>
<circle cx="644.3" cy="49.7" r="2.3"/>
<circle cx="651.0" cy="46.0" r="2.3"/>
<circle cx="653.4" cy="45.1" r="2.3"/>
<circle cx="651.3" cy="42.3" r="2.3"/>
<circle cx="646.5" cy="66.5" r="2.3"/>
<circle cx="651.9" cy="45.3" r="2.3"/>
<circle cx="648.0" cy="49.4" r="2.3"/>
<circle cx="658.0" cy="27.8" r="2.3"/>
<circle cx="655.1" cy="45.8" r="2.3"/>
<circle cx="662.0" cy="31.4" r="2.3"/>
<circle cx="657.5" cy="41.5" r="2.3"/>
<circle cx="667.4" cy="19.6" r="2.3"/>
<circle cx="668.3" cy="27.5" r="2.3"/>
<circle cx="670.8" cy="34.0" r="2.3"/>
<circle cx="672.4" cy="33.0" r="2.3"/>
<circle cx="678.6" cy="13.8" r="2.3"/>
<circle cx="556.7" cy="178.4" r="2.3"/>
<circle cx="546.1" cy="174.3" r="2.3"/>
<circle cx="542.9" cy="185.2" r="2.3"/>
<circle cx="525.2" cy="186.4" r="2.3"/>
<circle cx="528.7" cy="190.2" r="2.3"/>
<circle cx="543.5" cy="179.8" r="2.3"/>
<circle cx="563.2" cy="164.9" r="2.3"/>
<circle cx="525.2" cy="186.8" r="2.3"/>
<circle cx="551.5" cy="175.2" r="2.3"/>
<circle cx="566.3" cy="184.7" r="2.3"/>
<circle cx="529.5" cy="188.5" r="2.3"/>
<circle cx="539.6" cy="183.6" r="2.3"/>
<circle cx="535.2" cy="185.5" r="2.3"/>
<circle cx="558.7" cy="174.8" r="2.3"/>
<circle cx="530.2" cy="184.5" r="2.3"/>
<circle cx="533.1" cy="180.1" r="2.3"/>
<circle cx="528.2" cy="188.5" r="2.3"/>
<circle cx="560.5" cy="182.9" r="2.3"/>
<circle cx="545.9" cy="177.4" r="2.3"/>
<circle cx="535.3" cy="189.9" r="2.3"/>
<circle cx="546.0" cy="187.0" r="2.3"/>
<circle cx="554.7" cy="186.9" r="2.3"/>
<circle cx="554.5" cy="178.9" r="2.3"/>
<circle cx="554.6" cy="165.3" r="2.3"/>
<circle cx="531.6" cy="189.1" r="2.3"/>
<circle cx="547.3" cy="172.1" r="2.3"/>
<circle cx="567.7" cy="151.2" r="2.3"/>
<circle cx="544.1" cy="175.2" r="2.3"/>
<circle cx="537.7" cy="176.0" r="2.3"/>
<circle cx="561.4" cy="171.8" r="2.3"/>
<circle cx="549.7" cy="171.2" r="2.3"/>
<circle cx="552.8" cy="176.5" r="2.3"/>
<circle cx="553.4" cy="173.7" r="2.3"/>
<circle cx="545.2" cy="179.8" r="2.3"/>
<circle cx="551.3" cy="174.9" r="2.3"/>
<circle cx="549.9" cy="180.0" r="2.3"/>
<circle cx="533.4" cy="184.0" r="2.3"/>
<circle cx="534.1" cy="181.9" r="2.3"/>
<circle cx="538.0" cy="176.8" r="2.3"/>
<circle cx="551.8" cy="164.7" r="2.3"/>
<circle cx="549.4" cy="181.4" r="2.3"/>
<circle cx="535.2" cy="187.6" r="2.3"/>
<circle cx="537.6" cy="187.6" r="2.3"/>
<circle cx="534.1" cy="179.4" r="2.3"/>
<circle cx="535.4" cy="188.4" r="2.3"/>
<circle cx="556.5" cy="166.6" r="2.3"/>
<circle cx="550.8" cy="181.3" r="2.3"/>
<circle cx="547.4" cy="183.8" r="2.3"/>
<circle cx="550.7" cy="166.3" r="2.3"/>
<circle cx="545.2" cy="174.1" r="2.3"/>
<circle cx="546.9" cy="171.4" r="2.3"/>
<circle cx="542.7" cy="180.7" r="2.3"/>
<circle cx="554.7" cy="168.9" r="2.3"/>
<circle cx="538.0" cy="188.5" r="2.3"/>
<circle cx="559.3" cy="182.4" r="2.3"/>
<circle cx="555.2" cy="180.0" r="2.3"/>
<circle cx="536.8" cy="183.4" r="2.3"/>
<circle cx="554.8" cy="173.2" r="2.3"/>
<circle cx="538.8" cy="182.6" r="2.3"/>
<circle cx="540.7" cy="183.0" r="2.3"/>
<circle cx="550.8" cy="186.5" r="2.3"/>
<circle cx="530.9" cy="188.3" r="2.3"/>
<circle cx="540.9" cy="178.4" r="2.3"/>
<circle cx="551.8" cy="178.4" r="2.3"/>
<circle cx="559.0" cy="178.8" r="2.3"/>
<circle cx="540.3" cy="181.8" r="2.3"/>
<circle cx="539.2" cy="176.3" r="2.3"/>
<circle cx="550.6" cy="178.6" r="2.3"/>
<circle cx="554.3" cy="166.5" r="2.3"/>
<circle cx="550.4" cy="176.1" r="2.3"/>
<circle cx="554.7" cy="169.7" r="2.3"/>
<circle cx="561.1" cy="168.0" r="2.3"/>
<circle cx="530.5" cy="189.9" r="2.3"/>
<circle cx="534.0" cy="188.7" r="2.3"/>
<circle cx="544.1" cy="186.6" r="2.3"/>
<circle cx="545.1" cy="184.3" r="2.3"/>
<circle cx="523.4" cy="192.2" r="2.3"/>
<circle cx="536.9" cy="177.7" r="2.3"/>
<circle cx="545.4" cy="184.5" r="2.3"/>
<circle cx="540.6" cy="177.9" r="2.3"/>
<circle cx="533.8" cy="178.8" r="2.3"/>
<circle cx="524.9" cy="191.0" r="2.3"/>
<circle cx="552.3" cy="163.9" r="2.3"/>
<circle cx="535.4" cy="178.8" r="2.3"/>
<circle cx="531.9" cy="180.3" r="2.3"/>
<circle cx="553.1" cy="175.3" r="2.3"/>
<circle cx="544.0" cy="184.9" r="2.3"/>
<circle cx="539.3" cy="180.1" r="2.3"/>
<circle cx="543.7" cy="171.5" r="2.3"/>
<circle cx="544.0" cy="189.0" r="2.3"/>
<circle cx="528.0" cy="184.2" r="2.3"/>
<circle cx="540.8" cy="182.6" r="2.3"/>
<circle cx="547.6" cy="175.2" r="2.3"/>
<circle cx="555.8" cy="175.1" r="2.3"/>
<circle cx="532.2" cy="188.1" r="2.3"/>
<circle cx="529.8" cy="187.9" r="2.3"/>
<circle cx="564.5" cy="173.2" r="2.3"/>
<circle cx="552.3" cy="166.0" r="2.3"/>
<circle cx="535.8" cy="177.1" r="2.3"/>
<circle cx="564.8" cy="159.9" r="2.3"/>
<circle cx="530.6" cy="183.0" r="2.3"/>
<circle cx="557.8" cy="178.9" r="2.3"/>
<circle cx="535.7" cy="183.4" r="2.3"/>
<circle cx="545.5" cy="184.7" r="2.3"/>
<circle cx="534.1" cy="178.5" r="2.3"/>
<circle cx="536.6" cy="176.9" r="2.3"/>
<circle cx="537.9" cy="182.8" r="2.3"/>
<circle cx="545.0" cy="179.7" r="2.3"/>
<circle cx="547.3" cy="170.9" r="2.3"/>
<circle cx="548.3" cy="188.0" r="2.3"/>
<circle cx="539.2" cy="176.2" r="2.3"/>
<circle cx="547.6" cy="186.2" r="2.3"/>
<circle cx="536.3" cy="176.9" r="2.3"/>
<circle cx="537.1" cy="188.7" r="2.3"/>
<circle cx="563.6" cy="172.0" r="2.3"/>
<circle cx="534.6" cy="182.4" r="2.3"/>
<circle cx="549.8" cy="172.8" r="2.3"/>
<circle cx="537.0" cy="183.4" r="2.3"/>
<circle cx="562.9" cy="161.5" r="2.3"/>
<circle cx="540.7" cy="184.0" r="2.3"/>
<circle cx="558.4" cy="168.7" r="2.3"/>
<circle cx="543.4" cy="174.5" r="2.3"/>
<circle cx="541.0" cy="184.6" r="2.3"/>
<circle cx="537.0" cy="183.7" r="2.3"/>
<circle cx="534.1" cy="181.0" r="2.3"/>
<circle cx="556.2" cy="167.0" r="2.3"/>
<circle cx="535.6" cy="182.6" r="2.3"/>
<circle cx="555.9" cy="186.0" r="2.3"/>
<circle cx="555.5" cy="181.4" r="2.3"/>
<circle cx="542.0" cy="185.8" r="2.3"/>
<circle cx="525.0" cy="187.3" r="2.3"/>
<circle cx="551.0" cy="178.7" r="2.3"/>
<circle cx="552.2" cy="182.7" r="2.3"/>
<circle cx="537.9" cy="181.2" r="2.3"/>
<circle cx="563.7" cy="166.1" r="2.3"/>
<circle cx="548.9" cy="166.9" r="2.3"/>
<circle cx="549.3" cy="184.6" r="2.3"/>
<circle cx="545.0" cy="178.3" r="2.3"/>
<circle cx="540.1" cy="181.6" r="2.3"/>
<circle cx="525.8" cy="188.1" r="2.3"/>
<circle cx="539.6" cy="178.5" r="2.3"/>
<circle cx="558.1" cy="177.4" r="2.3"/>
<circle cx="549.6" cy="179.1" r="2.3"/>
<circle cx="540.8" cy="183.9" r="2.3"/>
<circle cx="565.3" cy="155.7" r="2.3"/>
<circle cx="551.4" cy="186.3" r="2.3"/>
<circle cx="535.2" cy="178.7" r="2.3"/>
<circle cx="524.3" cy="187.2" r="2.3"/>
<circle cx="545.5" cy="179.1" r="2.3"/>
<circle cx="537.6" cy="190.4" r="2.3"/>
<circle cx="543.3" cy="187.5" r="2.3"/>
<circle cx="533.8" cy="190.8" r="2.3"/>
<circle cx="534.0" cy="191.1" r="2.3"/>
<circle cx="534.6" cy="181.8" r="2.3"/>
<circle cx="545.2" cy="171.1" r="2.3"/>
<circle cx="529.2" cy="185.4" r="2.3"/>
<circle cx="549.7" cy="187.6" r="2.3"/>
<circle cx="546.9" cy="168.8" r="2.3"/>
<circle cx="549.2" cy="178.0" r="2.3"/>
<circle cx="550.7" cy="165.1" r="2.3"/>
<circle cx="541.6" cy="178.1" r="2.3"/>
<circle cx="551.2" cy="167.4" r="2.3"/>
<circle cx="541.9" cy="186.5" r="2.3"/>
<circle cx="528.7" cy="189.3" r="2.3"/>
<circle cx="535.3" cy="185.5" r="2.3"/>
<circle cx="532.9" cy="188.7" r="2.3"/>
<circle cx="540.9" cy="187.8" r="2.3"/>
<circle cx="537.7" cy="176.4" r="2.3"/>
<circle cx="563.1" cy="178.3" r="2.3"/>
<circle cx="544.8" cy="171.4" r="2.3"/>
<circle cx="525.4" cy="192.0" r="2.3"/>
<circle cx="556.7" cy="182.6" r="2.3"/>
<circle cx="535.9" cy="185.6" r="2.3"/>
<circle cx="535.3" cy="184.3" r="2.3"/>
<circle cx="538.9" cy="185.0" r="2.3"/>
<circle cx="524.4" cy="191.3" r="2.3"/>
<circle cx="560.6" cy="167.8" r="2.3"/>
<circle cx="548.2" cy="174.2" r="2.3"/>
<circle cx="538.2" cy="190.3" r="2.3"/>
<circle cx="541.1" cy="179.7" r="2.3"/>
<circle cx="534.1" cy="188.0" r="2.3"/>
<circle cx="541.9" cy="182.3" r="2.3"/>
<circle cx="535.3" cy="188.9" r="2.3"/>
<circle cx="564.6" cy="183.5" r="2.3"/>
<circle cx="545.6" cy="183.5" r="2.3"/>
<circle cx="541.0" cy="175.2" r="2.3"/>
<circle cx="543.5" cy="176.8" r="2.3"/>
<circle cx="527.9" cy="187.9" r="2.3"/>
<circle cx="551.5" cy="170.1" r="2.3"/>
<circle cx="557.6" cy="160.4" r="2.3"/>
<circle cx="553.0" cy="165.3" r="2.3"/>
<circle cx="540.9" cy="182.5" r="2.3"/>
<circle cx="550.3" cy="176.0" r="2.3"/>
<circle cx="539.7" cy="189.7" r="2.3"/>
<circle cx="533.1" cy="184.5" r="2.3"/>
<circle cx="549.4" cy="180.8" r="2.3"/>
<circle cx="552.7" cy="180.4" r="2.3"/>
<circle cx="552.5" cy="179.8" r="2.3"/>
<circle cx="551.1" cy="167.1" r="2.3"/>
<circle cx="535.6" cy="189.6" r="2.3"/>
<circle cx="535.0" cy="152.3" r="2.3"/>
<circle cx="531.1" cy="159.0" r="2.3"/>
<circle cx="529.5" cy="167.8" r="2.3"/>
<circle cx="521.8" cy="173.0" r="2.3"/>
<circle cx="528.6" cy="163.9" r="2.3"/>
<circle cx="514.7" cy="179.5" r="2.3"/>
<circle cx="514.5" cy="187.4" r="2.3"/>
<circle cx="516.2" cy="182.2" r="2.3"/>
<circle cx="528.9" cy="162.9" r="2.3"/>
<circle cx="523.0" cy="173.7" r="2.3"/>
<circle cx="519.0" cy="171.4" r="2.3"/>
<circle cx="534.6" cy="157.0" r="2.3"/>
<circle cx="514.9" cy="174.1" r="2.3"/>
<circle cx="533.2" cy="164.2" r="2.3"/>
<circle cx="526.9" cy="157.1" r="2.3"/>
<circle cx="523.4" cy="166.7" r="2.3"/>
<circle cx="522.8" cy="171.5" r="2.3"/>
<circle cx="533.3" cy="167.2" r="2.3"/>
<circle cx="519.9" cy="168.6" r="2.3"/>
<circle cx="517.1" cy="172.9" r="2.3"/>
<circle cx="528.3" cy="172.3" r="2.3"/>
<circle cx="527.2" cy="162.3" r="2.3"/>
<circle cx="519.8" cy="182.9" r="2.3"/>
<circle cx="537.0" cy="146.2" r="2.3"/>
<circle cx="526.0" cy="172.7" r="2.3"/>
<circle cx="520.2" cy="183.0" r="2.3"/>
<circle cx="519.7" cy="168.2" r="2.3"/>
<circle cx="527.7" cy="158.0" r="2.3"/>
<circle cx="524.5" cy="167.0" r="2.3"/>
<circle cx="516.8" cy="172.1" r="2.3"/>
<circle cx="519.0" cy="167.3" r="2.3"/>
<circle cx="532.5" cy="167.0" r="2.3"/>
<circle cx="519.3" cy="172.0" r="2.3"/>
<circle cx="517.6" cy="172.9" r="2.3"/>
<circle cx="534.9" cy="148.8" r="2.3"/>
<circle cx="518.7" cy="175.1" r="2.3"/>
<circle cx="515.9" cy="165.6" r="2.3"/>
<circle cx="534.1" cy="166.5" r="2.3"/>
<circle cx="515.3" cy="179.2" r="2.3"/>
<circle cx="520.1" cy="182.1" r="2.3"/>
<circle cx="515.6" cy="178.3" r="2.3"/>
<circle cx="528.5" cy="169.0" r="2.3"/>
<circle cx="534.5" cy="165.7" r="2.3"/>
<circle cx="523.3" cy="168.6" r="2.3"/>
<circle cx="516.1" cy="182.9" r="2.3"/>
<circle cx="630.3" cy="121.9" r="2.3"/>
<circle cx="634.0" cy="124.9" r="2.3"/>
<circle cx="628.4" cy="150.7" r="2.3"/>
<circle cx="627.5" cy="161.7" r="2.3"/>
<circle cx="579.3" cy="151.7" r="2.3"/>
<circle cx="582.1" cy="155.7" r="2.3"/>
<circle cx="586.7" cy="160.7" r="2.3"/>
<circle cx="553.3" cy="172.6" r="2.3"/>
<circle cx="555.2" cy="172.6" r="2.3"/>
<circle cx="615.4" cy="82.1" r="2.3"/>
<circle cx="575.6" cy="92.0" r="2.3"/>
<circle cx="552.4" cy="131.8" r="2.3"/>
<circle cx="560.8" cy="124.4" r="2.3"/>
<circle cx="658.1" cy="30.3" r="2.3"/>
<circle cx="676.6" cy="15.4" r="2.3"/>
<circle cx="600.6" cy="121.9" r="2.3"/>
<circle cx="593.2" cy="86.0" r="2.3"/>
<circle cx="574.7" cy="162.7" r="2.3"/>
<circle cx="521.8" cy="147.7" r="2.3"/>
<circle cx="533.9" cy="156.7" r="2.3"/>
<circle cx="523.7" cy="159.7" r="2.3"/>
<circle cx="561.7" cy="123.9" r="2.3"/>
<circle cx="571.9" cy="109.9" r="2.3"/>
</g>
<line x1="514.40" y1="194.10" x2="683.50" y2="13.50" stroke="#222" stroke-width="0.9"/>
<rect x="514.40" y="13.50" width="169.10" height="180.60" fill="none" stroke="#333" stroke-width="0.9"/>
<line x1="511.20" y1="169.62" x2="514.40" y2="169.62" stroke="#333" stroke-width="0.8"/>
<text x="508.10" y="173.62" font-size="11.2" text-anchor="end" font-weight="normal" font-style="normal" fill="#303030">2.5</text>
<line x1="511.20" y1="144.75" x2="514.40" y2="144.75" stroke="#333" stroke-width="0.8"/>
<text x="508.10" y="148.75" font-size="11.2" text-anchor="end" font-weight="normal" font-style="normal" fill="#303030">5.0</text>
<line x1="511.20" y1="119.88" x2="514.40" y2="119.88" stroke="#333" stroke-width="0.8"/>
<text x="508.10" y="123.88" font-size="11.2" text-anchor="end" font-weight="normal" font-style="normal" fill="#303030">7.5</text>
<line x1="511.20" y1="95.00" x2="514.40" y2="95.00" stroke="#333" stroke-width="0.8"/>
<text x="508.10" y="99.00" font-size="11.2" text-anchor="end" font-weight="normal" font-style="normal" fill="#303030">10.0</text>
<line x1="511.20" y1="70.13" x2="514.40" y2="70.13" stroke="#333" stroke-width="0.8"/>
<text x="508.10" y="74.13" font-size="11.2" text-anchor="end" font-weight="normal" font-style="normal" fill="#303030">12.5</text>
<line x1="511.20" y1="45.25" x2="514.40" y2="45.25" stroke="#333" stroke-width="0.8"/>
<text x="508.10" y="49.25" font-size="11.2" text-anchor="end" font-weight="normal" font-style="normal" fill="#303030">15.0</text>
<line x1="511.20" y1="20.38" x2="514.40" y2="20.38" stroke="#333" stroke-width="0.8"/>
<text x="508.10" y="24.38" font-size="11.2" text-anchor="end" font-weight="normal" font-style="normal" fill="#303030">17.5</text>
<line x1="560.75" y1="194.10" x2="560.75" y2="197.30" stroke="#333" stroke-width="0.8"/>
<text x="560.75" y="209.30" font-size="11.2" text-anchor="middle" font-weight="normal" font-style="normal" fill="#303030">5</text>
<line x1="607.10" y1="194.10" x2="607.10" y2="197.30" stroke="#333" stroke-width="0.8"/>
<text x="607.10" y="209.30" font-size="11.2" text-anchor="middle" font-weight="normal" font-style="normal" fill="#303030">10</text>
<line x1="653.45" y1="194.10" x2="653.45" y2="197.30" stroke="#333" stroke-width="0.8"/>
<text x="653.45" y="209.30" font-size="11.2" text-anchor="middle" font-weight="normal" font-style="normal" fill="#303030">15</text>
<text x="560.3" y="223.6" font-size="11.2" fill="#303030" transform="translate(560.3 0) scale(1.035 1) translate(-560.3 0)"><tspan font-style="italic">E</tspan><tspan font-size="7.8" font-style="italic" dy="2.2">m</tspan><tspan dy="-2.2"> (BVSE), eV</tspan></text>
<text x="479" y="147.9" font-size="11.2" fill="#303030" transform="rotate(-90 479 147.9) translate(479 0) scale(1.055 1) translate(-479 0)"><tspan font-style="italic">E</tspan><tspan font-size="7.8" font-style="italic" dy="2.2">m</tspan><tspan dy="-2.2"> (M3GNet), eV</tspan></text>
<circle cx="535.3" cy="28.4" r="2.3" fill="#4a4a4a" fill-opacity="0.11" stroke="#4a4a4a" stroke-opacity="0.08" stroke-width="0.7"/>
<line x1="524.30" y1="43.30" x2="547.20" y2="43.30" stroke="#444" stroke-width="0.9"/>
<text x="556.30" y="32.00" font-size="11.2" text-anchor="start" font-weight="normal" font-style="normal" fill="#303030">Data points</text>
<text x="556.30" y="47.80" font-size="11.2" text-anchor="start" font-weight="normal" font-style="normal" fill="#303030">Perfect prediction</text>
<clipPath id="cf"><rect x="47.5" y="241.3" width="167.5" height="179.39999999999998"/></clipPath>
<filter id="bl" x="-10%" y="-10%" width="120%" height="120%"><feGaussianBlur stdDeviation="0.8"/></filter>
<g clip-path="url(#cf)">
<path d="M101,321 L103.5,321 L106,328 L108.5,340 L110,355 L111,366 L116.5,375 L127.5,385.5 L136,390.8 L145,390.5 L152,388 L155.5,384.5 L160,383 L164.3,385 L167.8,397.8 L174.8,404.8 L178,409 L177,413.5 L106,413.5 L95,410 L86,407 L82.5,402 L82,385 L83,370 L87,362 L93,355 L97,345 L99.5,330Z" fill="#959595" filter="url(#bl)"/>
<g fill="#828282" fill-opacity="0.13" stroke="#666" stroke-opacity="0.13" stroke-width="0.6">
<circle cx="118.8" cy="412.8" r="2.2"/>
<circle cx="126.6" cy="390.0" r="2.2"/>
<circle cx="103.7" cy="319.0" r="2.2"/>
<circle cx="169.4" cy="415.0" r="2.2"/>
<circle cx="136.3" cy="390.8" r="2.2"/>
<circle cx="143.6" cy="413.4" r="2.2"/>
<circle cx="127.1" cy="412.9" r="2.2"/>
<circle cx="112.6" cy="369.3" r="2.2"/>
<circle cx="95.1" cy="328.8" r="2.2"/>
<circle cx="95.5" cy="347.5" r="2.2"/>
<circle cx="160.3" cy="414.2" r="2.2"/>
<circle cx="118.4" cy="373.9" r="2.2"/>
<circle cx="170.3" cy="392.4" r="2.2"/>
<circle cx="112.5" cy="369.0" r="2.2"/>
<circle cx="156.2" cy="413.2" r="2.2"/>
<circle cx="85.9" cy="404.3" r="2.2"/>
<circle cx="162.9" cy="407.0" r="2.2"/>
<circle cx="127.1" cy="413.6" r="2.2"/>
<circle cx="158.8" cy="386.5" r="2.2"/>
<circle cx="173.6" cy="394.6" r="2.2"/>
<circle cx="123.1" cy="411.9" r="2.2"/>
<circle cx="109.4" cy="368.4" r="2.2"/>
<circle cx="175.7" cy="404.4" r="2.2"/>
<circle cx="124.1" cy="381.0" r="2.2"/>
<circle cx="88.5" cy="359.7" r="2.2"/>
<circle cx="85.2" cy="367.8" r="2.2"/>
<circle cx="140.4" cy="418.9" r="2.2"/>
<circle cx="95.6" cy="344.1" r="2.2"/>
<circle cx="87.7" cy="353.6" r="2.2"/>
<circle cx="162.4" cy="397.2" r="2.2"/>
<circle cx="108.7" cy="328.5" r="2.2"/>
<circle cx="143.5" cy="413.5" r="2.2"/>
<circle cx="104.4" cy="327.6" r="2.2"/>
<circle cx="111.7" cy="358.2" r="2.2"/>
<circle cx="167.1" cy="406.3" r="2.2"/>
<circle cx="162.7" cy="384.1" r="2.2"/>
<circle cx="164.1" cy="387.6" r="2.2"/>
<circle cx="97.6" cy="354.1" r="2.2"/>
<circle cx="102.8" cy="316.3" r="2.2"/>
<circle cx="106.9" cy="365.2" r="2.2"/>
<circle cx="102.4" cy="321.2" r="2.2"/>
<circle cx="154.2" cy="408.5" r="2.2"/>
<circle cx="119.0" cy="382.7" r="2.2"/>
<circle cx="167.7" cy="383.7" r="2.2"/>
<circle cx="161.3" cy="390.9" r="2.2"/>
<circle cx="177.4" cy="412.8" r="2.2"/>
<circle cx="155.8" cy="410.8" r="2.2"/>
<circle cx="132.3" cy="413.6" r="2.2"/>
<circle cx="178.7" cy="400.9" r="2.2"/>
<circle cx="173.2" cy="407.8" r="2.2"/>
<circle cx="135.8" cy="389.0" r="2.2"/>
<circle cx="83.7" cy="403.0" r="2.2"/>
<circle cx="155.1" cy="386.7" r="2.2"/>
<circle cx="108.1" cy="337.7" r="2.2"/>
<circle cx="85.7" cy="372.0" r="2.2"/>
<circle cx="165.4" cy="413.0" r="2.2"/>
<circle cx="156.0" cy="386.4" r="2.2"/>
<circle cx="114.6" cy="411.0" r="2.2"/>
<circle cx="107.6" cy="338.7" r="2.2"/>
<circle cx="81.7" cy="372.0" r="2.2"/>
<circle cx="95.4" cy="348.9" r="2.2"/>
<circle cx="154.0" cy="412.1" r="2.2"/>
<circle cx="106.1" cy="328.1" r="2.2"/>
<circle cx="135.2" cy="391.5" r="2.2"/>
<circle cx="103.0" cy="328.6" r="2.2"/>
<circle cx="103.0" cy="412.1" r="2.2"/>
<circle cx="93.6" cy="340.2" r="2.2"/>
<circle cx="102.6" cy="409.9" r="2.2"/>
<circle cx="138.4" cy="414.5" r="2.2"/>
<circle cx="102.0" cy="330.0" r="2.2"/>
<circle cx="160.0" cy="388.0" r="2.2"/>
<circle cx="119.5" cy="406.4" r="2.2"/>
<circle cx="86.5" cy="362.8" r="2.2"/>
<circle cx="85.1" cy="391.4" r="2.2"/>
<circle cx="132.1" cy="410.2" r="2.2"/>
<circle cx="109.3" cy="349.4" r="2.2"/>
<circle cx="83.6" cy="372.3" r="2.2"/>
<circle cx="87.3" cy="406.6" r="2.2"/>
<circle cx="115.2" cy="370.7" r="2.2"/>
<circle cx="121.7" cy="381.9" r="2.2"/>
<circle cx="167.0" cy="401.9" r="2.2"/>
<circle cx="107.5" cy="413.7" r="2.2"/>
<circle cx="107.9" cy="357.6" r="2.2"/>
<circle cx="164.8" cy="396.8" r="2.2"/>
<circle cx="125.5" cy="386.7" r="2.2"/>
<circle cx="173.6" cy="413.6" r="2.2"/>
<circle cx="131.5" cy="418.3" r="2.2"/>
<circle cx="82.5" cy="395.4" r="2.2"/>
<circle cx="112.7" cy="362.2" r="2.2"/>
<circle cx="140.4" cy="392.8" r="2.2"/>
<circle cx="121.7" cy="418.8" r="2.2"/>
<circle cx="86.6" cy="361.8" r="2.2"/>
<circle cx="109.2" cy="347.8" r="2.2"/>
<circle cx="77.3" cy="364.0" r="2.2"/>
<circle cx="107.9" cy="339.1" r="2.2"/>
<circle cx="119.6" cy="378.8" r="2.2"/>
<circle cx="82.5" cy="400.1" r="2.2"/>
<circle cx="118.6" cy="374.9" r="2.2"/>
<circle cx="91.4" cy="407.3" r="2.2"/>
<circle cx="83.6" cy="368.4" r="2.2"/>
<circle cx="112.8" cy="414.3" r="2.2"/>
<circle cx="81.9" cy="394.6" r="2.2"/>
<circle cx="164.5" cy="396.4" r="2.2"/>
<circle cx="83.5" cy="368.4" r="2.2"/>
<circle cx="143.3" cy="413.2" r="2.2"/>
<circle cx="83.7" cy="372.4" r="2.2"/>
<circle cx="111.2" cy="356.2" r="2.2"/>
<circle cx="110.5" cy="362.8" r="2.2"/>
<circle cx="100.7" cy="351.2" r="2.2"/>
<circle cx="102.4" cy="326.8" r="2.2"/>
<circle cx="134.4" cy="413.5" r="2.2"/>
<circle cx="127.4" cy="373.3" r="2.2"/>
<circle cx="86.5" cy="395.2" r="2.2"/>
<circle cx="104.2" cy="333.4" r="2.2"/>
<circle cx="82.7" cy="408.8" r="2.2"/>
<circle cx="102.7" cy="320.9" r="2.2"/>
<circle cx="131.9" cy="391.2" r="2.2"/>
<circle cx="110.6" cy="359.2" r="2.2"/>
<circle cx="112.2" cy="362.3" r="2.2"/>
<circle cx="165.0" cy="414.7" r="2.2"/>
<circle cx="138.7" cy="390.4" r="2.2"/>
<circle cx="153.3" cy="412.8" r="2.2"/>
<circle cx="172.0" cy="391.7" r="2.2"/>
<circle cx="121.9" cy="381.1" r="2.2"/>
<circle cx="105.8" cy="325.4" r="2.2"/>
<circle cx="99.5" cy="331.5" r="2.2"/>
<circle cx="162.8" cy="411.9" r="2.2"/>
<circle cx="154.0" cy="384.6" r="2.2"/>
<circle cx="130.9" cy="387.9" r="2.2"/>
<circle cx="82.6" cy="395.5" r="2.2"/>
<circle cx="94.0" cy="404.9" r="2.2"/>
<circle cx="83.1" cy="406.1" r="2.2"/>
<circle cx="83.1" cy="398.7" r="2.2"/>
<circle cx="125.5" cy="416.6" r="2.2"/>
<circle cx="108.1" cy="368.2" r="2.2"/>
<circle cx="98.4" cy="331.9" r="2.2"/>
<circle cx="146.8" cy="386.0" r="2.2"/>
<circle cx="115.7" cy="412.2" r="2.2"/>
<circle cx="171.4" cy="396.4" r="2.2"/>
<circle cx="157.8" cy="378.1" r="2.2"/>
<circle cx="142.8" cy="408.5" r="2.2"/>
<circle cx="92.4" cy="406.7" r="2.2"/>
<circle cx="163.3" cy="417.6" r="2.2"/>
<circle cx="150.9" cy="407.9" r="2.2"/>
<circle cx="134.1" cy="411.8" r="2.2"/>
<circle cx="106.4" cy="331.2" r="2.2"/>
<circle cx="143.7" cy="414.1" r="2.2"/>
<circle cx="127.3" cy="385.4" r="2.2"/>
<circle cx="121.3" cy="379.6" r="2.2"/>
<circle cx="87.7" cy="407.5" r="2.2"/>
<circle cx="168.1" cy="411.1" r="2.2"/>
<circle cx="98.4" cy="409.1" r="2.2"/>
<circle cx="137.8" cy="415.1" r="2.2"/>
<circle cx="166.8" cy="395.8" r="2.2"/>
<circle cx="155.9" cy="417.0" r="2.2"/>
<circle cx="168.9" cy="393.5" r="2.2"/>
<circle cx="176.7" cy="413.2" r="2.2"/>
<circle cx="81.8" cy="361.4" r="2.2"/>
<circle cx="104.0" cy="411.6" r="2.2"/>
<circle cx="176.6" cy="408.2" r="2.2"/>
<circle cx="144.8" cy="391.0" r="2.2"/>
<circle cx="170.9" cy="419.5" r="2.2"/>
<circle cx="98.3" cy="337.9" r="2.2"/>
<circle cx="146.8" cy="385.0" r="2.2"/>
<circle cx="102.3" cy="413.0" r="2.2"/>
<circle cx="118.2" cy="381.5" r="2.2"/>
<circle cx="81.2" cy="374.1" r="2.2"/>
<circle cx="171.5" cy="415.2" r="2.2"/>
<circle cx="120.2" cy="384.9" r="2.2"/>
<circle cx="86.3" cy="394.3" r="2.2"/>
<circle cx="80.8" cy="377.8" r="2.2"/>
<circle cx="99.0" cy="413.0" r="2.2"/>
<circle cx="166.6" cy="394.2" r="2.2"/>
<circle cx="166.9" cy="413.5" r="2.2"/>
<circle cx="123.2" cy="380.7" r="2.2"/>
<circle cx="152.5" cy="390.1" r="2.2"/>
<circle cx="176.7" cy="401.8" r="2.2"/>
<circle cx="121.5" cy="380.0" r="2.2"/>
<circle cx="78.0" cy="393.8" r="2.2"/>
<circle cx="106.7" cy="412.8" r="2.2"/>
<circle cx="82.3" cy="399.7" r="2.2"/>
<circle cx="176.3" cy="410.7" r="2.2"/>
<circle cx="176.9" cy="411.3" r="2.2"/>
<circle cx="111.5" cy="364.9" r="2.2"/>
<circle cx="101.4" cy="333.9" r="2.2"/>
<circle cx="113.3" cy="371.6" r="2.2"/>
<circle cx="173.5" cy="414.0" r="2.2"/>
<circle cx="85.0" cy="392.4" r="2.2"/>
<circle cx="171.3" cy="403.0" r="2.2"/>
<circle cx="114.7" cy="369.8" r="2.2"/>
<circle cx="104.5" cy="413.0" r="2.2"/>
<circle cx="126.8" cy="408.3" r="2.2"/>
<circle cx="103.8" cy="331.7" r="2.2"/>
<circle cx="166.0" cy="387.5" r="2.2"/>
<circle cx="101.4" cy="348.2" r="2.2"/>
<circle cx="103.6" cy="411.5" r="2.2"/>
<circle cx="92.8" cy="332.1" r="2.2"/>
<circle cx="160.7" cy="414.2" r="2.2"/>
<circle cx="94.0" cy="411.0" r="2.2"/>
<circle cx="80.6" cy="400.7" r="2.2"/>
<circle cx="111.6" cy="363.9" r="2.2"/>
<circle cx="177.9" cy="412.9" r="2.2"/>
<circle cx="90.4" cy="346.9" r="2.2"/>
<circle cx="173.0" cy="401.7" r="2.2"/>
<circle cx="135.4" cy="391.5" r="2.2"/>
<circle cx="98.3" cy="412.4" r="2.2"/>
<circle cx="97.4" cy="343.6" r="2.2"/>
<circle cx="115.4" cy="349.3" r="2.2"/>
<circle cx="157.0" cy="414.2" r="2.2"/>
<circle cx="85.3" cy="368.5" r="2.2"/>
<circle cx="80.4" cy="393.2" r="2.2"/>
<circle cx="108.1" cy="416.0" r="2.2"/>
<circle cx="148.8" cy="388.3" r="2.2"/>
<circle cx="78.1" cy="407.2" r="2.2"/>
<circle cx="93.4" cy="410.3" r="2.2"/>
<circle cx="97.4" cy="326.5" r="2.2"/>
<circle cx="84.2" cy="408.1" r="2.2"/>
<circle cx="83.9" cy="364.6" r="2.2"/>
<circle cx="156.6" cy="389.6" r="2.2"/>
<circle cx="143.7" cy="394.2" r="2.2"/>
<circle cx="171.3" cy="416.6" r="2.2"/>
<circle cx="95.9" cy="350.4" r="2.2"/>
<circle cx="160.7" cy="415.4" r="2.2"/>
<circle cx="87.2" cy="383.7" r="2.2"/>
<circle cx="87.0" cy="362.1" r="2.2"/>
<circle cx="151.7" cy="413.9" r="2.2"/>
<circle cx="108.5" cy="344.1" r="2.2"/>
<circle cx="163.2" cy="415.4" r="2.2"/>
<circle cx="156.6" cy="384.5" r="2.2"/>
<circle cx="113.6" cy="368.9" r="2.2"/>
<circle cx="97.0" cy="335.4" r="2.2"/>
<circle cx="157.1" cy="383.9" r="2.2"/>
<circle cx="130.0" cy="412.6" r="2.2"/>
<circle cx="117.4" cy="377.4" r="2.2"/>
<circle cx="111.3" cy="368.8" r="2.2"/>
<circle cx="101.8" cy="359.9" r="2.2"/>
<circle cx="170.9" cy="407.0" r="2.2"/>
<circle cx="144.6" cy="411.4" r="2.2"/>
<circle cx="110.9" cy="350.9" r="2.2"/>
<circle cx="109.6" cy="354.6" r="2.2"/>
<circle cx="86.1" cy="366.0" r="2.2"/>
<circle cx="162.7" cy="390.1" r="2.2"/>
<circle cx="97.7" cy="347.2" r="2.2"/>
<circle cx="153.3" cy="411.9" r="2.2"/>
<circle cx="180.8" cy="414.5" r="2.2"/>
<circle cx="100.1" cy="318.7" r="2.2"/>
<circle cx="81.5" cy="382.4" r="2.2"/>
<circle cx="105.1" cy="321.5" r="2.2"/>
<circle cx="173.7" cy="413.1" r="2.2"/>
<circle cx="116.0" cy="373.4" r="2.2"/>
<circle cx="107.5" cy="335.4" r="2.2"/>
<circle cx="167.3" cy="418.2" r="2.2"/>
<circle cx="151.4" cy="391.9" r="2.2"/>
<circle cx="82.3" cy="399.2" r="2.2"/>
<circle cx="82.1" cy="398.1" r="2.2"/>
<circle cx="92.1" cy="357.2" r="2.2"/>
<circle cx="137.4" cy="392.5" r="2.2"/>
<circle cx="126.2" cy="413.1" r="2.2"/>
<circle cx="89.2" cy="408.3" r="2.2"/>
<circle cx="99.4" cy="329.6" r="2.2"/>
<circle cx="101.4" cy="356.7" r="2.2"/>
<circle cx="162.5" cy="382.0" r="2.2"/>
<circle cx="90.6" cy="343.0" r="2.2"/>
<circle cx="133.7" cy="414.3" r="2.2"/>
<circle cx="79.5" cy="395.1" r="2.2"/>
<circle cx="114.0" cy="366.4" r="2.2"/>
<circle cx="87.7" cy="384.0" r="2.2"/>
<circle cx="136.8" cy="391.7" r="2.2"/>
<circle cx="96.7" cy="340.1" r="2.2"/>
<circle cx="172.1" cy="402.4" r="2.2"/>
<circle cx="168.4" cy="413.7" r="2.2"/>
<circle cx="179.8" cy="411.2" r="2.2"/>
<circle cx="80.6" cy="397.5" r="2.2"/>
<circle cx="83.0" cy="388.7" r="2.2"/>
<circle cx="143.7" cy="391.4" r="2.2"/>
<circle cx="166.5" cy="394.2" r="2.2"/>
<circle cx="119.6" cy="377.8" r="2.2"/>
<circle cx="82.2" cy="397.8" r="2.2"/>
<circle cx="103.6" cy="331.2" r="2.2"/>
<circle cx="129.2" cy="400.2" r="2.2"/>
<circle cx="131.6" cy="416.6" r="2.2"/>
<circle cx="111.1" cy="343.9" r="2.2"/>
<circle cx="137.3" cy="394.9" r="2.2"/>
<circle cx="141.7" cy="385.9" r="2.2"/>
<circle cx="99.1" cy="337.5" r="2.2"/>
<circle cx="124.7" cy="410.1" r="2.2"/>
<circle cx="162.5" cy="383.6" r="2.2"/>
<circle cx="147.4" cy="415.9" r="2.2"/>
<circle cx="161.1" cy="383.5" r="2.2"/>
<circle cx="93.1" cy="346.6" r="2.2"/>
<circle cx="102.1" cy="409.3" r="2.2"/>
<circle cx="99.2" cy="333.6" r="2.2"/>
<circle cx="108.5" cy="350.7" r="2.2"/>
<circle cx="126.5" cy="384.5" r="2.2"/>
<circle cx="116.3" cy="414.3" r="2.2"/>
<circle cx="92.1" cy="355.7" r="2.2"/>
<circle cx="109.5" cy="345.4" r="2.2"/>
<circle cx="140.6" cy="410.7" r="2.2"/>
<circle cx="135.3" cy="389.0" r="2.2"/>
<circle cx="81.7" cy="376.4" r="2.2"/>
<circle cx="108.3" cy="320.1" r="2.2"/>
<circle cx="109.0" cy="356.4" r="2.2"/>
<circle cx="77.5" cy="388.9" r="2.2"/>
<circle cx="109.4" cy="325.6" r="2.2"/>
<circle cx="134.0" cy="388.4" r="2.2"/>
<circle cx="153.4" cy="386.1" r="2.2"/>
<circle cx="178.8" cy="416.8" r="2.2"/>
<circle cx="159.0" cy="412.9" r="2.2"/>
<circle cx="154.5" cy="388.1" r="2.2"/>
<circle cx="159.9" cy="414.8" r="2.2"/>
<circle cx="97.7" cy="322.6" r="2.2"/>
<circle cx="150.9" cy="413.4" r="2.2"/>
<circle cx="99.2" cy="336.7" r="2.2"/>
<circle cx="79.1" cy="368.0" r="2.2"/>
<circle cx="135.5" cy="419.0" r="2.2"/>
<circle cx="103.7" cy="321.5" r="2.2"/>
<circle cx="170.8" cy="413.2" r="2.2"/>
<circle cx="105.2" cy="338.0" r="2.2"/>
<circle cx="107.8" cy="339.1" r="2.2"/>
<circle cx="145.9" cy="413.6" r="2.2"/>
<circle cx="146.9" cy="384.7" r="2.2"/>
<circle cx="99.8" cy="349.8" r="2.2"/>
<circle cx="173.1" cy="410.6" r="2.2"/>
<circle cx="80.3" cy="390.1" r="2.2"/>
<circle cx="157.0" cy="380.6" r="2.2"/>
<circle cx="108.8" cy="332.8" r="2.2"/>
<circle cx="165.4" cy="397.7" r="2.2"/>
<circle cx="130.3" cy="383.6" r="2.2"/>
<circle cx="107.5" cy="411.6" r="2.2"/>
<circle cx="92.5" cy="354.6" r="2.2"/>
<circle cx="101.4" cy="337.5" r="2.2"/>
<circle cx="89.0" cy="358.6" r="2.2"/>
<circle cx="117.3" cy="379.7" r="2.2"/>
<circle cx="112.2" cy="361.3" r="2.2"/>
<circle cx="97.2" cy="347.1" r="2.2"/>
<circle cx="142.0" cy="393.7" r="2.2"/>
<circle cx="129.8" cy="414.5" r="2.2"/>
<circle cx="122.3" cy="379.9" r="2.2"/>
<circle cx="169.1" cy="401.1" r="2.2"/>
<circle cx="133.4" cy="386.6" r="2.2"/>
<circle cx="92.8" cy="355.1" r="2.2"/>
<circle cx="85.6" cy="352.1" r="2.2"/>
<circle cx="112.4" cy="363.0" r="2.2"/>
<circle cx="152.2" cy="388.0" r="2.2"/>
<circle cx="115.5" cy="378.1" r="2.2"/>
<circle cx="164.9" cy="411.1" r="2.2"/>
<circle cx="111.0" cy="351.0" r="2.2"/>
<circle cx="139.6" cy="414.6" r="2.2"/>
<circle cx="109.2" cy="416.9" r="2.2"/>
<circle cx="164.2" cy="398.2" r="2.2"/>
<circle cx="138.6" cy="409.8" r="2.2"/>
<circle cx="146.0" cy="390.3" r="2.2"/>
<circle cx="174.9" cy="407.5" r="2.2"/>
<circle cx="112.2" cy="369.7" r="2.2"/>
<circle cx="157.5" cy="409.8" r="2.2"/>
<circle cx="170.5" cy="415.3" r="2.2"/>
<circle cx="154.0" cy="382.0" r="2.2"/>
<circle cx="99.1" cy="341.6" r="2.2"/>
<circle cx="98.2" cy="320.9" r="2.2"/>
<circle cx="163.0" cy="414.4" r="2.2"/>
<circle cx="114.8" cy="380.7" r="2.2"/>
<circle cx="127.7" cy="408.8" r="2.2"/>
<circle cx="158.4" cy="383.2" r="2.2"/>
<circle cx="177.0" cy="390.5" r="2.2"/>
<circle cx="87.2" cy="360.3" r="2.2"/>
<circle cx="81.9" cy="391.2" r="2.2"/>
<circle cx="109.0" cy="345.2" r="2.2"/>
<circle cx="176.7" cy="414.3" r="2.2"/>
<circle cx="146.6" cy="387.6" r="2.2"/>
<circle cx="94.2" cy="368.1" r="2.2"/>
<circle cx="98.8" cy="326.7" r="2.2"/>
<circle cx="113.2" cy="346.2" r="2.2"/>
<circle cx="92.3" cy="354.1" r="2.2"/>
<circle cx="107.1" cy="333.6" r="2.2"/>
<circle cx="137.6" cy="395.5" r="2.2"/>
<circle cx="117.6" cy="413.2" r="2.2"/>
<circle cx="118.8" cy="380.4" r="2.2"/>
<circle cx="142.2" cy="413.5" r="2.2"/>
<circle cx="106.7" cy="418.2" r="2.2"/>
<circle cx="174.2" cy="411.2" r="2.2"/>
<circle cx="106.9" cy="335.8" r="2.2"/>
<circle cx="129.0" cy="411.7" r="2.2"/>
<circle cx="154.1" cy="388.7" r="2.2"/>
<circle cx="90.5" cy="354.1" r="2.2"/>
<circle cx="74.5" cy="378.9" r="2.2"/>
<circle cx="147.1" cy="392.0" r="2.2"/>
<circle cx="153.5" cy="383.9" r="2.2"/>
<circle cx="158.7" cy="414.9" r="2.2"/>
<circle cx="108.7" cy="339.6" r="2.2"/>
<circle cx="152.2" cy="388.3" r="2.2"/>
<circle cx="170.7" cy="418.2" r="2.2"/>
<circle cx="133.5" cy="390.0" r="2.2"/>
<circle cx="96.3" cy="346.4" r="2.2"/>
<circle cx="162.6" cy="413.7" r="2.2"/>
<circle cx="104.6" cy="346.3" r="2.2"/>
<circle cx="170.4" cy="402.9" r="2.2"/>
<circle cx="163.4" cy="380.7" r="2.2"/>
<circle cx="132.0" cy="386.6" r="2.2"/>
<circle cx="150.2" cy="388.1" r="2.2"/>
<circle cx="97.5" cy="341.8" r="2.2"/>
<circle cx="168.6" cy="397.8" r="2.2"/>
<circle cx="107.7" cy="336.7" r="2.2"/>
<circle cx="98.8" cy="329.4" r="2.2"/>
<circle cx="80.1" cy="373.3" r="2.2"/>
<circle cx="85.9" cy="406.7" r="2.2"/>
<circle cx="99.9" cy="322.0" r="2.2"/>
<circle cx="96.5" cy="345.7" r="2.2"/>
<circle cx="161.1" cy="386.4" r="2.2"/>
<circle cx="119.3" cy="376.9" r="2.2"/>
<circle cx="126.2" cy="412.5" r="2.2"/>
<circle cx="108.4" cy="348.2" r="2.2"/>
<circle cx="157.5" cy="409.6" r="2.2"/>
<circle cx="126.3" cy="415.2" r="2.2"/>
<circle cx="95.5" cy="356.0" r="2.2"/>
<circle cx="110.2" cy="333.4" r="2.2"/>
<circle cx="170.5" cy="402.4" r="2.2"/>
<circle cx="97.1" cy="336.1" r="2.2"/>
<circle cx="107.0" cy="336.1" r="2.2"/>
<circle cx="104.8" cy="322.3" r="2.2"/>
<circle cx="168.4" cy="412.9" r="2.2"/>
<circle cx="100.1" cy="323.5" r="2.2"/>
<circle cx="87.4" cy="408.3" r="2.2"/>
<circle cx="163.9" cy="391.1" r="2.2"/>
<circle cx="135.9" cy="393.1" r="2.2"/>
<circle cx="153.6" cy="381.3" r="2.2"/>
<circle cx="162.6" cy="383.9" r="2.2"/>
<circle cx="162.0" cy="387.7" r="2.2"/>
<circle cx="110.3" cy="413.3" r="2.2"/>
<circle cx="98.4" cy="331.0" r="2.2"/>
<circle cx="116.7" cy="411.2" r="2.2"/>
<circle cx="91.0" cy="409.3" r="2.2"/>
<circle cx="101.2" cy="416.9" r="2.2"/>
<circle cx="82.9" cy="383.7" r="2.2"/>
<circle cx="153.1" cy="378.9" r="2.2"/>
<circle cx="99.4" cy="410.2" r="2.2"/>
<circle cx="177.7" cy="418.7" r="2.2"/>
<circle cx="171.1" cy="409.7" r="2.2"/>
<circle cx="101.7" cy="344.8" r="2.2"/>
<circle cx="97.1" cy="345.9" r="2.2"/>
<circle cx="82.0" cy="394.7" r="2.2"/>
<circle cx="163.8" cy="402.3" r="2.2"/>
<circle cx="148.9" cy="412.7" r="2.2"/>
<circle cx="97.9" cy="414.1" r="2.2"/>
<circle cx="161.8" cy="383.1" r="2.2"/>
<circle cx="150.0" cy="414.8" r="2.2"/>
<circle cx="121.4" cy="389.3" r="2.2"/>
<circle cx="112.3" cy="409.6" r="2.2"/>
<circle cx="109.7" cy="352.5" r="2.2"/>
<circle cx="95.3" cy="358.4" r="2.2"/>
<circle cx="165.3" cy="417.3" r="2.2"/>
<circle cx="141.8" cy="384.7" r="2.2"/>
<circle cx="166.0" cy="388.9" r="2.2"/>
<circle cx="131.2" cy="414.2" r="2.2"/>
<circle cx="82.6" cy="375.5" r="2.2"/>
<circle cx="151.0" cy="384.0" r="2.2"/>
<circle cx="126.5" cy="409.1" r="2.2"/>
<circle cx="81.8" cy="401.1" r="2.2"/>
<circle cx="164.2" cy="390.4" r="2.2"/>
<circle cx="150.4" cy="389.1" r="2.2"/>
<circle cx="89.8" cy="411.7" r="2.2"/>
<circle cx="129.6" cy="386.1" r="2.2"/>
<circle cx="172.0" cy="415.7" r="2.2"/>
<circle cx="83.5" cy="403.8" r="2.2"/>
<circle cx="171.8" cy="414.9" r="2.2"/>
<circle cx="91.6" cy="374.0" r="2.2"/>
<circle cx="113.2" cy="420.1" r="2.2"/>
<circle cx="85.2" cy="400.9" r="2.2"/>
<circle cx="81.5" cy="377.3" r="2.2"/>
<circle cx="152.1" cy="415.9" r="2.2"/>
<circle cx="100.0" cy="369.4" r="2.2"/>
<circle cx="178.2" cy="402.8" r="2.2"/>
<circle cx="106.8" cy="410.8" r="2.2"/>
<circle cx="157.3" cy="413.9" r="2.2"/>
<circle cx="98.6" cy="337.4" r="2.2"/>
<circle cx="86.4" cy="362.2" r="2.2"/>
<circle cx="177.3" cy="411.9" r="2.2"/>
<circle cx="120.1" cy="380.3" r="2.2"/>
<circle cx="99.7" cy="325.9" r="2.2"/>
<circle cx="102.5" cy="346.3" r="2.2"/>
<circle cx="82.6" cy="362.6" r="2.2"/>
<circle cx="126.4" cy="383.6" r="2.2"/>
<circle cx="161.8" cy="387.5" r="2.2"/>
<circle cx="150.4" cy="413.3" r="2.2"/>
<circle cx="109.9" cy="365.7" r="2.2"/>
<circle cx="109.1" cy="330.1" r="2.2"/>
<circle cx="121.0" cy="378.9" r="2.2"/>
<circle cx="176.5" cy="413.8" r="2.2"/>
<circle cx="138.2" cy="384.5" r="2.2"/>
<circle cx="144.3" cy="414.4" r="2.2"/>
<circle cx="100.9" cy="322.8" r="2.2"/>
<circle cx="161.7" cy="420.2" r="2.2"/>
<circle cx="120.9" cy="391.0" r="2.2"/>
<circle cx="82.9" cy="400.7" r="2.2"/>
<circle cx="149.7" cy="389.3" r="2.2"/>
<circle cx="148.0" cy="389.6" r="2.2"/>
<circle cx="107.0" cy="353.3" r="2.2"/>
<circle cx="95.9" cy="405.1" r="2.2"/>
<circle cx="111.6" cy="356.5" r="2.2"/>
<circle cx="145.4" cy="385.7" r="2.2"/>
<circle cx="101.1" cy="411.7" r="2.2"/>
<circle cx="84.5" cy="380.8" r="2.2"/>
<circle cx="164.2" cy="386.0" r="2.2"/>
<circle cx="84.6" cy="365.8" r="2.2"/>
<circle cx="104.4" cy="323.9" r="2.2"/>
<circle cx="122.1" cy="413.3" r="2.2"/>
<circle cx="166.5" cy="389.3" r="2.2"/>
<circle cx="107.8" cy="340.4" r="2.2"/>
<circle cx="95.3" cy="411.5" r="2.2"/>
<circle cx="92.6" cy="333.5" r="2.2"/>
<circle cx="158.4" cy="419.4" r="2.2"/>
<circle cx="111.0" cy="345.8" r="2.2"/>
<circle cx="171.9" cy="409.5" r="2.2"/>
<circle cx="86.5" cy="377.9" r="2.2"/>
<circle cx="81.7" cy="380.3" r="2.2"/>
<circle cx="134.2" cy="388.9" r="2.2"/>
<circle cx="87.3" cy="361.4" r="2.2"/>
<circle cx="107.3" cy="324.7" r="2.2"/>
<circle cx="109.4" cy="410.8" r="2.2"/>
<circle cx="81.9" cy="363.4" r="2.2"/>
<circle cx="171.6" cy="419.8" r="2.2"/>
<circle cx="95.5" cy="326.6" r="2.2"/>
<circle cx="100.5" cy="323.1" r="2.2"/>
<circle cx="105.4" cy="344.7" r="2.2"/>
<circle cx="99.2" cy="321.7" r="2.2"/>
<circle cx="98.3" cy="325.3" r="2.2"/>
<circle cx="100.3" cy="345.1" r="2.2"/>
<circle cx="98.2" cy="323.1" r="2.2"/>
<circle cx="105.7" cy="334.7" r="2.2"/>
<circle cx="96.5" cy="329.6" r="2.2"/>
<circle cx="103.2" cy="336.8" r="2.2"/>
<circle cx="95.2" cy="344.4" r="2.2"/>
<circle cx="102.4" cy="289.5" r="2.2"/>
<circle cx="99.5" cy="312.5" r="2.2"/>
<circle cx="90.2" cy="339.0" r="2.2"/>
<circle cx="99.9" cy="338.1" r="2.2"/>
<circle cx="95.9" cy="340.9" r="2.2"/>
<circle cx="98.2" cy="336.8" r="2.2"/>
<circle cx="105.7" cy="309.4" r="2.2"/>
<circle cx="95.7" cy="247.4" r="2.2"/>
<circle cx="95.9" cy="253.2" r="2.2"/>
<circle cx="105.3" cy="298.9" r="2.2"/>
<circle cx="100.3" cy="345.1" r="2.2"/>
<circle cx="105.7" cy="342.4" r="2.2"/>
<circle cx="101.1" cy="323.1" r="2.2"/>
<circle cx="96.6" cy="336.9" r="2.2"/>
<circle cx="99.7" cy="314.8" r="2.2"/>
<circle cx="104.5" cy="317.2" r="2.2"/>
<circle cx="103.4" cy="249.0" r="2.2"/>
<circle cx="99.9" cy="343.3" r="2.2"/>
<circle cx="100.1" cy="341.7" r="2.2"/>
<circle cx="99.5" cy="336.7" r="2.2"/>
<circle cx="97.7" cy="288.6" r="2.2"/>
<circle cx="107.2" cy="341.2" r="2.2"/>
<circle cx="99.9" cy="332.1" r="2.2"/>
<circle cx="95.7" cy="334.9" r="2.2"/>
<circle cx="98.1" cy="337.7" r="2.2"/>
<circle cx="102.6" cy="327.4" r="2.2"/>
<circle cx="102.3" cy="341.4" r="2.2"/>
<circle cx="99.4" cy="333.5" r="2.2"/>
<circle cx="97.4" cy="344.5" r="2.2"/>
<circle cx="100.0" cy="334.1" r="2.2"/>
<circle cx="93.6" cy="339.4" r="2.2"/>
<circle cx="95.0" cy="323.9" r="2.2"/>
<circle cx="102.9" cy="319.4" r="2.2"/>
<circle cx="98.1" cy="341.0" r="2.2"/>
<circle cx="101.3" cy="344.4" r="2.2"/>
<circle cx="104.5" cy="335.2" r="2.2"/>
<circle cx="102.4" cy="332.9" r="2.2"/>
<circle cx="100.0" cy="315.3" r="2.2"/>
<circle cx="107.9" cy="331.1" r="2.2"/>
<circle cx="102.4" cy="327.1" r="2.2"/>
<circle cx="98.6" cy="336.8" r="2.2"/>
<circle cx="102.7" cy="336.1" r="2.2"/>
<circle cx="101.4" cy="291.8" r="2.2"/>
<circle cx="96.7" cy="323.6" r="2.2"/>
<circle cx="100.2" cy="340.3" r="2.2"/>
<circle cx="99.3" cy="335.8" r="2.2"/>
<circle cx="92.5" cy="335.1" r="2.2"/>
<circle cx="99.3" cy="340.4" r="2.2"/>
<circle cx="98.9" cy="311.3" r="2.2"/>
<circle cx="98.3" cy="343.3" r="2.2"/>
<circle cx="93.7" cy="335.2" r="2.2"/>
<circle cx="98.6" cy="335.3" r="2.2"/>
<circle cx="99.8" cy="304.6" r="2.2"/>
<circle cx="100.3" cy="332.7" r="2.2"/>
<circle cx="95.6" cy="339.7" r="2.2"/>
<circle cx="102.3" cy="321.3" r="2.2"/>
<circle cx="95.3" cy="299.8" r="2.2"/>
<circle cx="99.1" cy="330.7" r="2.2"/>
<circle cx="104.8" cy="330.6" r="2.2"/>
<circle cx="97.3" cy="342.1" r="2.2"/>
<circle cx="98.0" cy="331.7" r="2.2"/>
<circle cx="103.9" cy="320.1" r="2.2"/>
<circle cx="98.5" cy="344.2" r="2.2"/>
<circle cx="98.8" cy="326.7" r="2.2"/>
<circle cx="100.7" cy="330.1" r="2.2"/>
<circle cx="103.9" cy="305.9" r="2.2"/>
<circle cx="91.6" cy="333.7" r="2.2"/>
<circle cx="96.8" cy="320.0" r="2.2"/>
<circle cx="96.1" cy="341.4" r="2.2"/>
<circle cx="95.8" cy="332.8" r="2.2"/>
<circle cx="96.7" cy="344.2" r="2.2"/>
<circle cx="96.8" cy="343.2" r="2.2"/>
<circle cx="101.0" cy="325.4" r="2.2"/>
<circle cx="96.6" cy="248.3" r="2.2"/>
<circle cx="100.4" cy="331.0" r="2.2"/>
<circle cx="101.4" cy="325.9" r="2.2"/>
<circle cx="97.2" cy="337.7" r="2.2"/>
<circle cx="100.4" cy="342.8" r="2.2"/>
<circle cx="106.0" cy="344.6" r="2.2"/>
<circle cx="90.2" cy="349.8" r="2.2"/>
<circle cx="99.0" cy="354.8" r="2.2"/>
<circle cx="102.1" cy="335.6" r="2.2"/>
<circle cx="96.2" cy="342.1" r="2.2"/>
<circle cx="99.8" cy="319.8" r="2.2"/>
<circle cx="89.5" cy="333.5" r="2.2"/>
<circle cx="102.2" cy="339.2" r="2.2"/>
<circle cx="96.6" cy="355.2" r="2.2"/>
<circle cx="103.0" cy="307.8" r="2.2"/>
<circle cx="91.7" cy="308.9" r="2.2"/>
<circle cx="102.3" cy="309.8" r="2.2"/>
<circle cx="98.4" cy="330.6" r="2.2"/>
<circle cx="102.8" cy="322.3" r="2.2"/>
<circle cx="95.5" cy="359.1" r="2.2"/>
<circle cx="96.8" cy="355.0" r="2.2"/>
<circle cx="108.8" cy="311.7" r="2.2"/>
<circle cx="95.9" cy="349.4" r="2.2"/>
<circle cx="96.4" cy="340.2" r="2.2"/>
<circle cx="98.2" cy="318.3" r="2.2"/>
<circle cx="95.1" cy="360.1" r="2.2"/>
<circle cx="104.4" cy="329.2" r="2.2"/>
<circle cx="106.6" cy="286.6" r="2.2"/>
<circle cx="96.5" cy="360.5" r="2.2"/>
<circle cx="92.2" cy="331.6" r="2.2"/>
<circle cx="104.3" cy="339.0" r="2.2"/>
<circle cx="104.0" cy="334.8" r="2.2"/>
<circle cx="102.8" cy="283.7" r="2.2"/>
<circle cx="104.2" cy="328.1" r="2.2"/>
<circle cx="95.8" cy="356.8" r="2.2"/>
<circle cx="98.7" cy="330.9" r="2.2"/>
<circle cx="93.6" cy="346.0" r="2.2"/>
<circle cx="93.5" cy="329.5" r="2.2"/>
<circle cx="103.5" cy="359.0" r="2.2"/>
<circle cx="96.6" cy="359.2" r="2.2"/>
<circle cx="108.9" cy="354.3" r="2.2"/>
<circle cx="99.7" cy="360.3" r="2.2"/>
<circle cx="96.7" cy="318.4" r="2.2"/>
<circle cx="102.7" cy="344.8" r="2.2"/>
<circle cx="106.9" cy="273.6" r="2.2"/>
<circle cx="101.4" cy="318.4" r="2.2"/>
<circle cx="94.3" cy="332.5" r="2.2"/>
<circle cx="100.9" cy="280.3" r="2.2"/>
<circle cx="105.1" cy="295.7" r="2.2"/>
<circle cx="97.3" cy="332.3" r="2.2"/>
<circle cx="96.2" cy="329.9" r="2.2"/>
<circle cx="103.6" cy="303.4" r="2.2"/>
<circle cx="100.0" cy="342.8" r="2.2"/>
<circle cx="94.8" cy="268.8" r="2.2"/>
<circle cx="97.8" cy="252.3" r="2.2"/>
<circle cx="96.2" cy="323.9" r="2.2"/>
<circle cx="100.6" cy="261.9" r="2.2"/>
<circle cx="99.9" cy="360.6" r="2.2"/>
<circle cx="104.2" cy="304.3" r="2.2"/>
<circle cx="102.4" cy="360.4" r="2.2"/>
<circle cx="92.9" cy="334.2" r="2.2"/>
<circle cx="101.1" cy="360.4" r="2.2"/>
<circle cx="103.1" cy="347.9" r="2.2"/>
<circle cx="101.3" cy="325.9" r="2.2"/>
<circle cx="103.7" cy="361.2" r="2.2"/>
<circle cx="97.1" cy="329.5" r="2.2"/>
<circle cx="95.4" cy="317.4" r="2.2"/>
<circle cx="103.3" cy="326.0" r="2.2"/>
<circle cx="94.9" cy="291.8" r="2.2"/>
<circle cx="90.4" cy="352.3" r="2.2"/>
<circle cx="103.7" cy="350.6" r="2.2"/>
<circle cx="96.4" cy="314.9" r="2.2"/>
<circle cx="98.1" cy="354.4" r="2.2"/>
<circle cx="93.6" cy="361.1" r="2.2"/>
<circle cx="93.9" cy="340.4" r="2.2"/>
<circle cx="94.6" cy="357.1" r="2.2"/>
<circle cx="97.9" cy="341.6" r="2.2"/>
<circle cx="100.9" cy="331.1" r="2.2"/>
<circle cx="89.8" cy="350.6" r="2.2"/>
<circle cx="102.5" cy="321.2" r="2.2"/>
<circle cx="94.5" cy="343.3" r="2.2"/>
<circle cx="94.9" cy="352.1" r="2.2"/>
<circle cx="102.2" cy="354.2" r="2.2"/>
<circle cx="99.1" cy="358.4" r="2.2"/>
<circle cx="93.0" cy="355.9" r="2.2"/>
<circle cx="107.1" cy="324.3" r="2.2"/>
<circle cx="95.8" cy="336.9" r="2.2"/>
<circle cx="100.4" cy="335.3" r="2.2"/>
<circle cx="100.2" cy="359.8" r="2.2"/>
<circle cx="105.3" cy="297.9" r="2.2"/>
<circle cx="97.5" cy="343.0" r="2.2"/>
<circle cx="96.3" cy="340.5" r="2.2"/>
<circle cx="104.1" cy="355.5" r="2.2"/>
<circle cx="96.2" cy="341.4" r="2.2"/>
<circle cx="97.9" cy="343.0" r="2.2"/>
<circle cx="107.3" cy="323.4" r="2.2"/>
<circle cx="100.7" cy="360.4" r="2.2"/>
<circle cx="99.9" cy="353.1" r="2.2"/>
<circle cx="108.8" cy="342.3" r="2.2"/>
<circle cx="100.9" cy="354.0" r="2.2"/>
<circle cx="96.0" cy="353.4" r="2.2"/>
<circle cx="102.5" cy="328.7" r="2.2"/>
<circle cx="94.5" cy="335.4" r="2.2"/>
<circle cx="104.1" cy="355.9" r="2.2"/>
<circle cx="104.4" cy="360.5" r="2.2"/>
<circle cx="97.0" cy="361.8" r="2.2"/>
<circle cx="96.8" cy="286.5" r="2.2"/>
<circle cx="100.1" cy="345.8" r="2.2"/>
<circle cx="99.5" cy="352.9" r="2.2"/>
<circle cx="95.3" cy="353.7" r="2.2"/>
<circle cx="101.8" cy="352.9" r="2.2"/>
<circle cx="90.9" cy="338.3" r="2.2"/>
<circle cx="97.6" cy="361.0" r="2.2"/>
<circle cx="97.7" cy="305.1" r="2.2"/>
<circle cx="98.3" cy="333.1" r="2.2"/>
<circle cx="100.7" cy="323.2" r="2.2"/>
<circle cx="94.3" cy="331.2" r="2.2"/>
<circle cx="101.8" cy="337.1" r="2.2"/>
<circle cx="98.6" cy="352.5" r="2.2"/>
<circle cx="96.7" cy="298.6" r="2.2"/>
<circle cx="93.7" cy="362.3" r="2.2"/>
<circle cx="94.5" cy="314.3" r="2.2"/>
<circle cx="100.9" cy="334.9" r="2.2"/>
<circle cx="95.4" cy="362.3" r="2.2"/>
<circle cx="99.7" cy="357.3" r="2.2"/>
<circle cx="103.8" cy="295.4" r="2.2"/>
<circle cx="103.7" cy="320.6" r="2.2"/>
<circle cx="105.9" cy="346.9" r="2.2"/>
<circle cx="98.2" cy="297.9" r="2.2"/>
<circle cx="94.9" cy="334.3" r="2.2"/>
<circle cx="103.7" cy="318.8" r="2.2"/>
<circle cx="100.7" cy="361.0" r="2.2"/>
<circle cx="104.1" cy="300.8" r="2.2"/>
<circle cx="99.4" cy="354.2" r="2.2"/>
<circle cx="104.4" cy="350.1" r="2.2"/>
<circle cx="102.9" cy="329.2" r="2.2"/>
<circle cx="102.4" cy="348.2" r="2.2"/>
<circle cx="101.5" cy="340.8" r="2.2"/>
<circle cx="101.1" cy="329.3" r="2.2"/>
<circle cx="100.4" cy="310.4" r="2.2"/>
<circle cx="100.3" cy="350.6" r="2.2"/>
<circle cx="103.5" cy="329.9" r="2.2"/>
<circle cx="97.3" cy="354.4" r="2.2"/>
<circle cx="106.6" cy="335.2" r="2.2"/>
<circle cx="98.9" cy="353.3" r="2.2"/>
<circle cx="103.5" cy="353.6" r="2.2"/>
<circle cx="99.0" cy="353.7" r="2.2"/>
<circle cx="98.4" cy="360.5" r="2.2"/>
<circle cx="107.9" cy="348.9" r="2.2"/>
<circle cx="98.1" cy="350.3" r="2.2"/>
<circle cx="94.1" cy="353.9" r="2.2"/>
<circle cx="96.4" cy="336.3" r="2.2"/>
<circle cx="98.1" cy="348.9" r="2.2"/>
<circle cx="108.4" cy="340.5" r="2.2"/>
<circle cx="100.3" cy="362.2" r="2.2"/>
<circle cx="103.3" cy="293.8" r="2.2"/>
<circle cx="95.2" cy="254.2" r="2.2"/>
<circle cx="100.9" cy="324.3" r="2.2"/>
<circle cx="102.2" cy="289.1" r="2.2"/>
<circle cx="106.9" cy="351.7" r="2.2"/>
<circle cx="96.5" cy="352.9" r="2.2"/>
<circle cx="101.9" cy="305.6" r="2.2"/>
<circle cx="100.7" cy="253.7" r="2.2"/>
<circle cx="95.1" cy="356.1" r="2.2"/>
<circle cx="99.3" cy="352.7" r="2.2"/>
<circle cx="98.3" cy="361.6" r="2.2"/>
<circle cx="101.9" cy="344.7" r="2.2"/>
<circle cx="101.6" cy="362.1" r="2.2"/>
<circle cx="97.6" cy="320.9" r="2.2"/>
<circle cx="93.8" cy="315.5" r="2.2"/>
<circle cx="105.6" cy="362.3" r="2.2"/>
<circle cx="100.5" cy="314.2" r="2.2"/>
<circle cx="103.6" cy="354.4" r="2.2"/>
<circle cx="105.3" cy="332.9" r="2.2"/>
<circle cx="67.1" cy="376.8" r="2.2"/>
<circle cx="74.8" cy="342.9" r="2.2"/>
<circle cx="74.4" cy="388.8" r="2.2"/>
<circle cx="71.6" cy="375.0" r="2.2"/>
<circle cx="70.1" cy="395.5" r="2.2"/>
<circle cx="68.6" cy="392.0" r="2.2"/>
<circle cx="82.2" cy="332.7" r="2.2"/>
<circle cx="68.7" cy="395.0" r="2.2"/>
<circle cx="80.8" cy="370.2" r="2.2"/>
<circle cx="76.8" cy="370.3" r="2.2"/>
<circle cx="72.8" cy="368.6" r="2.2"/>
<circle cx="69.5" cy="355.1" r="2.2"/>
<circle cx="78.7" cy="394.3" r="2.2"/>
<circle cx="81.6" cy="391.9" r="2.2"/>
<circle cx="70.4" cy="368.1" r="2.2"/>
<circle cx="73.1" cy="394.6" r="2.2"/>
<circle cx="78.7" cy="392.4" r="2.2"/>
<circle cx="75.7" cy="367.8" r="2.2"/>
<circle cx="82.7" cy="370.4" r="2.2"/>
<circle cx="72.0" cy="394.5" r="2.2"/>
<circle cx="76.6" cy="398.1" r="2.2"/>
<circle cx="69.1" cy="374.4" r="2.2"/>
<circle cx="83.1" cy="391.9" r="2.2"/>
<circle cx="71.3" cy="371.8" r="2.2"/>
<circle cx="65.1" cy="391.8" r="2.2"/>
<circle cx="73.8" cy="382.8" r="2.2"/>
<circle cx="73.8" cy="396.8" r="2.2"/>
<circle cx="82.3" cy="392.0" r="2.2"/>
<circle cx="72.9" cy="343.1" r="2.2"/>
<circle cx="74.3" cy="342.5" r="2.2"/>
<circle cx="76.8" cy="379.8" r="2.2"/>
<circle cx="81.0" cy="370.3" r="2.2"/>
<circle cx="74.1" cy="381.0" r="2.2"/>
<circle cx="78.7" cy="379.1" r="2.2"/>
<circle cx="76.5" cy="391.1" r="2.2"/>
<circle cx="73.1" cy="380.6" r="2.2"/>
<circle cx="74.7" cy="397.8" r="2.2"/>
<circle cx="74.5" cy="398.4" r="2.2"/>
<circle cx="70.5" cy="367.4" r="2.2"/>
<circle cx="79.4" cy="377.1" r="2.2"/>
<circle cx="68.5" cy="374.5" r="2.2"/>
<circle cx="79.2" cy="392.1" r="2.2"/>
<circle cx="78.3" cy="381.6" r="2.2"/>
<circle cx="73.9" cy="375.5" r="2.2"/>
<circle cx="71.1" cy="392.5" r="2.2"/>
<circle cx="73.4" cy="353.5" r="2.2"/>
<circle cx="76.3" cy="326.2" r="2.2"/>
<circle cx="77.4" cy="384.3" r="2.2"/>
<circle cx="75.5" cy="378.3" r="2.2"/>
<circle cx="78.5" cy="377.8" r="2.2"/>
<circle cx="72.0" cy="387.9" r="2.2"/>
<circle cx="75.3" cy="381.7" r="2.2"/>
<circle cx="67.8" cy="392.4" r="2.2"/>
<circle cx="77.5" cy="363.7" r="2.2"/>
<circle cx="75.0" cy="398.2" r="2.2"/>
<circle cx="72.6" cy="398.7" r="2.2"/>
<circle cx="79.2" cy="370.3" r="2.2"/>
<circle cx="77.2" cy="388.1" r="2.2"/>
<circle cx="62.6" cy="339.7" r="2.2"/>
<circle cx="74.5" cy="364.9" r="2.2"/>
<circle cx="68.3" cy="358.5" r="2.2"/>
<circle cx="78.8" cy="337.2" r="2.2"/>
<circle cx="84.7" cy="390.7" r="2.2"/>
<circle cx="72.2" cy="360.7" r="2.2"/>
<circle cx="74.6" cy="337.0" r="2.2"/>
<circle cx="73.3" cy="267.0" r="2.2"/>
<circle cx="75.8" cy="397.8" r="2.2"/>
<circle cx="77.0" cy="396.5" r="2.2"/>
<circle cx="79.7" cy="394.8" r="2.2"/>
<circle cx="70.2" cy="385.4" r="2.2"/>
<circle cx="80.9" cy="387.9" r="2.2"/>
<circle cx="70.4" cy="359.7" r="2.2"/>
<circle cx="75.5" cy="394.7" r="2.2"/>
<circle cx="79.2" cy="390.6" r="2.2"/>
<circle cx="77.3" cy="377.7" r="2.2"/>
<circle cx="70.4" cy="389.1" r="2.2"/>
<circle cx="71.4" cy="384.3" r="2.2"/>
<circle cx="72.4" cy="389.2" r="2.2"/>
<circle cx="74.1" cy="391.4" r="2.2"/>
<circle cx="79.1" cy="389.7" r="2.2"/>
<circle cx="68.9" cy="371.6" r="2.2"/>
<circle cx="76.3" cy="342.5" r="2.2"/>
<circle cx="76.9" cy="346.9" r="2.2"/>
<circle cx="76.7" cy="394.3" r="2.2"/>
<circle cx="76.3" cy="390.4" r="2.2"/>
<circle cx="80.7" cy="373.8" r="2.2"/>
<circle cx="76.4" cy="364.1" r="2.2"/>
<circle cx="77.9" cy="381.9" r="2.2"/>
<circle cx="76.7" cy="394.8" r="2.2"/>
<circle cx="81.8" cy="398.5" r="2.2"/>
<circle cx="66.4" cy="396.4" r="2.2"/>
<circle cx="79.7" cy="375.7" r="2.2"/>
<circle cx="73.2" cy="370.8" r="2.2"/>
<circle cx="73.2" cy="385.0" r="2.2"/>
<circle cx="70.3" cy="324.0" r="2.2"/>
<circle cx="66.5" cy="392.1" r="2.2"/>
<circle cx="72.7" cy="386.5" r="2.2"/>
<circle cx="71.5" cy="380.4" r="2.2"/>
<circle cx="76.4" cy="355.8" r="2.2"/>
<circle cx="68.2" cy="365.3" r="2.2"/>
<circle cx="80.3" cy="338.8" r="2.2"/>
<circle cx="75.5" cy="383.6" r="2.2"/>
<circle cx="73.3" cy="388.2" r="2.2"/>
<circle cx="71.4" cy="388.4" r="2.2"/>
<circle cx="71.0" cy="390.1" r="2.2"/>
<circle cx="69.6" cy="397.0" r="2.2"/>
<circle cx="72.1" cy="299.5" r="2.2"/>
<circle cx="74.4" cy="382.7" r="2.2"/>
<circle cx="73.6" cy="282.1" r="2.2"/>
<circle cx="68.4" cy="381.0" r="2.2"/>
<circle cx="73.2" cy="383.6" r="2.2"/>
<circle cx="70.6" cy="370.3" r="2.2"/>
<circle cx="75.0" cy="385.4" r="2.2"/>
<circle cx="82.1" cy="372.3" r="2.2"/>
<circle cx="76.9" cy="392.9" r="2.2"/>
<circle cx="73.0" cy="377.6" r="2.2"/>
<circle cx="67.6" cy="290.9" r="2.2"/>
<circle cx="68.4" cy="377.0" r="2.2"/>
<circle cx="67.3" cy="361.2" r="2.2"/>
<circle cx="77.4" cy="340.2" r="2.2"/>
<circle cx="71.1" cy="388.1" r="2.2"/>
<circle cx="74.6" cy="375.2" r="2.2"/>
<circle cx="71.7" cy="388.6" r="2.2"/>
<circle cx="74.7" cy="376.7" r="2.2"/>
<circle cx="80.2" cy="365.9" r="2.2"/>
<circle cx="71.5" cy="394.7" r="2.2"/>
<circle cx="72.9" cy="379.0" r="2.2"/>
<circle cx="71.0" cy="366.5" r="2.2"/>
<circle cx="78.0" cy="296.7" r="2.2"/>
<circle cx="70.1" cy="391.3" r="2.2"/>
<circle cx="69.6" cy="354.4" r="2.2"/>
<circle cx="68.5" cy="388.1" r="2.2"/>
<circle cx="68.5" cy="392.6" r="2.2"/>
<circle cx="76.3" cy="382.3" r="2.2"/>
<circle cx="85.1" cy="372.2" r="2.2"/>
<circle cx="70.2" cy="396.7" r="2.2"/>
<circle cx="78.3" cy="393.0" r="2.2"/>
<circle cx="75.4" cy="397.3" r="2.2"/>
<circle cx="69.7" cy="366.2" r="2.2"/>
<circle cx="73.2" cy="391.5" r="2.2"/>
<circle cx="73.4" cy="367.7" r="2.2"/>
<circle cx="71.5" cy="383.1" r="2.2"/>
<circle cx="82.4" cy="387.5" r="2.2"/>
<circle cx="66.4" cy="304.5" r="2.2"/>
<circle cx="75.9" cy="393.7" r="2.2"/>
<circle cx="75.7" cy="348.8" r="2.2"/>
<circle cx="71.9" cy="392.8" r="2.2"/>
<circle cx="75.0" cy="389.7" r="2.2"/>
<circle cx="78.0" cy="350.8" r="2.2"/>
<circle cx="75.0" cy="368.5" r="2.2"/>
<circle cx="76.1" cy="391.1" r="2.2"/>
<circle cx="77.2" cy="332.5" r="2.2"/>
<circle cx="65.9" cy="385.3" r="2.2"/>
<circle cx="80.5" cy="342.4" r="2.2"/>
<circle cx="83.9" cy="394.1" r="2.2"/>
<circle cx="78.4" cy="387.8" r="2.2"/>
<circle cx="78.6" cy="354.2" r="2.2"/>
<circle cx="68.5" cy="368.2" r="2.2"/>
<circle cx="73.8" cy="345.5" r="2.2"/>
<circle cx="70.9" cy="390.2" r="2.2"/>
<circle cx="71.9" cy="359.3" r="2.2"/>
<circle cx="78.4" cy="343.8" r="2.2"/>
<circle cx="71.0" cy="367.1" r="2.2"/>
<circle cx="73.8" cy="369.0" r="2.2"/>
<circle cx="66.4" cy="387.3" r="2.2"/>
<circle cx="73.7" cy="359.8" r="2.2"/>
<circle cx="74.7" cy="348.6" r="2.2"/>
<circle cx="71.4" cy="375.9" r="2.2"/>
<circle cx="71.3" cy="369.6" r="2.2"/>
<circle cx="82.2" cy="323.5" r="2.2"/>
<circle cx="97.7" cy="356.9" r="2.2"/>
<circle cx="114.1" cy="323.0" r="2.2"/>
<circle cx="116.4" cy="348.6" r="2.2"/>
<circle cx="108.5" cy="370.0" r="2.2"/>
<circle cx="101.9" cy="350.2" r="2.2"/>
<circle cx="119.0" cy="374.8" r="2.2"/>
<circle cx="144.3" cy="330.3" r="2.2"/>
<circle cx="108.0" cy="308.1" r="2.2"/>
<circle cx="116.3" cy="372.5" r="2.2"/>
<circle cx="116.8" cy="368.8" r="2.2"/>
<circle cx="78.4" cy="375.1" r="2.2"/>
<circle cx="113.5" cy="373.6" r="2.2"/>
<circle cx="102.7" cy="364.4" r="2.2"/>
<circle cx="130.0" cy="361.5" r="2.2"/>
<circle cx="108.6" cy="370.3" r="2.2"/>
<circle cx="101.8" cy="338.5" r="2.2"/>
<circle cx="109.1" cy="348.1" r="2.2"/>
<circle cx="114.1" cy="373.7" r="2.2"/>
<circle cx="104.6" cy="366.1" r="2.2"/>
<circle cx="111.2" cy="359.3" r="2.2"/>
<circle cx="94.2" cy="374.4" r="2.2"/>
<circle cx="109.0" cy="364.8" r="2.2"/>
<circle cx="122.0" cy="318.2" r="2.2"/>
<circle cx="137.6" cy="361.8" r="2.2"/>
<circle cx="121.1" cy="347.7" r="2.2"/>
<circle cx="115.5" cy="335.9" r="2.2"/>
<circle cx="127.4" cy="351.9" r="2.2"/>
<circle cx="125.2" cy="331.7" r="2.2"/>
<circle cx="133.6" cy="367.3" r="2.2"/>
<circle cx="126.0" cy="373.5" r="2.2"/>
<circle cx="110.4" cy="373.9" r="2.2"/>
<circle cx="115.3" cy="348.8" r="2.2"/>
<circle cx="114.3" cy="372.3" r="2.2"/>
<circle cx="115.9" cy="371.4" r="2.2"/>
<circle cx="114.5" cy="364.4" r="2.2"/>
<circle cx="101.7" cy="353.6" r="2.2"/>
<circle cx="84.5" cy="349.1" r="2.2"/>
<circle cx="103.2" cy="373.6" r="2.2"/>
<circle cx="85.5" cy="366.5" r="2.2"/>
<circle cx="112.8" cy="371.5" r="2.2"/>
<circle cx="112.0" cy="374.1" r="2.2"/>
<circle cx="90.1" cy="368.9" r="2.2"/>
<circle cx="120.9" cy="374.0" r="2.2"/>
<circle cx="123.2" cy="357.3" r="2.2"/>
<circle cx="113.2" cy="358.6" r="2.2"/>
<circle cx="133.7" cy="357.8" r="2.2"/>
<circle cx="136.3" cy="369.2" r="2.2"/>
<circle cx="96.2" cy="334.3" r="2.2"/>
<circle cx="125.4" cy="363.1" r="2.2"/>
<circle cx="117.7" cy="342.8" r="2.2"/>
<circle cx="117.4" cy="360.2" r="2.2"/>
<circle cx="124.1" cy="364.0" r="2.2"/>
<circle cx="102.5" cy="368.3" r="2.2"/>
<circle cx="104.2" cy="361.4" r="2.2"/>
<circle cx="101.1" cy="374.9" r="2.2"/>
<circle cx="102.1" cy="371.9" r="2.2"/>
<circle cx="110.6" cy="370.3" r="2.2"/>
<circle cx="93.0" cy="368.9" r="2.2"/>
<circle cx="98.3" cy="352.2" r="2.2"/>
<circle cx="119.5" cy="336.7" r="2.2"/>
<circle cx="111.0" cy="370.5" r="2.2"/>
<circle cx="116.9" cy="369.7" r="2.2"/>
<circle cx="87.3" cy="358.6" r="2.2"/>
<circle cx="101.7" cy="367.9" r="2.2"/>
<circle cx="104.7" cy="372.4" r="2.2"/>
<circle cx="112.3" cy="316.9" r="2.2"/>
<circle cx="104.3" cy="348.0" r="2.2"/>
<circle cx="124.1" cy="348.0" r="2.2"/>
<circle cx="111.2" cy="363.1" r="2.2"/>
<circle cx="112.1" cy="370.3" r="2.2"/>
<circle cx="112.1" cy="358.5" r="2.2"/>
<circle cx="121.2" cy="368.4" r="2.2"/>
<circle cx="105.8" cy="374.3" r="2.2"/>
<circle cx="126.6" cy="362.6" r="2.2"/>
<circle cx="117.9" cy="363.0" r="2.2"/>
<circle cx="113.9" cy="360.2" r="2.2"/>
<circle cx="112.5" cy="335.0" r="2.2"/>
<circle cx="118.7" cy="366.8" r="2.2"/>
<circle cx="125.2" cy="345.7" r="2.2"/>
<circle cx="124.3" cy="353.9" r="2.2"/>
<circle cx="116.8" cy="365.0" r="2.2"/>
<circle cx="123.4" cy="367.7" r="2.2"/>
<circle cx="113.5" cy="343.7" r="2.2"/>
<circle cx="128.3" cy="291.2" r="2.2"/>
<circle cx="111.6" cy="329.3" r="2.2"/>
<circle cx="84.8" cy="327.2" r="2.2"/>
<circle cx="129.4" cy="362.6" r="2.2"/>
<circle cx="113.3" cy="362.0" r="2.2"/>
<circle cx="96.6" cy="368.4" r="2.2"/>
<circle cx="109.3" cy="356.9" r="2.2"/>
<circle cx="100.4" cy="371.9" r="2.2"/>
<circle cx="139.3" cy="344.5" r="2.2"/>
<circle cx="118.4" cy="364.5" r="2.2"/>
<circle cx="91.4" cy="371.8" r="2.2"/>
<circle cx="119.0" cy="367.2" r="2.2"/>
<circle cx="106.7" cy="353.2" r="2.2"/>
<circle cx="136.9" cy="332.9" r="2.2"/>
<circle cx="98.2" cy="356.7" r="2.2"/>
<circle cx="82.6" cy="333.2" r="2.2"/>
<circle cx="112.8" cy="299.8" r="2.2"/>
<circle cx="107.4" cy="369.9" r="2.2"/>
<circle cx="106.5" cy="329.7" r="2.2"/>
<circle cx="84.0" cy="367.1" r="2.2"/>
<circle cx="117.5" cy="356.3" r="2.2"/>
<circle cx="133.8" cy="369.2" r="2.2"/>
<circle cx="87.0" cy="363.2" r="2.2"/>
<circle cx="127.2" cy="360.3" r="2.2"/>
<circle cx="104.5" cy="367.0" r="2.2"/>
<circle cx="142.6" cy="285.9" r="2.2"/>
<circle cx="117.6" cy="340.0" r="2.2"/>
<circle cx="109.5" cy="373.3" r="2.2"/>
<circle cx="126.3" cy="373.8" r="2.2"/>
<circle cx="118.8" cy="374.9" r="2.2"/>
<circle cx="104.2" cy="348.1" r="2.2"/>
<circle cx="121.2" cy="369.6" r="2.2"/>
<circle cx="105.3" cy="315.1" r="2.2"/>
<circle cx="88.6" cy="353.0" r="2.2"/>
<circle cx="138.4" cy="346.4" r="2.2"/>
<circle cx="107.4" cy="372.1" r="2.2"/>
<circle cx="104.0" cy="354.9" r="2.2"/>
<circle cx="116.3" cy="374.8" r="2.2"/>
<circle cx="91.6" cy="328.3" r="2.2"/>
<circle cx="94.3" cy="352.4" r="2.2"/>
<circle cx="105.4" cy="361.0" r="2.2"/>
<circle cx="105.1" cy="371.7" r="2.2"/>
<circle cx="112.9" cy="355.3" r="2.2"/>
<circle cx="126.6" cy="357.0" r="2.2"/>
<circle cx="105.7" cy="358.7" r="2.2"/>
<circle cx="118.4" cy="366.6" r="2.2"/>
<circle cx="119.8" cy="349.5" r="2.2"/>
<circle cx="97.8" cy="353.3" r="2.2"/>
<circle cx="114.9" cy="356.2" r="2.2"/>
<circle cx="99.6" cy="295.1" r="2.2"/>
<circle cx="125.8" cy="343.4" r="2.2"/>
<circle cx="117.9" cy="341.9" r="2.2"/>
<circle cx="112.1" cy="352.1" r="2.2"/>
<circle cx="94.4" cy="308.5" r="2.2"/>
<circle cx="113.4" cy="351.8" r="2.2"/>
<circle cx="101.9" cy="335.6" r="2.2"/>
<circle cx="121.1" cy="373.8" r="2.2"/>
<circle cx="110.4" cy="368.6" r="2.2"/>
<circle cx="101.3" cy="288.4" r="2.2"/>
<circle cx="124.0" cy="373.2" r="2.2"/>
<circle cx="121.3" cy="371.4" r="2.2"/>
<circle cx="104.2" cy="338.9" r="2.2"/>
<circle cx="127.1" cy="348.3" r="2.2"/>
<circle cx="108.0" cy="371.9" r="2.2"/>
<circle cx="107.9" cy="338.7" r="2.2"/>
<circle cx="113.5" cy="347.0" r="2.2"/>
<circle cx="102.1" cy="367.1" r="2.2"/>
<circle cx="106.2" cy="324.0" r="2.2"/>
<circle cx="109.8" cy="370.0" r="2.2"/>
<circle cx="131.9" cy="371.2" r="2.2"/>
<circle cx="131.5" cy="371.7" r="2.2"/>
<circle cx="108.5" cy="353.1" r="2.2"/>
<circle cx="132.9" cy="302.3" r="2.2"/>
<circle cx="111.4" cy="250.3" r="2.2"/>
<circle cx="116.9" cy="374.9" r="2.2"/>
<circle cx="123.5" cy="374.4" r="2.2"/>
<circle cx="115.7" cy="364.9" r="2.2"/>
<circle cx="79.3" cy="340.5" r="2.2"/>
<circle cx="68.4" cy="411.9" r="2.2"/>
<circle cx="81.3" cy="403.3" r="2.2"/>
<circle cx="78.7" cy="403.1" r="2.2"/>
<circle cx="70.7" cy="412.1" r="2.2"/>
<circle cx="80.0" cy="380.2" r="2.2"/>
<circle cx="84.3" cy="385.2" r="2.2"/>
<circle cx="78.4" cy="400.5" r="2.2"/>
<circle cx="68.6" cy="376.7" r="2.2"/>
<circle cx="72.6" cy="405.5" r="2.2"/>
<circle cx="79.8" cy="396.4" r="2.2"/>
<circle cx="82.5" cy="389.6" r="2.2"/>
<circle cx="81.1" cy="408.1" r="2.2"/>
<circle cx="79.0" cy="407.5" r="2.2"/>
<circle cx="82.4" cy="401.6" r="2.2"/>
<circle cx="82.5" cy="404.8" r="2.2"/>
<circle cx="74.3" cy="412.1" r="2.2"/>
<circle cx="62.3" cy="399.9" r="2.2"/>
<circle cx="79.3" cy="409.8" r="2.2"/>
<circle cx="74.8" cy="399.9" r="2.2"/>
<circle cx="78.0" cy="412.9" r="2.2"/>
<circle cx="81.9" cy="386.1" r="2.2"/>
<circle cx="71.8" cy="394.8" r="2.2"/>
<circle cx="73.2" cy="375.3" r="2.2"/>
<circle cx="83.7" cy="396.8" r="2.2"/>
<circle cx="83.6" cy="325.4" r="2.2"/>
<circle cx="77.9" cy="413.2" r="2.2"/>
<circle cx="79.6" cy="397.5" r="2.2"/>
<circle cx="82.5" cy="400.3" r="2.2"/>
<circle cx="74.1" cy="404.2" r="2.2"/>
<circle cx="84.4" cy="397.3" r="2.2"/>
<circle cx="65.1" cy="378.1" r="2.2"/>
<circle cx="77.7" cy="396.7" r="2.2"/>
<circle cx="72.6" cy="406.1" r="2.2"/>
<circle cx="70.4" cy="403.5" r="2.2"/>
<circle cx="69.1" cy="404.9" r="2.2"/>
<circle cx="76.2" cy="414.1" r="2.2"/>
<circle cx="63.7" cy="405.8" r="2.2"/>
<circle cx="83.6" cy="346.6" r="2.2"/>
<circle cx="82.1" cy="335.8" r="2.2"/>
<circle cx="82.4" cy="368.7" r="2.2"/>
<circle cx="78.5" cy="402.4" r="2.2"/>
<circle cx="84.2" cy="358.8" r="2.2"/>
<circle cx="82.9" cy="400.7" r="2.2"/>
<circle cx="71.4" cy="397.8" r="2.2"/>
<circle cx="77.2" cy="398.6" r="2.2"/>
<circle cx="73.9" cy="411.0" r="2.2"/>
<circle cx="76.5" cy="359.6" r="2.2"/>
<circle cx="77.4" cy="392.9" r="2.2"/>
<circle cx="73.4" cy="376.8" r="2.2"/>
<circle cx="73.6" cy="411.2" r="2.2"/>
<circle cx="73.5" cy="357.7" r="2.2"/>
<circle cx="79.7" cy="382.8" r="2.2"/>
<circle cx="66.4" cy="412.1" r="2.2"/>
<circle cx="71.7" cy="412.5" r="2.2"/>
<circle cx="82.5" cy="368.7" r="2.2"/>
<circle cx="81.9" cy="406.7" r="2.2"/>
<circle cx="68.2" cy="412.1" r="2.2"/>
<circle cx="77.3" cy="320.7" r="2.2"/>
<circle cx="73.0" cy="408.6" r="2.2"/>
<circle cx="79.9" cy="369.3" r="2.2"/>
<circle cx="77.2" cy="383.0" r="2.2"/>
<circle cx="75.7" cy="392.3" r="2.2"/>
<circle cx="74.5" cy="400.4" r="2.2"/>
<circle cx="74.5" cy="409.2" r="2.2"/>
<circle cx="76.5" cy="392.7" r="2.2"/>
<circle cx="84.2" cy="393.1" r="2.2"/>
<circle cx="74.0" cy="376.7" r="2.2"/>
<circle cx="77.9" cy="408.7" r="2.2"/>
<circle cx="77.0" cy="285.3" r="2.2"/>
<circle cx="76.1" cy="392.2" r="2.2"/>
<circle cx="68.5" cy="376.7" r="2.2"/>
<circle cx="72.7" cy="386.1" r="2.2"/>
<circle cx="57.7" cy="403.9" r="2.2"/>
<circle cx="69.6" cy="403.0" r="2.2"/>
<circle cx="74.2" cy="392.5" r="2.2"/>
<circle cx="83.3" cy="412.7" r="2.2"/>
<circle cx="78.3" cy="413.9" r="2.2"/>
<circle cx="83.2" cy="406.9" r="2.2"/>
<circle cx="77.5" cy="402.5" r="2.2"/>
<circle cx="83.2" cy="414.4" r="2.2"/>
<circle cx="74.7" cy="410.1" r="2.2"/>
<circle cx="84.3" cy="409.7" r="2.2"/>
<circle cx="78.1" cy="344.1" r="2.2"/>
<circle cx="56.8" cy="404.4" r="2.2"/>
<circle cx="76.2" cy="402.8" r="2.2"/>
<circle cx="76.1" cy="386.8" r="2.2"/>
<circle cx="74.4" cy="397.7" r="2.2"/>
<circle cx="80.2" cy="344.1" r="2.2"/>
<circle cx="67.6" cy="411.8" r="2.2"/>
<circle cx="77.1" cy="387.2" r="2.2"/>
<circle cx="77.1" cy="413.1" r="2.2"/>
<circle cx="75.5" cy="414.5" r="2.2"/>
<circle cx="80.3" cy="380.8" r="2.2"/>
<circle cx="76.5" cy="412.9" r="2.2"/>
<circle cx="70.8" cy="407.0" r="2.2"/>
<circle cx="72.5" cy="409.6" r="2.2"/>
<circle cx="84.1" cy="410.3" r="2.2"/>
<circle cx="82.5" cy="408.6" r="2.2"/>
<circle cx="72.9" cy="380.0" r="2.2"/>
<circle cx="78.2" cy="402.8" r="2.2"/>
<circle cx="73.7" cy="408.4" r="2.2"/>
<circle cx="82.1" cy="403.0" r="2.2"/>
<circle cx="84.7" cy="406.9" r="2.2"/>
<circle cx="63.8" cy="411.6" r="2.2"/>
<circle cx="71.3" cy="393.7" r="2.2"/>
<circle cx="77.0" cy="397.7" r="2.2"/>
<circle cx="70.2" cy="404.3" r="2.2"/>
<circle cx="82.6" cy="376.9" r="2.2"/>
<circle cx="76.8" cy="413.2" r="2.2"/>
<circle cx="80.5" cy="400.0" r="2.2"/>
<circle cx="80.9" cy="356.4" r="2.2"/>
<circle cx="77.9" cy="409.5" r="2.2"/>
<circle cx="74.6" cy="414.4" r="2.2"/>
<circle cx="81.2" cy="411.3" r="2.2"/>
<circle cx="82.3" cy="384.3" r="2.2"/>
<circle cx="81.3" cy="413.1" r="2.2"/>
<circle cx="79.0" cy="413.3" r="2.2"/>
<circle cx="81.4" cy="391.6" r="2.2"/>
<circle cx="76.1" cy="414.3" r="2.2"/>
<circle cx="66.9" cy="413.7" r="2.2"/>
<circle cx="82.1" cy="392.9" r="2.2"/>
<circle cx="84.7" cy="397.1" r="2.2"/>
<circle cx="69.4" cy="414.1" r="2.2"/>
<circle cx="74.1" cy="370.3" r="2.2"/>
<circle cx="83.9" cy="410.2" r="2.2"/>
<circle cx="79.2" cy="401.8" r="2.2"/>
<circle cx="73.6" cy="400.4" r="2.2"/>
<circle cx="78.1" cy="411.7" r="2.2"/>
<circle cx="61.2" cy="405.0" r="2.2"/>
<circle cx="72.0" cy="387.6" r="2.2"/>
<circle cx="65.0" cy="388.0" r="2.2"/>
<circle cx="77.7" cy="409.9" r="2.2"/>
<circle cx="76.1" cy="380.8" r="2.2"/>
<circle cx="74.6" cy="404.2" r="2.2"/>
<circle cx="82.7" cy="386.4" r="2.2"/>
<circle cx="82.0" cy="395.1" r="2.2"/>
<circle cx="78.4" cy="408.7" r="2.2"/>
<circle cx="66.3" cy="408.1" r="2.2"/>
<circle cx="81.0" cy="388.2" r="2.2"/>
<circle cx="75.6" cy="407.6" r="2.2"/>
<circle cx="78.5" cy="380.5" r="2.2"/>
<circle cx="77.3" cy="381.8" r="2.2"/>
<circle cx="83.2" cy="399.6" r="2.2"/>
<circle cx="79.9" cy="402.4" r="2.2"/>
<circle cx="83.8" cy="391.9" r="2.2"/>
<circle cx="84.1" cy="376.5" r="2.2"/>
<circle cx="82.8" cy="412.0" r="2.2"/>
<circle cx="80.6" cy="412.9" r="2.2"/>
<circle cx="79.5" cy="353.3" r="2.2"/>
<circle cx="77.0" cy="400.2" r="2.2"/>
<circle cx="77.0" cy="407.9" r="2.2"/>
<circle cx="67.1" cy="404.2" r="2.2"/>
<circle cx="78.3" cy="406.2" r="2.2"/>
<circle cx="68.6" cy="412.4" r="2.2"/>
<circle cx="56.5" cy="411.5" r="2.2"/>
<circle cx="77.5" cy="411.4" r="2.2"/>
<circle cx="77.6" cy="379.3" r="2.2"/>
<circle cx="67.5" cy="413.5" r="2.2"/>
<circle cx="57.7" cy="409.8" r="2.2"/>
<circle cx="57.8" cy="410.2" r="2.2"/>
<circle cx="69.8" cy="406.4" r="2.2"/>
<circle cx="68.5" cy="412.5" r="2.2"/>
<circle cx="75.2" cy="385.8" r="2.2"/>
<circle cx="82.5" cy="400.8" r="2.2"/>
<circle cx="81.0" cy="406.8" r="2.2"/>
<circle cx="75.4" cy="394.5" r="2.2"/>
<circle cx="76.3" cy="382.0" r="2.2"/>
<circle cx="73.1" cy="367.0" r="2.2"/>
<circle cx="81.9" cy="357.5" r="2.2"/>
<circle cx="74.4" cy="411.1" r="2.2"/>
<circle cx="73.1" cy="409.3" r="2.2"/>
<circle cx="81.0" cy="404.0" r="2.2"/>
<circle cx="83.1" cy="377.0" r="2.2"/>
<circle cx="70.8" cy="401.2" r="2.2"/>
<circle cx="72.6" cy="384.1" r="2.2"/>
<circle cx="81.2" cy="344.3" r="2.2"/>
<circle cx="69.0" cy="376.1" r="2.2"/>
<circle cx="84.3" cy="383.9" r="2.2"/>
<circle cx="76.7" cy="410.5" r="2.2"/>
<circle cx="77.9" cy="407.5" r="2.2"/>
<circle cx="84.0" cy="393.7" r="2.2"/>
<circle cx="74.7" cy="379.0" r="2.2"/>
<circle cx="77.4" cy="395.8" r="2.2"/>
<circle cx="74.5" cy="396.3" r="2.2"/>
<circle cx="84.3" cy="397.6" r="2.2"/>
<circle cx="75.8" cy="400.7" r="2.2"/>
<circle cx="79.1" cy="412.2" r="2.2"/>
<circle cx="79.5" cy="396.0" r="2.2"/>
<circle cx="72.7" cy="414.3" r="2.2"/>
<circle cx="78.7" cy="393.5" r="2.2"/>
<circle cx="75.0" cy="362.4" r="2.2"/>
<circle cx="62.7" cy="412.2" r="2.2"/>
<circle cx="71.3" cy="393.8" r="2.2"/>
<circle cx="82.2" cy="398.2" r="2.2"/>
<circle cx="82.6" cy="407.4" r="2.2"/>
<circle cx="80.7" cy="392.2" r="2.2"/>
<circle cx="84.5" cy="411.8" r="2.2"/>
<circle cx="69.5" cy="403.1" r="2.2"/>
<circle cx="74.9" cy="369.6" r="2.2"/>
<circle cx="76.0" cy="374.7" r="2.2"/>
<circle cx="77.6" cy="406.3" r="2.2"/>
<circle cx="70.5" cy="403.2" r="2.2"/>
<circle cx="81.6" cy="397.4" r="2.2"/>
<circle cx="82.4" cy="414.2" r="2.2"/>
<circle cx="72.4" cy="406.7" r="2.2"/>
<circle cx="80.7" cy="384.1" r="2.2"/>
<circle cx="81.9" cy="403.4" r="2.2"/>
<circle cx="80.0" cy="413.3" r="2.2"/>
<circle cx="64.3" cy="393.4" r="2.2"/>
<circle cx="75.8" cy="391.2" r="2.2"/>
<circle cx="72.2" cy="404.2" r="2.2"/>
<circle cx="78.8" cy="396.1" r="2.2"/>
<circle cx="77.0" cy="400.9" r="2.2"/>
<circle cx="77.2" cy="381.8" r="2.2"/>
<circle cx="84.1" cy="386.2" r="2.2"/>
<circle cx="84.6" cy="414.6" r="2.2"/>
<circle cx="67.2" cy="399.3" r="2.2"/>
<circle cx="83.9" cy="410.2" r="2.2"/>
<circle cx="85.2" cy="379.8" r="2.2"/>
<circle cx="131.6" cy="413.9" r="2.2"/>
<circle cx="142.4" cy="383.4" r="2.2"/>
<circle cx="166.2" cy="413.3" r="2.2"/>
<circle cx="101.0" cy="410.6" r="2.2"/>
<circle cx="192.9" cy="411.7" r="2.2"/>
<circle cx="148.3" cy="394.2" r="2.2"/>
<circle cx="178.7" cy="413.6" r="2.2"/>
<circle cx="127.0" cy="401.0" r="2.2"/>
<circle cx="69.7" cy="400.1" r="2.2"/>
<circle cx="61.4" cy="392.3" r="2.2"/>
<circle cx="150.0" cy="411.6" r="2.2"/>
<circle cx="119.8" cy="414.3" r="2.2"/>
<circle cx="121.8" cy="377.3" r="2.2"/>
<circle cx="105.7" cy="407.3" r="2.2"/>
<circle cx="84.8" cy="407.4" r="2.2"/>
<circle cx="126.5" cy="396.0" r="2.2"/>
<circle cx="95.6" cy="407.6" r="2.2"/>
<circle cx="185.5" cy="409.4" r="2.2"/>
<circle cx="84.9" cy="389.7" r="2.2"/>
<circle cx="196.1" cy="412.1" r="2.2"/>
<circle cx="181.0" cy="402.7" r="2.2"/>
<circle cx="113.8" cy="408.0" r="2.2"/>
<circle cx="168.6" cy="412.6" r="2.2"/>
<circle cx="141.6" cy="408.9" r="2.2"/>
<circle cx="125.4" cy="404.0" r="2.2"/>
<circle cx="174.2" cy="405.7" r="2.2"/>
<circle cx="176.8" cy="407.2" r="2.2"/>
<circle cx="88.1" cy="392.5" r="2.2"/>
<circle cx="187.4" cy="408.1" r="2.2"/>
<circle cx="64.2" cy="379.4" r="2.2"/>
<circle cx="60.5" cy="406.0" r="2.2"/>
<circle cx="127.9" cy="409.1" r="2.2"/>
<circle cx="102.2" cy="365.1" r="2.2"/>
<circle cx="119.3" cy="406.2" r="2.2"/>
<circle cx="127.2" cy="377.5" r="2.2"/>
<circle cx="125.7" cy="410.2" r="2.2"/>
<circle cx="187.7" cy="401.9" r="2.2"/>
<circle cx="189.1" cy="385.5" r="2.2"/>
<circle cx="108.5" cy="394.9" r="2.2"/>
<circle cx="100.3" cy="388.3" r="2.2"/>
<circle cx="151.9" cy="367.3" r="2.2"/>
<circle cx="87.7" cy="410.8" r="2.2"/>
<circle cx="116.2" cy="410.3" r="2.2"/>
<circle cx="160.9" cy="413.2" r="2.2"/>
<circle cx="60.5" cy="409.4" r="2.2"/>
<circle cx="168.5" cy="401.5" r="2.2"/>
<circle cx="163.1" cy="391.6" r="2.2"/>
<circle cx="114.3" cy="411.2" r="2.2"/>
<circle cx="94.7" cy="410.5" r="2.2"/>
<circle cx="135.8" cy="406.6" r="2.2"/>
<circle cx="101.4" cy="389.7" r="2.2"/>
<circle cx="175.4" cy="410.2" r="2.2"/>
<circle cx="143.0" cy="407.2" r="2.2"/>
<circle cx="103.0" cy="396.9" r="2.2"/>
<circle cx="173.6" cy="410.9" r="2.2"/>
<circle cx="145.4" cy="413.8" r="2.2"/>
<circle cx="78.3" cy="413.9" r="2.2"/>
<circle cx="118.1" cy="361.6" r="2.2"/>
<circle cx="128.7" cy="410.2" r="2.2"/>
<circle cx="192.9" cy="385.4" r="2.2"/>
<circle cx="104.9" cy="402.4" r="2.2"/>
<circle cx="122.9" cy="398.7" r="2.2"/>
<circle cx="197.4" cy="409.8" r="2.2"/>
<circle cx="119.8" cy="401.3" r="2.2"/>
<circle cx="176.3" cy="411.1" r="2.2"/>
<circle cx="73.4" cy="403.0" r="2.2"/>
<circle cx="115.2" cy="414.1" r="2.2"/>
<circle cx="85.6" cy="412.6" r="2.2"/>
<circle cx="184.3" cy="408.8" r="2.2"/>
<circle cx="137.6" cy="413.6" r="2.2"/>
<circle cx="90.5" cy="376.3" r="2.2"/>
<circle cx="72.7" cy="399.9" r="2.2"/>
<circle cx="119.0" cy="408.0" r="2.2"/>
<circle cx="73.3" cy="402.8" r="2.2"/>
<circle cx="128.1" cy="395.5" r="2.2"/>
<circle cx="162.4" cy="413.1" r="2.2"/>
<circle cx="103.5" cy="348.2" r="2.2"/>
<circle cx="83.3" cy="414.4" r="2.2"/>
<circle cx="110.7" cy="414.0" r="2.2"/>
<circle cx="83.1" cy="412.8" r="2.2"/>
<circle cx="178.7" cy="378.3" r="2.2"/>
<circle cx="73.3" cy="409.4" r="2.2"/>
<circle cx="164.1" cy="410.6" r="2.2"/>
<circle cx="106.8" cy="385.1" r="2.2"/>
<circle cx="162.4" cy="412.5" r="2.2"/>
<circle cx="168.4" cy="407.9" r="2.2"/>
<circle cx="78.8" cy="409.0" r="2.2"/>
<circle cx="166.3" cy="398.3" r="2.2"/>
<circle cx="193.0" cy="409.4" r="2.2"/>
<circle cx="139.6" cy="411.9" r="2.2"/>
<circle cx="150.6" cy="391.0" r="2.2"/>
<circle cx="105.2" cy="384.2" r="2.2"/>
<circle cx="84.3" cy="395.2" r="2.2"/>
<circle cx="164.6" cy="405.5" r="2.2"/>
<circle cx="175.4" cy="411.1" r="2.2"/>
<circle cx="88.8" cy="383.6" r="2.2"/>
<circle cx="75.7" cy="392.4" r="2.2"/>
<circle cx="109.4" cy="400.8" r="2.2"/>
<circle cx="148.0" cy="412.1" r="2.2"/>
<circle cx="111.2" cy="403.2" r="2.2"/>
<circle cx="195.6" cy="397.8" r="2.2"/>
<circle cx="171.3" cy="411.5" r="2.2"/>
<circle cx="188.8" cy="405.5" r="2.2"/>
<circle cx="144.2" cy="391.2" r="2.2"/>
<circle cx="166.2" cy="400.7" r="2.2"/>
<circle cx="193.8" cy="413.3" r="2.2"/>
<circle cx="64.7" cy="398.4" r="2.2"/>
<circle cx="140.7" cy="400.6" r="2.2"/>
<circle cx="86.1" cy="412.3" r="2.2"/>
<circle cx="171.8" cy="411.1" r="2.2"/>
<circle cx="92.5" cy="378.1" r="2.2"/>
<circle cx="164.2" cy="403.7" r="2.2"/>
<circle cx="106.6" cy="409.1" r="2.2"/>
<circle cx="151.5" cy="399.6" r="2.2"/>
<circle cx="155.4" cy="386.5" r="2.2"/>
<circle cx="187.8" cy="413.7" r="2.2"/>
<circle cx="182.7" cy="413.0" r="2.2"/>
<circle cx="121.4" cy="410.5" r="2.2"/>
<circle cx="156.8" cy="405.1" r="2.2"/>
<circle cx="85.4" cy="403.4" r="2.2"/>
<circle cx="73.5" cy="404.9" r="2.2"/>
<circle cx="160.4" cy="390.6" r="2.2"/>
<circle cx="187.5" cy="407.2" r="2.2"/>
<circle cx="165.0" cy="388.2" r="2.2"/>
<circle cx="132.6" cy="385.1" r="2.2"/>
<circle cx="148.5" cy="405.0" r="2.2"/>
<circle cx="162.6" cy="404.5" r="2.2"/>
<circle cx="140.0" cy="403.9" r="2.2"/>
<circle cx="110.9" cy="409.6" r="2.2"/>
<circle cx="179.6" cy="377.3" r="2.2"/>
<circle cx="111.8" cy="409.9" r="2.2"/>
<circle cx="187.1" cy="389.3" r="2.2"/>
<circle cx="172.4" cy="393.9" r="2.2"/>
<circle cx="171.5" cy="390.9" r="2.2"/>
<circle cx="177.2" cy="411.5" r="2.2"/>
<circle cx="198.8" cy="412.1" r="2.2"/>
<circle cx="199.2" cy="414.5" r="2.2"/>
<circle cx="130.4" cy="407.4" r="2.2"/>
<circle cx="112.9" cy="400.1" r="2.2"/>
<circle cx="163.1" cy="409.5" r="2.2"/>
<circle cx="196.1" cy="413.0" r="2.2"/>
<circle cx="148.5" cy="413.3" r="2.2"/>
<circle cx="63.3" cy="395.6" r="2.2"/>
<circle cx="65.2" cy="384.2" r="2.2"/>
<circle cx="125.1" cy="408.8" r="2.2"/>
<circle cx="170.7" cy="401.5" r="2.2"/>
<circle cx="184.8" cy="403.6" r="2.2"/>
<circle cx="112.6" cy="396.2" r="2.2"/>
<circle cx="132.6" cy="409.5" r="2.2"/>
<circle cx="132.0" cy="404.9" r="2.2"/>
<circle cx="73.1" cy="407.1" r="2.2"/>
<circle cx="59.8" cy="391.4" r="2.2"/>
<circle cx="133.5" cy="389.9" r="2.2"/>
<circle cx="130.8" cy="413.0" r="2.2"/>
<circle cx="181.4" cy="406.4" r="2.2"/>
<circle cx="85.3" cy="412.1" r="2.2"/>
<circle cx="179.9" cy="413.2" r="2.2"/>
<circle cx="98.0" cy="351.0" r="2.2"/>
<circle cx="135.7" cy="383.7" r="2.2"/>
<circle cx="159.4" cy="411.3" r="2.2"/>
<circle cx="80.2" cy="409.2" r="2.2"/>
<circle cx="193.1" cy="414.0" r="2.2"/>
<circle cx="194.7" cy="410.0" r="2.2"/>
<circle cx="196.4" cy="410.2" r="2.2"/>
<circle cx="60.0" cy="406.5" r="2.2"/>
<circle cx="150.4" cy="413.7" r="2.2"/>
<circle cx="154.3" cy="407.8" r="2.2"/>
<circle cx="183.7" cy="408.8" r="2.2"/>
<circle cx="88.1" cy="334.4" r="2.2"/>
<circle cx="77.2" cy="368.4" r="2.2"/>
<circle cx="173.8" cy="402.5" r="2.2"/>
<circle cx="96.6" cy="388.2" r="2.2"/>
<circle cx="69.0" cy="389.3" r="2.2"/>
<circle cx="72.7" cy="373.7" r="2.2"/>
<circle cx="150.7" cy="391.3" r="2.2"/>
<circle cx="135.2" cy="392.7" r="2.2"/>
<circle cx="165.1" cy="410.2" r="2.2"/>
<circle cx="173.5" cy="409.4" r="2.2"/>
<circle cx="60.1" cy="400.2" r="2.2"/>
<circle cx="191.2" cy="412.2" r="2.2"/>
<circle cx="183.7" cy="410.8" r="2.2"/>
<circle cx="191.2" cy="411.1" r="2.2"/>
<circle cx="168.1" cy="410.8" r="2.2"/>
<circle cx="113.8" cy="404.7" r="2.2"/>
<circle cx="94.7" cy="400.7" r="2.2"/>
<circle cx="188.3" cy="410.2" r="2.2"/>
<circle cx="118.9" cy="395.3" r="2.2"/>
<circle cx="128.5" cy="406.4" r="2.2"/>
<circle cx="158.2" cy="399.2" r="2.2"/>
<circle cx="156.7" cy="409.6" r="2.2"/>
<circle cx="157.5" cy="398.0" r="2.2"/>
<circle cx="147.6" cy="411.2" r="2.2"/>
<circle cx="131.4" cy="398.4" r="2.2"/>
<circle cx="167.8" cy="396.2" r="2.2"/>
<circle cx="115.5" cy="335.6" r="2.2"/>
<circle cx="96.7" cy="406.8" r="2.2"/>
<circle cx="187.8" cy="413.9" r="2.2"/>
<circle cx="179.0" cy="404.4" r="2.2"/>
<circle cx="160.9" cy="405.7" r="2.2"/>
<circle cx="83.4" cy="414.3" r="2.2"/>
<circle cx="66.2" cy="407.9" r="2.2"/>
<circle cx="189.7" cy="414.5" r="2.2"/>
<circle cx="192.6" cy="400.8" r="2.2"/>
<circle cx="98.1" cy="410.2" r="2.2"/>
<circle cx="148.4" cy="400.3" r="2.2"/>
<circle cx="62.3" cy="343.4" r="2.2"/>
<circle cx="115.2" cy="395.5" r="2.2"/>
<circle cx="158.9" cy="412.7" r="2.2"/>
<circle cx="110.6" cy="413.0" r="2.2"/>
<circle cx="173.5" cy="412.4" r="2.2"/>
<circle cx="188.4" cy="410.3" r="2.2"/>
<circle cx="79.1" cy="411.3" r="2.2"/>
<circle cx="156.7" cy="408.0" r="2.2"/>
<circle cx="112.7" cy="373.8" r="2.2"/>
<circle cx="84.3" cy="392.5" r="2.2"/>
<circle cx="108.9" cy="392.9" r="2.2"/>
<circle cx="127.6" cy="407.5" r="2.2"/>
<circle cx="186.0" cy="405.0" r="2.2"/>
<circle cx="167.6" cy="398.4" r="2.2"/>
<circle cx="60.4" cy="412.1" r="2.2"/>
<circle cx="67.7" cy="403.6" r="2.2"/>
<circle cx="199.8" cy="414.5" r="2.2"/>
<circle cx="138.2" cy="388.5" r="2.2"/>
<circle cx="145.7" cy="414.2" r="2.2"/>
<circle cx="109.4" cy="399.3" r="2.2"/>
<circle cx="176.9" cy="412.9" r="2.2"/>
<circle cx="138.2" cy="405.2" r="2.2"/>
<circle cx="143.2" cy="412.0" r="2.2"/>
<circle cx="94.9" cy="409.1" r="2.2"/>
<circle cx="169.2" cy="391.6" r="2.2"/>
<circle cx="89.9" cy="400.5" r="2.2"/>
<circle cx="79.1" cy="392.0" r="2.2"/>
<circle cx="143.9" cy="409.1" r="2.2"/>
<circle cx="177.0" cy="413.9" r="2.2"/>
<circle cx="101.0" cy="408.7" r="2.2"/>
<circle cx="102.3" cy="414.3" r="2.2"/>
<circle cx="80.8" cy="397.0" r="2.2"/>
<circle cx="144.7" cy="414.4" r="2.2"/>
<circle cx="168.4" cy="411.4" r="2.2"/>
<circle cx="77.4" cy="408.3" r="2.2"/>
<circle cx="135.1" cy="387.7" r="2.2"/>
<circle cx="135.8" cy="402.5" r="2.2"/>
<circle cx="74.8" cy="408.7" r="2.2"/>
<circle cx="134.5" cy="411.7" r="2.2"/>
<circle cx="98.0" cy="404.4" r="2.2"/>
<circle cx="87.8" cy="393.7" r="2.2"/>
<circle cx="198.6" cy="406.4" r="2.2"/>
<circle cx="72.5" cy="412.8" r="2.2"/>
<circle cx="108.1" cy="379.2" r="2.2"/>
<circle cx="146.9" cy="384.8" r="2.2"/>
<circle cx="116.8" cy="400.2" r="2.2"/>
<circle cx="62.2" cy="385.5" r="2.2"/>
<circle cx="181.8" cy="391.7" r="2.2"/>
<circle cx="93.4" cy="414.1" r="2.2"/>
<circle cx="117.8" cy="413.3" r="2.2"/>
<circle cx="187.8" cy="400.6" r="2.2"/>
<circle cx="196.4" cy="400.4" r="2.2"/>
<circle cx="188.6" cy="414.5" r="2.2"/>
<circle cx="117.6" cy="414.2" r="2.2"/>
<circle cx="164.6" cy="414.5" r="2.2"/>
<circle cx="179.3" cy="411.9" r="2.2"/>
<circle cx="87.5" cy="404.7" r="2.2"/>
<circle cx="196.4" cy="408.5" r="2.2"/>
<circle cx="74.0" cy="391.7" r="2.2"/>
<circle cx="152.4" cy="413.0" r="2.2"/>
<circle cx="93.4" cy="386.8" r="2.2"/>
<circle cx="90.0" cy="402.3" r="2.2"/>
<circle cx="79.1" cy="387.9" r="2.2"/>
<circle cx="192.5" cy="413.4" r="2.2"/>
<circle cx="77.8" cy="405.5" r="2.2"/>
<circle cx="188.3" cy="411.1" r="2.2"/>
<circle cx="83.1" cy="414.4" r="2.2"/>
<circle cx="106.1" cy="408.5" r="2.2"/>
<circle cx="89.5" cy="406.4" r="2.2"/>
<circle cx="199.0" cy="411.4" r="2.2"/>
<circle cx="72.8" cy="411.0" r="2.2"/>
<circle cx="181.1" cy="413.7" r="2.2"/>
<circle cx="102.1" cy="381.4" r="2.2"/>
<circle cx="193.9" cy="383.4" r="2.2"/>
<circle cx="165.5" cy="371.9" r="2.2"/>
<circle cx="96.9" cy="396.2" r="2.2"/>
<circle cx="131.6" cy="414.1" r="2.2"/>
<circle cx="82.4" cy="414.3" r="2.2"/>
<circle cx="117.1" cy="405.6" r="2.2"/>
<circle cx="63.4" cy="408.2" r="2.2"/>
<circle cx="155.8" cy="412.3" r="2.2"/>
<circle cx="143.3" cy="400.7" r="2.2"/>
<circle cx="98.0" cy="367.0" r="2.2"/>
<circle cx="61.6" cy="402.0" r="2.2"/>
<circle cx="192.1" cy="405.4" r="2.2"/>
<circle cx="77.3" cy="407.4" r="2.2"/>
<circle cx="105.9" cy="409.0" r="2.2"/>
<circle cx="63.3" cy="410.9" r="2.2"/>
<circle cx="113.7" cy="388.3" r="2.2"/>
<circle cx="116.3" cy="397.5" r="2.2"/>
<circle cx="134.9" cy="413.8" r="2.2"/>
<circle cx="105.3" cy="404.0" r="2.2"/>
<circle cx="94.9" cy="412.6" r="2.2"/>
<circle cx="170.5" cy="414.2" r="2.2"/>
<circle cx="99.0" cy="412.1" r="2.2"/>
<circle cx="106.5" cy="394.0" r="2.2"/>
<circle cx="128.9" cy="410.9" r="2.2"/>
<circle cx="98.3" cy="395.5" r="2.2"/>
<circle cx="162.1" cy="403.8" r="2.2"/>
<circle cx="71.6" cy="404.5" r="2.2"/>
<circle cx="105.3" cy="338.1" r="2.2"/>
<circle cx="119.0" cy="409.3" r="2.2"/>
<circle cx="96.1" cy="395.9" r="2.2"/>
<circle cx="178.1" cy="407.0" r="2.2"/>
<circle cx="109.6" cy="408.3" r="2.2"/>
<circle cx="119.0" cy="408.7" r="2.2"/>
<circle cx="125.8" cy="390.3" r="2.2"/>
<circle cx="176.7" cy="400.4" r="2.2"/>
<circle cx="90.5" cy="407.8" r="2.2"/>
<circle cx="176.5" cy="407.5" r="2.2"/>
<circle cx="193.4" cy="411.8" r="2.2"/>
<circle cx="97.2" cy="403.8" r="2.2"/>
<circle cx="83.6" cy="406.9" r="2.2"/>
<circle cx="170.9" cy="387.7" r="2.2"/>
<circle cx="103.8" cy="407.2" r="2.2"/>
<circle cx="91.8" cy="411.5" r="2.2"/>
<circle cx="70.7" cy="397.3" r="2.2"/>
<circle cx="146.2" cy="403.3" r="2.2"/>
<circle cx="191.8" cy="393.2" r="2.2"/>
<circle cx="183.9" cy="406.9" r="2.2"/>
<circle cx="142.7" cy="411.9" r="2.2"/>
<circle cx="121.5" cy="413.5" r="2.2"/>
<circle cx="197.3" cy="412.6" r="2.2"/>
<circle cx="152.8" cy="411.1" r="2.2"/>
<circle cx="194.5" cy="411.7" r="2.2"/>
<circle cx="156.7" cy="408.7" r="2.2"/>
<circle cx="157.9" cy="409.3" r="2.2"/>
<circle cx="158.5" cy="404.0" r="2.2"/>
<circle cx="77.4" cy="306.8" r="2.2"/>
<circle cx="95.3" cy="411.9" r="2.2"/>
<circle cx="69.0" cy="392.0" r="2.2"/>
<circle cx="191.1" cy="409.2" r="2.2"/>
<circle cx="199.9" cy="412.9" r="2.2"/>
<circle cx="145.0" cy="405.9" r="2.2"/>
<circle cx="81.7" cy="408.3" r="2.2"/>
<circle cx="77.2" cy="383.5" r="2.2"/>
<circle cx="122.6" cy="408.0" r="2.2"/>
<circle cx="114.8" cy="343.0" r="2.2"/>
<circle cx="87.3" cy="406.5" r="2.2"/>
<circle cx="72.3" cy="376.2" r="2.2"/>
<circle cx="151.0" cy="397.1" r="2.2"/>
<circle cx="171.4" cy="408.0" r="2.2"/>
<circle cx="68.6" cy="403.2" r="2.2"/>
<circle cx="103.3" cy="405.5" r="2.2"/>
<circle cx="102.1" cy="407.5" r="2.2"/>
<circle cx="136.1" cy="400.4" r="2.2"/>
<circle cx="144.9" cy="394.3" r="2.2"/>
<circle cx="117.6" cy="400.2" r="2.2"/>
<circle cx="181.8" cy="408.1" r="2.2"/>
<circle cx="114.8" cy="412.8" r="2.2"/>
<circle cx="102.5" cy="405.2" r="2.2"/>
<circle cx="167.8" cy="402.2" r="2.2"/>
<circle cx="178.4" cy="393.5" r="2.2"/>
<circle cx="183.4" cy="413.2" r="2.2"/>
<circle cx="83.6" cy="409.1" r="2.2"/>
<circle cx="87.5" cy="387.1" r="2.2"/>
<circle cx="124.9" cy="406.6" r="2.2"/>
<circle cx="196.1" cy="414.1" r="2.2"/>
<circle cx="147.2" cy="411.0" r="2.2"/>
<circle cx="147.6" cy="328.4" r="2.2"/>
<circle cx="105.8" cy="412.1" r="2.2"/>
<circle cx="199.3" cy="412.4" r="2.2"/>
<circle cx="85.5" cy="357.6" r="2.2"/>
<circle cx="138.5" cy="400.6" r="2.2"/>
<circle cx="154.8" cy="398.6" r="2.2"/>
<circle cx="173.9" cy="383.7" r="2.2"/>
<circle cx="174.4" cy="412.8" r="2.2"/>
<circle cx="114.2" cy="396.4" r="2.2"/>
<circle cx="97.9" cy="409.9" r="2.2"/>
<circle cx="197.8" cy="413.8" r="2.2"/>
<circle cx="137.7" cy="412.8" r="2.2"/>
<circle cx="99.5" cy="394.3" r="2.2"/>
<circle cx="79.2" cy="410.8" r="2.2"/>
<circle cx="172.9" cy="400.5" r="2.2"/>
<circle cx="179.3" cy="411.7" r="2.2"/>
<circle cx="140.0" cy="412.9" r="2.2"/>
<circle cx="113.8" cy="383.0" r="2.2"/>
<circle cx="152.7" cy="400.4" r="2.2"/>
<circle cx="197.9" cy="413.8" r="2.2"/>
<circle cx="141.2" cy="409.8" r="2.2"/>
<circle cx="170.7" cy="407.3" r="2.2"/>
<circle cx="184.0" cy="411.1" r="2.2"/>
<circle cx="166.4" cy="413.1" r="2.2"/>
<circle cx="128.3" cy="404.2" r="2.2"/>
<circle cx="84.9" cy="379.6" r="2.2"/>
<circle cx="157.9" cy="371.3" r="2.2"/>
<circle cx="176.9" cy="409.3" r="2.2"/>
<circle cx="195.4" cy="411.8" r="2.2"/>
<circle cx="81.2" cy="405.8" r="2.2"/>
<circle cx="75.7" cy="414.0" r="2.2"/>
<circle cx="149.4" cy="394.2" r="2.2"/>
<circle cx="176.3" cy="414.6" r="2.2"/>
<circle cx="70.5" cy="381.3" r="2.2"/>
<circle cx="146.3" cy="386.0" r="2.2"/>
<circle cx="89.7" cy="248.9" r="2.2"/>
<circle cx="89.7" cy="263.2" r="2.2"/>
<circle cx="89.7" cy="248.9" r="2.2"/>
<circle cx="100.0" cy="249.0" r="2.2"/>
<circle cx="92.0" cy="270.0" r="2.2"/>
</g></g>
<rect x="47.50" y="241.30" width="167.50" height="179.40" fill="none" stroke="#333" stroke-width="0.9"/>
<line x1="44.30" y1="414.60" x2="47.50" y2="414.60" stroke="#333" stroke-width="0.8"/>
<text x="40.90" y="418.60" font-size="11.2" text-anchor="end" font-weight="normal" font-style="normal" fill="#303030">0</text>
<line x1="44.30" y1="383.06" x2="47.50" y2="383.06" stroke="#333" stroke-width="0.8"/>
<text x="40.90" y="387.06" font-size="11.2" text-anchor="end" font-weight="normal" font-style="normal" fill="#303030">200</text>
<line x1="44.30" y1="351.52" x2="47.50" y2="351.52" stroke="#333" stroke-width="0.8"/>
<text x="40.90" y="355.52" font-size="11.2" text-anchor="end" font-weight="normal" font-style="normal" fill="#303030">400</text>
<line x1="44.30" y1="319.98" x2="47.50" y2="319.98" stroke="#333" stroke-width="0.8"/>
<text x="40.90" y="323.98" font-size="11.2" text-anchor="end" font-weight="normal" font-style="normal" fill="#303030">600</text>
<line x1="44.30" y1="288.44" x2="47.50" y2="288.44" stroke="#333" stroke-width="0.8"/>
<text x="40.90" y="292.44" font-size="11.2" text-anchor="end" font-weight="normal" font-style="normal" fill="#303030">800</text>
<line x1="44.30" y1="256.90" x2="47.50" y2="256.90" stroke="#333" stroke-width="0.8"/>
<text x="40.90" y="260.90" font-size="11.2" text-anchor="end" font-weight="normal" font-style="normal" fill="#303030">1000</text>
<line x1="80.60" y1="420.70" x2="80.60" y2="423.90" stroke="#333" stroke-width="0.8"/>
<text x="80.60" y="435.50" font-size="11.2" text-anchor="middle" font-weight="normal" font-style="normal" fill="#303030">1</text>
<line x1="132.80" y1="420.70" x2="132.80" y2="423.90" stroke="#333" stroke-width="0.8"/>
<text x="132.80" y="435.50" font-size="11.2" text-anchor="middle" font-weight="normal" font-style="normal" fill="#303030">2</text>
<line x1="185.00" y1="420.70" x2="185.00" y2="423.90" stroke="#333" stroke-width="0.8"/>
<text x="185.00" y="435.50" font-size="11.2" text-anchor="middle" font-weight="normal" font-style="normal" fill="#303030">3</text>
<text x="94.2" y="451.5" font-size="11.2" fill="#303030">Edge length, <tspan font-style="italic">Å</tspan></text>
<text x="9.70" y="330.60" font-size="11.2" text-anchor="middle" font-weight="normal" font-style="normal" fill="#303030" transform="rotate(-90 9.7 330.6)">Edge weight</text>
<clipPath id="ch"><rect x="267.5" y="242.1" width="176.5" height="181.6"/></clipPath>
<g clip-path="url(#ch)" fill="#2f746d" fill-opacity="0.6" stroke="#2f746d" stroke-opacity="0.35" stroke-width="0.8">
<rect x="396.9" y="287.0" width="4.2" height="4.2"/>
<rect x="396.4" y="303.1" width="4.2" height="4.2"/>
<rect x="403.1" y="303.1" width="4.2" height="4.2"/>
<rect x="412.2" y="303.1" width="4.2" height="4.2"/>
<rect x="349.3" y="308.0" width="4.2" height="4.2"/>
<rect x="395.5" y="310.7" width="4.2" height="4.2"/>
<rect x="332.1" y="313.1" width="4.2" height="4.2"/>
<rect x="370.3" y="314.8" width="4.2" height="4.2"/>
<rect x="408.6" y="318.4" width="4.2" height="4.2"/>
<rect x="356.2" y="320.8" width="4.2" height="4.2"/>
<rect x="388.2" y="320.4" width="4.2" height="4.2"/>
<rect x="420.1" y="321.7" width="4.2" height="4.2"/>
<rect x="414.3" y="323.5" width="4.2" height="4.2"/>
<rect x="400.9" y="324.4" width="4.2" height="4.2"/>
<rect x="366.3" y="326.3" width="4.2" height="4.2"/>
<rect x="340.3" y="328.1" width="4.2" height="4.2"/>
<rect x="340.7" y="328.7" width="4.2" height="4.2"/>
<rect x="374.5" y="329.4" width="4.2" height="4.2"/>
<rect x="379.4" y="329.9" width="4.2" height="4.2"/>
<rect x="429.2" y="329.4" width="4.2" height="4.2"/>
<rect x="439.8" y="327.7" width="4.2" height="4.2"/>
<rect x="351.3" y="332.1" width="4.2" height="4.2"/>
<rect x="359.3" y="333.2" width="4.2" height="4.2"/>
<rect x="401.1" y="332.1" width="4.2" height="4.2"/>
<rect x="344.4" y="341.2" width="4.2" height="4.2"/>
<rect x="321.5" y="343.0" width="4.2" height="4.2"/>
<rect x="327.0" y="346.3" width="4.2" height="4.2"/>
<rect x="395.1" y="343.0" width="4.2" height="4.2"/>
<rect x="342.2" y="348.2" width="4.2" height="4.2"/>
<rect x="337.1" y="350.5" width="4.2" height="4.2"/>
<rect x="360.8" y="347.6" width="4.2" height="4.2"/>
<rect x="368.6" y="347.2" width="4.2" height="4.2"/>
<rect x="352.0" y="356.7" width="4.2" height="4.2"/>
<rect x="286.5" y="311.8" width="4.2" height="4.2"/>
<rect x="315.5" y="347.7" width="4.2" height="4.2"/>
<rect x="277.8" y="355.0" width="4.2" height="4.2"/>
<rect x="283.0" y="357.1" width="4.2" height="4.2"/>
<rect x="291.2" y="352.8" width="4.2" height="4.2"/>
<rect x="292.1" y="357.1" width="4.2" height="4.2"/>
<rect x="316.9" y="360.2" width="4.2" height="4.2"/>
<rect x="324.3" y="360.2" width="4.2" height="4.2"/>
<rect x="306.1" y="363.0" width="4.2" height="4.2"/>
<rect x="269.0" y="366.7" width="4.2" height="4.2"/>
<rect x="283.9" y="368.0" width="4.2" height="4.2"/>
<rect x="328.9" y="368.2" width="4.2" height="4.2"/>
<rect x="335.1" y="370.1" width="4.2" height="4.2"/>
<rect x="343.7" y="368.2" width="4.2" height="4.2"/>
<rect x="344.3" y="361.7" width="4.2" height="4.2"/>
<rect x="344.8" y="361.1" width="4.2" height="4.2"/>
<rect x="272.2" y="375.7" width="4.2" height="4.2"/>
<rect x="269.4" y="383.1" width="4.2" height="4.2"/>
<rect x="277.8" y="379.8" width="4.2" height="4.2"/>
<rect x="320.6" y="388.5" width="4.2" height="4.2"/>
<rect x="329.3" y="385.9" width="4.2" height="4.2"/>
<rect x="313.1" y="392.8" width="4.2" height="4.2"/>
<rect x="269.4" y="392.2" width="4.2" height="4.2"/>
<rect x="296.4" y="408.6" width="4.2" height="4.2"/>
<rect x="300.1" y="408.6" width="4.2" height="4.2"/>
<rect x="299.2" y="412.7" width="4.2" height="4.2"/>
<rect x="350.6" y="404.3" width="4.2" height="4.2"/>
<rect x="329.4" y="385.9" width="4.2" height="4.2"/>
<rect x="269.4" y="416.0" width="4.2" height="4.2"/>
<rect x="352.1" y="357.4" width="4.2" height="4.2"/>
<rect x="288.3" y="401.4" width="4.2" height="4.2"/>
<rect x="310.9" y="403.4" width="4.2" height="4.2"/>
<rect x="283.8" y="397.1" width="4.2" height="4.2"/>
<rect x="297.2" y="377.9" width="4.2" height="4.2"/>
<rect x="300.6" y="396.1" width="4.2" height="4.2"/>
<rect x="319.4" y="368.0" width="4.2" height="4.2"/>
<rect x="299.3" y="384.2" width="4.2" height="4.2"/>
<rect x="282.8" y="418.0" width="4.2" height="4.2"/>
<rect x="302.1" y="380.0" width="4.2" height="4.2"/>
<rect x="285.7" y="389.8" width="4.2" height="4.2"/>
<rect x="277.5" y="406.6" width="4.2" height="4.2"/>
<rect x="294.1" y="395.5" width="4.2" height="4.2"/>
<rect x="270.2" y="407.6" width="4.2" height="4.2"/>
<rect x="281.7" y="418.8" width="4.2" height="4.2"/>
<rect x="272.6" y="411.8" width="4.2" height="4.2"/>
<rect x="303.6" y="377.7" width="4.2" height="4.2"/>
<rect x="278.7" y="418.6" width="4.2" height="4.2"/>
<rect x="300.0" y="381.3" width="4.2" height="4.2"/>
<rect x="296.7" y="396.5" width="4.2" height="4.2"/>
<rect x="293.3" y="396.5" width="4.2" height="4.2"/>
<rect x="308.0" y="392.1" width="4.2" height="4.2"/>
<rect x="279.6" y="404.0" width="4.2" height="4.2"/>
<rect x="296.4" y="383.7" width="4.2" height="4.2"/>
<rect x="314.7" y="384.5" width="4.2" height="4.2"/>
<rect x="298.3" y="388.3" width="4.2" height="4.2"/>
<rect x="304.8" y="391.3" width="4.2" height="4.2"/>
<rect x="298.0" y="394.6" width="4.2" height="4.2"/>
<rect x="270.9" y="403.4" width="4.2" height="4.2"/>
<rect x="284.4" y="401.0" width="4.2" height="4.2"/>
<rect x="282.1" y="408.3" width="4.2" height="4.2"/>
<rect x="293.2" y="406.8" width="4.2" height="4.2"/>
<rect x="297.7" y="381.6" width="4.2" height="4.2"/>
<rect x="295.8" y="387.0" width="4.2" height="4.2"/>
<rect x="307.7" y="386.6" width="4.2" height="4.2"/>
<rect x="285.4" y="400.0" width="4.2" height="4.2"/>
<rect x="311.7" y="389.6" width="4.2" height="4.2"/>
<rect x="295.3" y="401.3" width="4.2" height="4.2"/>
<rect x="276.3" y="406.5" width="4.2" height="4.2"/>
<rect x="274.2" y="408.7" width="4.2" height="4.2"/>
<rect x="312.7" y="386.2" width="4.2" height="4.2"/>
<rect x="283.7" y="396.9" width="4.2" height="4.2"/>
<rect x="291.6" y="390.0" width="4.2" height="4.2"/>
<rect x="280.5" y="396.9" width="4.2" height="4.2"/>
<rect x="319.7" y="376.4" width="4.2" height="4.2"/>
<rect x="278.7" y="408.6" width="4.2" height="4.2"/>
<rect x="287.6" y="396.1" width="4.2" height="4.2"/>
<rect x="278.8" y="407.8" width="4.2" height="4.2"/>
<rect x="292.6" y="389.1" width="4.2" height="4.2"/>
<rect x="284.8" y="413.7" width="4.2" height="4.2"/>
<rect x="281.5" y="392.6" width="4.2" height="4.2"/>
<rect x="285.2" y="409.2" width="4.2" height="4.2"/>
<rect x="313.5" y="380.4" width="4.2" height="4.2"/>
<rect x="281.8" y="399.7" width="4.2" height="4.2"/>
<rect x="313.2" y="367.9" width="4.2" height="4.2"/>
<rect x="278.0" y="398.7" width="4.2" height="4.2"/>
<rect x="297.7" y="384.6" width="4.2" height="4.2"/>
<rect x="284.1" y="416.9" width="4.2" height="4.2"/>
<rect x="290.7" y="404.6" width="4.2" height="4.2"/>
<rect x="288.2" y="403.9" width="4.2" height="4.2"/>
<rect x="282.3" y="412.9" width="4.2" height="4.2"/>
<rect x="269.2" y="405.5" width="4.2" height="4.2"/>
<rect x="301.5" y="387.1" width="4.2" height="4.2"/>
<rect x="297.4" y="392.4" width="4.2" height="4.2"/>
<rect x="313.2" y="374.9" width="4.2" height="4.2"/>
<rect x="306.2" y="393.4" width="4.2" height="4.2"/>
<rect x="279.2" y="415.2" width="4.2" height="4.2"/>
<rect x="281.5" y="413.1" width="4.2" height="4.2"/>
<rect x="280.8" y="401.4" width="4.2" height="4.2"/>
<rect x="291.7" y="393.9" width="4.2" height="4.2"/>
<rect x="270.1" y="409.5" width="4.2" height="4.2"/>
<rect x="291.3" y="387.7" width="4.2" height="4.2"/>
<rect x="297.3" y="404.3" width="4.2" height="4.2"/>
<rect x="278.9" y="412.4" width="4.2" height="4.2"/>
<rect x="300.8" y="388.1" width="4.2" height="4.2"/>
<rect x="293.9" y="399.8" width="4.2" height="4.2"/>
<rect x="297.0" y="383.5" width="4.2" height="4.2"/>
<rect x="290.9" y="387.8" width="4.2" height="4.2"/>
<rect x="272.5" y="403.2" width="4.2" height="4.2"/>
<rect x="308.8" y="382.4" width="4.2" height="4.2"/>
<rect x="289.7" y="400.4" width="4.2" height="4.2"/>
<rect x="298.1" y="382.0" width="4.2" height="4.2"/>
<rect x="292.6" y="399.4" width="4.2" height="4.2"/>
<rect x="289.2" y="395.9" width="4.2" height="4.2"/>
<rect x="285.5" y="390.2" width="4.2" height="4.2"/>
<rect x="294.0" y="398.3" width="4.2" height="4.2"/>
<rect x="297.4" y="397.6" width="4.2" height="4.2"/>
<rect x="303.4" y="387.3" width="4.2" height="4.2"/>
<rect x="278.8" y="402.2" width="4.2" height="4.2"/>
<rect x="280.6" y="401.7" width="4.2" height="4.2"/>
<rect x="280.5" y="404.7" width="4.2" height="4.2"/>
<rect x="277.7" y="403.5" width="4.2" height="4.2"/>
<rect x="288.5" y="413.7" width="4.2" height="4.2"/>
<rect x="288.0" y="407.6" width="4.2" height="4.2"/>
<rect x="325.4" y="367.7" width="4.2" height="4.2"/>
<rect x="295.5" y="402.0" width="4.2" height="4.2"/>
<rect x="305.7" y="396.0" width="4.2" height="4.2"/>
<rect x="291.9" y="404.9" width="4.2" height="4.2"/>
<rect x="289.0" y="400.7" width="4.2" height="4.2"/>
<rect x="293.1" y="404.8" width="4.2" height="4.2"/>
<rect x="298.3" y="389.3" width="4.2" height="4.2"/>
<rect x="301.5" y="373.8" width="4.2" height="4.2"/>
<rect x="275.5" y="411.5" width="4.2" height="4.2"/>
<rect x="322.7" y="360.0" width="4.2" height="4.2"/>
<rect x="281.2" y="403.0" width="4.2" height="4.2"/>
<rect x="281.9" y="414.9" width="4.2" height="4.2"/>
<rect x="289.2" y="401.3" width="4.2" height="4.2"/>
<rect x="290.7" y="406.4" width="4.2" height="4.2"/>
<rect x="279.2" y="400.4" width="4.2" height="4.2"/>
<rect x="302.1" y="376.6" width="4.2" height="4.2"/>
<rect x="287.5" y="395.2" width="4.2" height="4.2"/>
<rect x="290.1" y="391.3" width="4.2" height="4.2"/>
<rect x="282.2" y="390.9" width="4.2" height="4.2"/>
<rect x="297.2" y="399.3" width="4.2" height="4.2"/>
<rect x="272.7" y="403.8" width="4.2" height="4.2"/>
<rect x="284.9" y="418.4" width="4.2" height="4.2"/>
<rect x="305.5" y="383.3" width="4.2" height="4.2"/>
<rect x="304.5" y="382.0" width="4.2" height="4.2"/>
<rect x="306.8" y="400.3" width="4.2" height="4.2"/>
<rect x="300.4" y="413.1" width="4.2" height="4.2"/>
<rect x="301.7" y="385.1" width="4.2" height="4.2"/>
<rect x="269.5" y="394.9" width="4.2" height="4.2"/>
<rect x="297.9" y="397.1" width="4.2" height="4.2"/>
<rect x="293.6" y="387.9" width="4.2" height="4.2"/>
<rect x="318.7" y="373.6" width="4.2" height="4.2"/>
<rect x="296.0" y="396.2" width="4.2" height="4.2"/>
<rect x="274.7" y="405.4" width="4.2" height="4.2"/>
<rect x="293.3" y="381.0" width="4.2" height="4.2"/>
<rect x="297.8" y="402.8" width="4.2" height="4.2"/>
<rect x="270.2" y="409.6" width="4.2" height="4.2"/>
<rect x="291.9" y="393.7" width="4.2" height="4.2"/>
<rect x="290.3" y="410.7" width="4.2" height="4.2"/>
<rect x="295.4" y="379.5" width="4.2" height="4.2"/>
<rect x="309.7" y="364.7" width="4.2" height="4.2"/>
<rect x="292.4" y="404.8" width="4.2" height="4.2"/>
<rect x="275.8" y="394.5" width="4.2" height="4.2"/>
<rect x="318.4" y="374.4" width="4.2" height="4.2"/>
<rect x="284.0" y="404.7" width="4.2" height="4.2"/>
<rect x="281.6" y="391.9" width="4.2" height="4.2"/>
<rect x="279.5" y="404.9" width="4.2" height="4.2"/>
<rect x="272.0" y="410.2" width="4.2" height="4.2"/>
<rect x="281.2" y="392.1" width="4.2" height="4.2"/>
<rect x="284.8" y="391.2" width="4.2" height="4.2"/>
<rect x="290.1" y="390.3" width="4.2" height="4.2"/>
<rect x="294.1" y="407.3" width="4.2" height="4.2"/>
<rect x="283.6" y="393.5" width="4.2" height="4.2"/>
<rect x="295.2" y="392.7" width="4.2" height="4.2"/>
<rect x="321.2" y="382.1" width="4.2" height="4.2"/>
<rect x="290.5" y="399.5" width="4.2" height="4.2"/>
<rect x="287.3" y="386.0" width="4.2" height="4.2"/>
<rect x="302.5" y="397.0" width="4.2" height="4.2"/>
<rect x="278.6" y="408.8" width="4.2" height="4.2"/>
<rect x="277.5" y="410.3" width="4.2" height="4.2"/>
<rect x="285.4" y="391.4" width="4.2" height="4.2"/>
<rect x="304.3" y="399.1" width="4.2" height="4.2"/>
<rect x="290.7" y="398.0" width="4.2" height="4.2"/>
<rect x="293.2" y="397.5" width="4.2" height="4.2"/>
<rect x="296.5" y="388.2" width="4.2" height="4.2"/>
<rect x="312.0" y="375.9" width="4.2" height="4.2"/>
<rect x="286.7" y="405.1" width="4.2" height="4.2"/>
<rect x="280.6" y="403.9" width="4.2" height="4.2"/>
<rect x="297.1" y="395.7" width="4.2" height="4.2"/>
<rect x="306.8" y="380.3" width="4.2" height="4.2"/>
<rect x="293.7" y="396.2" width="4.2" height="4.2"/>
<rect x="284.6" y="408.5" width="4.2" height="4.2"/>
<rect x="320.5" y="373.4" width="4.2" height="4.2"/>
<rect x="315.7" y="373.9" width="4.2" height="4.2"/>
<rect x="269.0" y="395.5" width="4.2" height="4.2"/>
<rect x="288.2" y="404.1" width="4.2" height="4.2"/>
<rect x="286.1" y="398.8" width="4.2" height="4.2"/>
<rect x="272.5" y="399.7" width="4.2" height="4.2"/>
<rect x="295.2" y="409.5" width="4.2" height="4.2"/>
<rect x="292.8" y="406.6" width="4.2" height="4.2"/>
<rect x="300.8" y="390.4" width="4.2" height="4.2"/>
<rect x="280.8" y="384.2" width="4.2" height="4.2"/>
<rect x="324.2" y="366.7" width="4.2" height="4.2"/>
<rect x="305.6" y="374.7" width="4.2" height="4.2"/>
<rect x="280.6" y="408.0" width="4.2" height="4.2"/>
<rect x="298.0" y="412.2" width="4.2" height="4.2"/>
<rect x="280.3" y="397.2" width="4.2" height="4.2"/>
<rect x="320.3" y="371.7" width="4.2" height="4.2"/>
<rect x="294.9" y="405.8" width="4.2" height="4.2"/>
<rect x="294.7" y="384.5" width="4.2" height="4.2"/>
<rect x="293.6" y="409.0" width="4.2" height="4.2"/>
<rect x="293.4" y="385.4" width="4.2" height="4.2"/>
<rect x="293.7" y="382.4" width="4.2" height="4.2"/>
<rect x="296.7" y="399.6" width="4.2" height="4.2"/>
<rect x="278.1" y="418.0" width="4.2" height="4.2"/>
<rect x="284.7" y="395.2" width="4.2" height="4.2"/>
<rect x="287.2" y="410.3" width="4.2" height="4.2"/>
<rect x="316.5" y="368.8" width="4.2" height="4.2"/>
<rect x="311.9" y="390.8" width="4.2" height="4.2"/>
<rect x="286.3" y="394.2" width="4.2" height="4.2"/>
<rect x="284.0" y="402.4" width="4.2" height="4.2"/>
<rect x="289.5" y="402.5" width="4.2" height="4.2"/>
<rect x="287.3" y="408.5" width="4.2" height="4.2"/>
<rect x="290.3" y="395.9" width="4.2" height="4.2"/>
<rect x="286.7" y="403.4" width="4.2" height="4.2"/>
<rect x="300.6" y="393.1" width="4.2" height="4.2"/>
<rect x="279.3" y="401.1" width="4.2" height="4.2"/>
<rect x="285.4" y="413.2" width="4.2" height="4.2"/>
<rect x="312.6" y="364.5" width="4.2" height="4.2"/>
<rect x="278.7" y="410.4" width="4.2" height="4.2"/>
<rect x="304.4" y="374.1" width="4.2" height="4.2"/>
<rect x="282.1" y="390.0" width="4.2" height="4.2"/>
<rect x="306.8" y="386.1" width="4.2" height="4.2"/>
<rect x="281.9" y="412.9" width="4.2" height="4.2"/>
<rect x="295.0" y="394.0" width="4.2" height="4.2"/>
<rect x="283.6" y="409.6" width="4.2" height="4.2"/>
<rect x="322.7" y="374.2" width="4.2" height="4.2"/>
<rect x="285.2" y="388.4" width="4.2" height="4.2"/>
<rect x="270.3" y="411.0" width="4.2" height="4.2"/>
<rect x="275.8" y="408.7" width="4.2" height="4.2"/>
<rect x="300.0" y="386.9" width="4.2" height="4.2"/>
<rect x="278.3" y="406.1" width="4.2" height="4.2"/>
<rect x="278.8" y="390.3" width="4.2" height="4.2"/>
<rect x="270.3" y="377.7" width="4.2" height="4.2"/>
<rect x="273.4" y="388.8" width="4.2" height="4.2"/>
<rect x="280.0" y="409.8" width="4.2" height="4.2"/>
<rect x="270.6" y="372.8" width="4.2" height="4.2"/>
<rect x="279.0" y="380.5" width="4.2" height="4.2"/>
<rect x="274.9" y="389.0" width="4.2" height="4.2"/>
<rect x="270.2" y="399.9" width="4.2" height="4.2"/>
<rect x="272.5" y="388.2" width="4.2" height="4.2"/>
<rect x="268.1" y="397.2" width="4.2" height="4.2"/>
<rect x="276.9" y="410.0" width="4.2" height="4.2"/>
<rect x="277.7" y="409.8" width="4.2" height="4.2"/>
<rect x="267.4" y="413.4" width="4.2" height="4.2"/>
<rect x="271.5" y="407.5" width="4.2" height="4.2"/>
<rect x="278.3" y="404.0" width="4.2" height="4.2"/>
<rect x="319.7" y="371.8" width="4.2" height="4.2"/>
<rect x="318.2" y="379.3" width="4.2" height="4.2"/>
<rect x="318.5" y="364.5" width="4.2" height="4.2"/>
<rect x="324.9" y="369.1" width="4.2" height="4.2"/>
<rect x="304.7" y="386.4" width="4.2" height="4.2"/>
<rect x="312.8" y="379.4" width="4.2" height="4.2"/>
<rect x="304.2" y="389.1" width="4.2" height="4.2"/>
<rect x="313.7" y="370.2" width="4.2" height="4.2"/>
<rect x="304.2" y="382.2" width="4.2" height="4.2"/>
<rect x="303.9" y="389.2" width="4.2" height="4.2"/>
<rect x="304.9" y="389.8" width="4.2" height="4.2"/>
<rect x="312.9" y="378.6" width="4.2" height="4.2"/>
<rect x="323.3" y="358.9" width="4.2" height="4.2"/>
<rect x="309.9" y="378.0" width="4.2" height="4.2"/>
</g>
<line x1="267.50" y1="423.70" x2="444.00" y2="242.10" stroke="#111" stroke-width="1.0"/>
<rect x="267.50" y="242.10" width="176.50" height="181.60" fill="none" stroke="#333" stroke-width="0.9"/>
<line x1="264.30" y1="399.40" x2="267.50" y2="399.40" stroke="#333" stroke-width="0.8"/>
<text x="261.00" y="403.40" font-size="11.2" text-anchor="end" font-weight="normal" font-style="normal" fill="#303030">0.5</text>
<line x1="264.30" y1="373.30" x2="267.50" y2="373.30" stroke="#333" stroke-width="0.8"/>
<text x="261.00" y="377.30" font-size="11.2" text-anchor="end" font-weight="normal" font-style="normal" fill="#303030">1.0</text>
<line x1="264.30" y1="347.20" x2="267.50" y2="347.20" stroke="#333" stroke-width="0.8"/>
<text x="261.00" y="351.20" font-size="11.2" text-anchor="end" font-weight="normal" font-style="normal" fill="#303030">1.5</text>
<line x1="264.30" y1="321.10" x2="267.50" y2="321.10" stroke="#333" stroke-width="0.8"/>
<text x="261.00" y="325.10" font-size="11.2" text-anchor="end" font-weight="normal" font-style="normal" fill="#303030">2.0</text>
<line x1="264.30" y1="295.00" x2="267.50" y2="295.00" stroke="#333" stroke-width="0.8"/>
<text x="261.00" y="299.00" font-size="11.2" text-anchor="end" font-weight="normal" font-style="normal" fill="#303030">2.5</text>
<line x1="264.30" y1="268.90" x2="267.50" y2="268.90" stroke="#333" stroke-width="0.8"/>
<text x="261.00" y="272.90" font-size="11.2" text-anchor="end" font-weight="normal" font-style="normal" fill="#303030">3.0</text>
<line x1="316.80" y1="423.70" x2="316.80" y2="426.90" stroke="#333" stroke-width="0.8"/>
<text x="316.80" y="438.80" font-size="11.2" text-anchor="middle" font-weight="normal" font-style="normal" fill="#303030">1</text>
<line x1="367.50" y1="423.70" x2="367.50" y2="426.90" stroke="#333" stroke-width="0.8"/>
<text x="367.50" y="438.80" font-size="11.2" text-anchor="middle" font-weight="normal" font-style="normal" fill="#303030">2</text>
<line x1="418.20" y1="423.70" x2="418.20" y2="426.90" stroke="#333" stroke-width="0.8"/>
<text x="418.20" y="438.80" font-size="11.2" text-anchor="middle" font-weight="normal" font-style="normal" fill="#303030">3</text>
<text x="322" y="452.6" font-size="11.2" fill="#303030"><tspan font-style="italic">E</tspan><tspan font-size="7.8" font-style="italic" dy="2.2">m</tspan><tspan dy="-2.2"> (DFT), eV</tspan></text>
<text x="237.4" y="366.6" font-size="11.2" fill="#303030" transform="rotate(-90 237.4 366.6) translate(237.4 0) scale(1.07 1) translate(-237.4 0)"><tspan font-style="italic">E</tspan><tspan font-size="7.8" font-style="italic" dy="2.2">m</tspan><tspan dy="-2.2"> (SVR), eV</tspan></text>
<rect x="286.5" y="255" width="4.2" height="4.2" fill="#2f746d" fill-opacity="0.6" stroke="#2f746d" stroke-opacity="0.35" stroke-width="0.8"/>
<line x1="277.10" y1="272.30" x2="300.00" y2="272.30" stroke="#444" stroke-width="0.9"/>
<text x="309.30" y="260.70" font-size="11.2" text-anchor="start" font-weight="normal" font-style="normal" fill="#303030">Data points</text>
<text x="309.30" y="277.00" font-size="11.2" text-anchor="start" font-weight="normal" font-style="normal" fill="#303030">Perfect prediction</text>
<rect x="485.70" y="248.40" width="188.31" height="27.60" fill="#84b1ac" stroke="none" stroke-width="1.0"/>
<rect x="485.70" y="283.00" width="115.74" height="27.60" fill="#84b1ac" stroke="none" stroke-width="1.0"/>
<rect x="485.70" y="317.60" width="41.32" height="27.60" fill="#84b1ac" stroke="none" stroke-width="1.0"/>
<rect x="485.70" y="352.20" width="10.30" height="27.60" fill="#84b1ac" stroke="none" stroke-width="1.0"/>
<rect x="485.70" y="386.70" width="9.61" height="27.60" fill="#84b1ac" stroke="none" stroke-width="1.0"/>
<line x1="543.57" y1="240.40" x2="543.57" y2="422.40" stroke="#fff" stroke-width="1.0"/>
<line x1="601.44" y1="240.40" x2="601.44" y2="422.40" stroke="#fff" stroke-width="1.0"/>
<line x1="659.31" y1="240.40" x2="659.31" y2="422.40" stroke="#fff" stroke-width="1.0"/>
<rect x="485.60" y="240.40" width="198.00" height="182.00" fill="none" stroke="#333" stroke-width="0.9"/>
<line x1="482.40" y1="262.20" x2="485.60" y2="262.20" stroke="#333" stroke-width="0.8"/>
<text x="479.00" y="266.20" font-size="11.2" text-anchor="end" font-weight="normal" font-style="normal" fill="#303030">f1</text>
<line x1="482.40" y1="296.80" x2="485.60" y2="296.80" stroke="#333" stroke-width="0.8"/>
<text x="479.00" y="300.80" font-size="11.2" text-anchor="end" font-weight="normal" font-style="normal" fill="#303030">f2</text>
<line x1="482.40" y1="331.40" x2="485.60" y2="331.40" stroke="#333" stroke-width="0.8"/>
<text x="479.00" y="335.40" font-size="11.2" text-anchor="end" font-weight="normal" font-style="normal" fill="#303030">f3</text>
<line x1="482.40" y1="366.00" x2="485.60" y2="366.00" stroke="#333" stroke-width="0.8"/>
<text x="479.00" y="370.00" font-size="11.2" text-anchor="end" font-weight="normal" font-style="normal" fill="#303030">f4</text>
<line x1="482.40" y1="400.50" x2="485.60" y2="400.50" stroke="#333" stroke-width="0.8"/>
<text x="479.00" y="404.50" font-size="11.2" text-anchor="end" font-weight="normal" font-style="normal" fill="#303030">f5</text>
<line x1="485.70" y1="422.40" x2="485.70" y2="425.60" stroke="#333" stroke-width="0.8"/>
<text x="485.70" y="438.40" font-size="11.2" text-anchor="middle" font-weight="normal" font-style="normal" fill="#303030">0.0</text>
<line x1="543.57" y1="422.40" x2="543.57" y2="425.60" stroke="#333" stroke-width="0.8"/>
<text x="543.57" y="438.40" font-size="11.2" text-anchor="middle" font-weight="normal" font-style="normal" fill="#303030">0.1</text>
<line x1="601.44" y1="422.40" x2="601.44" y2="425.60" stroke="#333" stroke-width="0.8"/>
<text x="601.44" y="438.40" font-size="11.2" text-anchor="middle" font-weight="normal" font-style="normal" fill="#303030">0.2</text>
<line x1="659.31" y1="422.40" x2="659.31" y2="425.60" stroke="#333" stroke-width="0.8"/>
<text x="659.31" y="438.40" font-size="11.2" text-anchor="middle" font-weight="normal" font-style="normal" fill="#303030">0.3</text>
<text x="584.60" y="451.60" font-size="11.2" text-anchor="middle" font-weight="normal" font-style="normal" fill="#303030">Importance</text>
<line x1="70.30" y1="60.80" x2="75.55" y2="52.75" stroke="#cc2a2a" stroke-width="0.9"/>
<line x1="75.55" y1="52.75" x2="80.80" y2="44.70" stroke="#5fae5a" stroke-width="0.9"/>
<line x1="70.30" y1="60.80" x2="76.05" y2="71.60" stroke="#cc2a2a" stroke-width="0.9"/>
<line x1="76.05" y1="71.60" x2="81.80" y2="82.40" stroke="#5fae5a" stroke-width="0.9"/>
<line x1="70.30" y1="60.80" x2="60.15" y2="61.10" stroke="#cc2a2a" stroke-width="0.9"/>
<line x1="60.15" y1="61.10" x2="50.00" y2="61.40" stroke="#5fae5a" stroke-width="0.9"/>
<line x1="38.00" y1="81.50" x2="44.00" y2="71.45" stroke="#cc2a2a" stroke-width="0.9"/>
<line x1="44.00" y1="71.45" x2="50.00" y2="61.40" stroke="#5fae5a" stroke-width="0.9"/>
<line x1="34.70" y1="43.40" x2="42.35" y2="52.40" stroke="#cc2a2a" stroke-width="0.9"/>
<line x1="42.35" y1="52.40" x2="50.00" y2="61.40" stroke="#5fae5a" stroke-width="0.9"/>
<line x1="36.00" y1="81.00" x2="44.00" y2="71.50" stroke="#cc2a2a" stroke-width="0.9"/>
<line x1="44.00" y1="71.50" x2="52.00" y2="62.00" stroke="#5fae5a" stroke-width="0.9"/>
<line x1="33.50" y1="44.00" x2="42.75" y2="52.50" stroke="#cc2a2a" stroke-width="0.9"/>
<line x1="42.75" y1="52.50" x2="52.00" y2="61.00" stroke="#5fae5a" stroke-width="0.9"/>
<line x1="92.90" y1="78.50" x2="83.95" y2="70.25" stroke="#cc2a2a" stroke-width="0.9"/>
<line x1="83.95" y1="70.25" x2="75.00" y2="62.00" stroke="#5fae5a" stroke-width="0.9"/>
<line x1="90.00" y1="78.00" x2="81.00" y2="70.00" stroke="#cc2a2a" stroke-width="0.9"/>
<line x1="81.00" y1="70.00" x2="72.00" y2="62.00" stroke="#5fae5a" stroke-width="0.9"/>
<line x1="88.00" y1="79.00" x2="83.00" y2="71.00" stroke="#cc2a2a" stroke-width="0.9"/>
<line x1="83.00" y1="71.00" x2="78.00" y2="63.00" stroke="#5fae5a" stroke-width="0.9"/>
<line x1="38.10" y1="6.80" x2="44.15" y2="15.55" stroke="#cc2a2a" stroke-width="1.0"/>
<line x1="44.15" y1="15.55" x2="50.20" y2="24.30" stroke="#5fae5a" stroke-width="1.0"/>
<line x1="50.20" y1="24.30" x2="60.40" y2="27.05" stroke="#5fae5a" stroke-width="1.0"/>
<line x1="60.40" y1="27.05" x2="70.60" y2="29.80" stroke="#cc2a2a" stroke-width="1.0"/>
<line x1="70.60" y1="29.80" x2="75.70" y2="37.25" stroke="#cc2a2a" stroke-width="1.0"/>
<line x1="75.70" y1="37.25" x2="80.80" y2="44.70" stroke="#7a6a88" stroke-width="1.0"/>
<line x1="80.80" y1="44.70" x2="88.70" y2="45.65" stroke="#7a6a88" stroke-width="1.0"/>
<line x1="88.70" y1="45.65" x2="96.60" y2="46.60" stroke="#cc2a2a" stroke-width="1.0"/>
<line x1="80.80" y1="20.80" x2="86.85" y2="12.35" stroke="#9fd098" stroke-width="1.0" opacity="0.8"/>
<line x1="86.85" y1="12.35" x2="92.90" y2="3.90" stroke="#cc2a2a" stroke-width="1.0" opacity="0.8"/>
<line x1="80.80" y1="20.80" x2="68.90" y2="19.05" stroke="#9fd098" stroke-width="1.0" opacity="0.9"/>
<line x1="68.90" y1="19.05" x2="57.00" y2="17.30" stroke="#efbcbc" stroke-width="1.0" opacity="0.9"/>
<line x1="80.80" y1="20.80" x2="83.90" y2="31.30" stroke="#9fd098" stroke-width="1.0" opacity="0.9"/>
<line x1="83.90" y1="31.30" x2="87.00" y2="41.80" stroke="#efbcbc" stroke-width="1.0" opacity="0.9"/>
<line x1="50.20" y1="24.30" x2="42.45" y2="33.85" stroke="#5fae5a" stroke-width="1.0"/>
<line x1="42.45" y1="33.85" x2="34.70" y2="43.40" stroke="#cc2a2a" stroke-width="1.0"/>
<line x1="34.70" y1="43.40" x2="41.95" y2="40.75" stroke="#cc2a2a" stroke-width="1.0"/>
<line x1="41.95" y1="40.75" x2="49.20" y2="38.10" stroke="#bfe0b9" stroke-width="1.0"/>
<line x1="25.00" y1="38.40" x2="37.10" y2="38.25" stroke="#efbcbc" stroke-width="1.0" opacity="0.7"/>
<line x1="37.10" y1="38.25" x2="49.20" y2="38.10" stroke="#bfe0b9" stroke-width="1.0" opacity="0.7"/>
<line x1="81.80" y1="82.40" x2="90.65" y2="83.55" stroke="#5fae5a" stroke-width="1.0"/>
<line x1="90.65" y1="83.55" x2="99.50" y2="84.70" stroke="#cc2a2a" stroke-width="1.0"/>
<line x1="81.80" y1="82.40" x2="76.20" y2="92.95" stroke="#5fae5a" stroke-width="1.0"/>
<line x1="76.20" y1="92.95" x2="70.60" y2="103.50" stroke="#cc2a2a" stroke-width="1.0"/>
<line x1="50.50" y1="75.00" x2="44.25" y2="78.25" stroke="#dcd6e0" stroke-width="1.0"/>
<line x1="44.25" y1="78.25" x2="38.00" y2="81.50" stroke="#cc2a2a" stroke-width="1.0"/>
<line x1="50.50" y1="75.00" x2="53.85" y2="83.50" stroke="#dcd6e0" stroke-width="1.0" opacity="0.6"/>
<line x1="53.85" y1="83.50" x2="57.20" y2="92.00" stroke="#efbcbc" stroke-width="1.0" opacity="0.6"/>
<line x1="50.50" y1="75.00" x2="40.85" y2="75.00" stroke="#dcd6e0" stroke-width="1.0" opacity="0.6"/>
<line x1="40.85" y1="75.00" x2="31.20" y2="75.00" stroke="#efbcbc" stroke-width="1.0" opacity="0.6"/>
<line x1="81.80" y1="82.40" x2="87.35" y2="80.45" stroke="#5fae5a" stroke-width="1.0" opacity="0.8"/>
<line x1="87.35" y1="80.45" x2="92.90" y2="78.50" stroke="#efbcbc" stroke-width="1.0" opacity="0.8"/>
<line x1="49.20" y1="38.10" x2="49.70" y2="31.20" stroke="#bfe0b9" stroke-width="1.0"/>
<line x1="49.70" y1="31.20" x2="50.20" y2="24.30" stroke="#5fae5a" stroke-width="1.0"/>
<circle cx="57.00" cy="17.30" r="2.60" fill="url(#gP)" opacity="0.9"/>
<circle cx="90.30" cy="20.40" r="2.60" fill="url(#gP)" opacity="0.5"/>
<circle cx="25.00" cy="38.40" r="2.60" fill="url(#gP)" opacity="0.7"/>
<circle cx="89.60" cy="51.20" r="2.60" fill="url(#gP)" opacity="0.55"/>
<circle cx="31.20" cy="75.00" r="2.60" fill="url(#gP)" opacity="0.6"/>
<circle cx="57.20" cy="92.00" r="2.60" fill="url(#gP)" opacity="0.6"/>
<circle cx="92.90" cy="78.50" r="2.60" fill="url(#gP)" opacity="0.8"/>
<circle cx="87.00" cy="41.80" r="2.60" fill="url(#gP)" opacity="0.9"/>
<circle cx="49.20" cy="38.10" r="7.50" fill="url(#gF)"/>
<circle cx="80.80" cy="20.80" r="7.50" fill="url(#gL)"/>
<circle cx="50.20" cy="24.30" r="7.50" fill="url(#gG)"/>
<circle cx="38.10" cy="6.80" r="2.70" fill="url(#gO)"/>
<circle cx="92.90" cy="3.90" r="2.70" fill="url(#gO)" opacity="0.8"/>
<circle cx="70.60" cy="29.80" r="2.70" fill="url(#gO)"/>
<circle cx="34.70" cy="43.40" r="2.70" fill="url(#gO)"/>
<circle cx="80.80" cy="44.70" r="4.90" fill="url(#gV)"/>
<circle cx="96.60" cy="46.60" r="2.70" fill="url(#gO)"/>
<circle cx="50.50" cy="75.00" r="5.30" fill="url(#gW)"/>
<circle cx="38.00" cy="81.50" r="2.70" fill="url(#gO)"/>
<circle cx="81.80" cy="82.40" r="7.50" fill="url(#gG)"/>
<circle cx="99.50" cy="84.70" r="2.70" fill="url(#gO)"/>
<circle cx="70.60" cy="103.50" r="2.70" fill="url(#gO)"/>
<circle cx="82.00" cy="58.30" r="7.50" fill="url(#gM)" opacity="0.85"/>
<circle cx="78.00" cy="58.69" r="7.50" fill="url(#gM)" opacity="0.865"/>
<circle cx="74.00" cy="59.07" r="7.50" fill="url(#gM)" opacity="0.88"/>
<circle cx="70.00" cy="59.46" r="7.50" fill="url(#gM)" opacity="0.895"/>
<circle cx="66.00" cy="59.85" r="7.50" fill="url(#gM)" opacity="0.9099999999999999"/>
<circle cx="62.00" cy="60.24" r="7.50" fill="url(#gM)" opacity="0.9249999999999999"/>
<circle cx="58.00" cy="60.62" r="7.50" fill="url(#gM)" opacity="0.94"/>
<circle cx="54.00" cy="61.01" r="7.50" fill="url(#gM)" opacity="0.955"/>
<circle cx="50.00" cy="61.40" r="7.60" fill="url(#gB)"/>
<line x1="50.00" y1="61.40" x2="70.30" y2="60.80" stroke="#c23a2a" stroke-width="1.0"/>
<circle cx="70.30" cy="60.80" r="2.70" fill="url(#gO)"/>
<line x1="70.30" y1="60.80" x2="81.80" y2="82.40" stroke="#c23a2a" stroke-width="0.9"/>
<circle cx="81.80" cy="82.40" r="7.50" fill="url(#gG)"/>
<circle cx="99.50" cy="84.70" r="2.70" fill="url(#gO)"/>
<circle cx="70.60" cy="103.50" r="2.70" fill="url(#gO)"/>
<line x1="173.80" y1="62.10" x2="163.60" y2="62.10" stroke="#cc2a2a" stroke-width="1.0"/>
<line x1="163.60" y1="62.10" x2="153.40" y2="62.10" stroke="#5fae5a" stroke-width="1.0"/>
<line x1="173.80" y1="62.10" x2="166.10" y2="65.65" stroke="#cc2a2a" stroke-width="1.0"/>
<line x1="166.10" y1="65.65" x2="158.40" y2="69.20" stroke="#5fae5a" stroke-width="1.0"/>
<line x1="173.80" y1="62.10" x2="168.95" y2="68.10" stroke="#cc2a2a" stroke-width="1.0"/>
<line x1="168.95" y1="68.10" x2="164.10" y2="74.10" stroke="#5fae5a" stroke-width="1.0"/>
<line x1="173.80" y1="62.10" x2="176.05" y2="65.65" stroke="#cc2a2a" stroke-width="1.0"/>
<line x1="176.05" y1="65.65" x2="178.30" y2="69.20" stroke="#5fae5a" stroke-width="1.0"/>
<line x1="173.80" y1="62.10" x2="179.60" y2="72.60" stroke="#cc2a2a" stroke-width="1.0"/>
<line x1="179.60" y1="72.60" x2="185.40" y2="83.10" stroke="#5fae5a" stroke-width="1.0"/>
<line x1="173.80" y1="62.10" x2="179.10" y2="54.05" stroke="#cc2a2a" stroke-width="1.0"/>
<line x1="179.10" y1="54.05" x2="184.40" y2="46.00" stroke="#5fae5a" stroke-width="1.0"/>
<line x1="141.10" y1="82.70" x2="147.25" y2="72.40" stroke="#cc2a2a" stroke-width="0.9" opacity="0.8"/>
<line x1="147.25" y1="72.40" x2="153.40" y2="62.10" stroke="#5fae5a" stroke-width="0.9" opacity="0.8"/>
<line x1="160.30" y1="93.30" x2="156.85" y2="77.70" stroke="#efbcbc" stroke-width="0.9" opacity="0.5"/>
<line x1="156.85" y1="77.70" x2="153.40" y2="62.10" stroke="#5fae5a" stroke-width="0.9" opacity="0.5"/>
<line x1="141.10" y1="82.70" x2="149.75" y2="75.95" stroke="#cc2a2a" stroke-width="0.9" opacity="0.8"/>
<line x1="149.75" y1="75.95" x2="158.40" y2="69.20" stroke="#5fae5a" stroke-width="0.9" opacity="0.8"/>
<line x1="160.30" y1="93.30" x2="159.35" y2="81.25" stroke="#efbcbc" stroke-width="0.9" opacity="0.5"/>
<line x1="159.35" y1="81.25" x2="158.40" y2="69.20" stroke="#5fae5a" stroke-width="0.9" opacity="0.5"/>
<line x1="141.10" y1="82.70" x2="152.60" y2="78.40" stroke="#cc2a2a" stroke-width="0.9" opacity="0.8"/>
<line x1="152.60" y1="78.40" x2="164.10" y2="74.10" stroke="#5fae5a" stroke-width="0.9" opacity="0.8"/>
<line x1="160.30" y1="93.30" x2="162.20" y2="83.70" stroke="#efbcbc" stroke-width="0.9" opacity="0.5"/>
<line x1="162.20" y1="83.70" x2="164.10" y2="74.10" stroke="#5fae5a" stroke-width="0.9" opacity="0.5"/>
<line x1="196.50" y1="79.10" x2="187.40" y2="74.15" stroke="#efbcbc" stroke-width="0.9" opacity="0.7"/>
<line x1="187.40" y1="74.15" x2="178.30" y2="69.20" stroke="#5fae5a" stroke-width="0.9" opacity="0.7"/>
<line x1="196.50" y1="79.10" x2="189.90" y2="71.30" stroke="#efbcbc" stroke-width="0.9" opacity="0.7"/>
<line x1="189.90" y1="71.30" x2="183.30" y2="63.50" stroke="#5fae5a" stroke-width="0.9" opacity="0.7"/>
<line x1="196.50" y1="79.10" x2="184.20" y2="77.00" stroke="#efbcbc" stroke-width="0.9" opacity="0.7"/>
<line x1="184.20" y1="77.00" x2="171.90" y2="74.90" stroke="#5fae5a" stroke-width="0.9" opacity="0.7"/>
<line x1="138.40" y1="44.50" x2="145.90" y2="53.30" stroke="#cc2a2a" stroke-width="0.9"/>
<line x1="145.90" y1="53.30" x2="153.40" y2="62.10" stroke="#5fae5a" stroke-width="0.9"/>
<line x1="185.40" y1="83.10" x2="194.10" y2="84.55" stroke="#5fae5a" stroke-width="1.0"/>
<line x1="194.10" y1="84.55" x2="202.80" y2="86.00" stroke="#cc2a2a" stroke-width="1.0"/>
<line x1="185.40" y1="83.10" x2="179.60" y2="94.25" stroke="#5fae5a" stroke-width="1.0"/>
<line x1="179.60" y1="94.25" x2="173.80" y2="105.40" stroke="#cc2a2a" stroke-width="1.0"/>
<line x1="141.50" y1="8.10" x2="147.75" y2="16.65" stroke="#cc2a2a" stroke-width="1.0"/>
<line x1="147.75" y1="16.65" x2="154.00" y2="25.20" stroke="#5fae5a" stroke-width="1.0"/>
<line x1="154.00" y1="25.20" x2="164.10" y2="27.95" stroke="#5fae5a" stroke-width="1.0"/>
<line x1="164.10" y1="27.95" x2="174.20" y2="30.70" stroke="#cc2a2a" stroke-width="1.0"/>
<line x1="174.20" y1="30.70" x2="179.30" y2="38.35" stroke="#cc2a2a" stroke-width="1.0"/>
<line x1="179.30" y1="38.35" x2="184.40" y2="46.00" stroke="#7a6a88" stroke-width="1.0"/>
<line x1="184.40" y1="46.00" x2="192.25" y2="46.80" stroke="#7a6a88" stroke-width="1.0"/>
<line x1="192.25" y1="46.80" x2="200.10" y2="47.60" stroke="#cc2a2a" stroke-width="1.0"/>
<line x1="184.70" y1="21.40" x2="190.50" y2="13.20" stroke="#9fd098" stroke-width="1.0" opacity="0.8"/>
<line x1="190.50" y1="13.20" x2="196.30" y2="5.00" stroke="#cc2a2a" stroke-width="1.0" opacity="0.8"/>
<line x1="184.70" y1="21.40" x2="172.50" y2="19.90" stroke="#9fd098" stroke-width="1.0" opacity="0.9"/>
<line x1="172.50" y1="19.90" x2="160.30" y2="18.40" stroke="#efbcbc" stroke-width="1.0" opacity="0.9"/>
<line x1="184.70" y1="21.40" x2="187.60" y2="32.10" stroke="#9fd098" stroke-width="1.0" opacity="0.9"/>
<line x1="187.60" y1="32.10" x2="190.50" y2="42.80" stroke="#efbcbc" stroke-width="1.0" opacity="0.9"/>
<line x1="154.00" y1="25.20" x2="146.20" y2="34.85" stroke="#5fae5a" stroke-width="1.0"/>
<line x1="146.20" y1="34.85" x2="138.40" y2="44.50" stroke="#cc2a2a" stroke-width="1.0"/>
<line x1="138.40" y1="44.50" x2="145.60" y2="42.00" stroke="#cc2a2a" stroke-width="1.0"/>
<line x1="145.60" y1="42.00" x2="152.80" y2="39.50" stroke="#bfe0b9" stroke-width="1.0"/>
<line x1="128.40" y1="39.50" x2="140.60" y2="39.50" stroke="#efbcbc" stroke-width="1.0" opacity="0.7"/>
<line x1="140.60" y1="39.50" x2="152.80" y2="39.50" stroke="#bfe0b9" stroke-width="1.0" opacity="0.7"/>
<line x1="152.80" y1="39.50" x2="153.40" y2="32.35" stroke="#bfe0b9" stroke-width="1.0"/>
<line x1="153.40" y1="32.35" x2="154.00" y2="25.20" stroke="#5fae5a" stroke-width="1.0"/>
<circle cx="160.30" cy="18.40" r="2.60" fill="url(#gP)" opacity="0.9"/>
<circle cx="193.00" cy="21.40" r="2.60" fill="url(#gP)" opacity="0.5"/>
<circle cx="128.40" cy="39.50" r="2.60" fill="url(#gP)" opacity="0.7"/>
<circle cx="193.00" cy="52.10" r="2.60" fill="url(#gP)" opacity="0.5"/>
<circle cx="134.20" cy="76.00" r="2.60" fill="url(#gP)" opacity="0.6"/>
<circle cx="160.30" cy="93.30" r="2.60" fill="url(#gP)" opacity="0.6"/>
<circle cx="196.50" cy="79.10" r="2.60" fill="url(#gP)" opacity="0.8"/>
<circle cx="190.50" cy="42.80" r="2.60" fill="url(#gP)" opacity="0.9"/>
<circle cx="152.80" cy="39.50" r="7.50" fill="url(#gF)"/>
<circle cx="184.70" cy="21.40" r="7.50" fill="url(#gL)"/>
<circle cx="154.00" cy="25.20" r="7.50" fill="url(#gG)"/>
<circle cx="141.50" cy="8.10" r="2.70" fill="url(#gO)"/>
<circle cx="196.30" cy="5.00" r="2.70" fill="url(#gO)" opacity="0.8"/>
<circle cx="174.20" cy="30.70" r="2.70" fill="url(#gO)"/>
<circle cx="138.40" cy="44.50" r="2.70" fill="url(#gO)"/>
<circle cx="184.40" cy="46.00" r="4.90" fill="url(#gV)"/>
<circle cx="200.10" cy="47.60" r="2.70" fill="url(#gO)"/>
<circle cx="154.10" cy="78.40" r="5.30" fill="url(#gW)" opacity="0.6"/>
<circle cx="188.30" cy="56.40" r="7.30" fill="url(#gM)" opacity="0.85"/>
<circle cx="186.90" cy="58.50" r="7.30" fill="url(#gM)" opacity="0.87"/>
<circle cx="183.30" cy="63.50" r="7.30" fill="url(#gM)" opacity="0.89"/>
<circle cx="178.30" cy="69.20" r="7.30" fill="url(#gM)" opacity="0.9099999999999999"/>
<circle cx="171.90" cy="74.90" r="7.30" fill="url(#gM)" opacity="0.9299999999999999"/>
<circle cx="164.10" cy="74.10" r="7.30" fill="url(#gM)" opacity="0.95"/>
<circle cx="158.40" cy="69.20" r="7.30" fill="url(#gM)" opacity="0.97"/>
<circle cx="153.40" cy="62.10" r="7.40" fill="url(#gB)"/>
<line x1="173.80" y1="62.10" x2="158.40" y2="69.20" stroke="#c23a2a" stroke-width="0.9"/>
<line x1="173.80" y1="62.10" x2="164.10" y2="74.10" stroke="#c23a2a" stroke-width="0.9"/>
<line x1="173.80" y1="62.10" x2="178.30" y2="69.20" stroke="#c23a2a" stroke-width="0.9"/>
<circle cx="141.10" cy="82.70" r="2.70" fill="url(#gO)"/>
<circle cx="173.80" cy="62.10" r="2.70" fill="url(#gO)"/>
<circle cx="185.40" cy="83.10" r="7.50" fill="url(#gG)"/>
<circle cx="202.80" cy="86.00" r="2.70" fill="url(#gO)"/>
<circle cx="173.80" cy="105.40" r="2.70" fill="url(#gO)"/>
<line x1="140.80" y1="263.30" x2="146.65" y2="271.70" stroke="#cc2a2a" stroke-width="1.0"/>
<line x1="146.65" y1="271.70" x2="152.50" y2="280.10" stroke="#5fae5a" stroke-width="1.0"/>
<line x1="152.50" y1="280.10" x2="162.20" y2="282.80" stroke="#5fae5a" stroke-width="1.0"/>
<line x1="162.20" y1="282.80" x2="171.90" y2="285.50" stroke="#cc2a2a" stroke-width="1.0"/>
<line x1="171.90" y1="285.50" x2="177.05" y2="292.50" stroke="#cc2a2a" stroke-width="1.0"/>
<line x1="177.05" y1="292.50" x2="182.20" y2="299.50" stroke="#7a6a88" stroke-width="1.0"/>
<line x1="182.20" y1="299.50" x2="189.50" y2="300.55" stroke="#7a6a88" stroke-width="1.0"/>
<line x1="189.50" y1="300.55" x2="196.80" y2="301.60" stroke="#cc2a2a" stroke-width="1.0"/>
<line x1="182.10" y1="276.30" x2="187.85" y2="268.40" stroke="#9fd098" stroke-width="1.0" opacity="0.85"/>
<line x1="187.85" y1="268.40" x2="193.60" y2="260.50" stroke="#cc2a2a" stroke-width="1.0" opacity="0.85"/>
<line x1="182.10" y1="276.30" x2="170.60" y2="274.80" stroke="#9fd098" stroke-width="1.0" opacity="0.9"/>
<line x1="170.60" y1="274.80" x2="159.10" y2="273.30" stroke="#efbcbc" stroke-width="1.0" opacity="0.9"/>
<line x1="182.10" y1="276.30" x2="185.05" y2="286.60" stroke="#9fd098" stroke-width="1.0" opacity="0.9"/>
<line x1="185.05" y1="286.60" x2="188.00" y2="296.90" stroke="#efbcbc" stroke-width="1.0" opacity="0.9"/>
<line x1="152.50" y1="280.10" x2="145.15" y2="289.10" stroke="#5fae5a" stroke-width="1.0"/>
<line x1="145.15" y1="289.10" x2="137.80" y2="298.10" stroke="#cc2a2a" stroke-width="1.0"/>
<line x1="137.80" y1="298.10" x2="144.55" y2="295.50" stroke="#cc2a2a" stroke-width="1.0"/>
<line x1="144.55" y1="295.50" x2="151.30" y2="292.90" stroke="#bfe0b9" stroke-width="1.0"/>
<line x1="128.50" y1="293.40" x2="139.90" y2="293.15" stroke="#efbcbc" stroke-width="1.0" opacity="0.7"/>
<line x1="139.90" y1="293.15" x2="151.30" y2="292.90" stroke="#bfe0b9" stroke-width="1.0" opacity="0.7"/>
<line x1="137.80" y1="298.10" x2="145.15" y2="306.90" stroke="#cc2a2a" stroke-width="1.0"/>
<line x1="145.15" y1="306.90" x2="152.50" y2="315.70" stroke="#5fae5a" stroke-width="1.0"/>
<line x1="152.50" y1="315.70" x2="162.20" y2="315.55" stroke="#5fae5a" stroke-width="1.0"/>
<line x1="162.20" y1="315.55" x2="171.90" y2="315.40" stroke="#cc2a2a" stroke-width="1.0"/>
<line x1="171.90" y1="315.40" x2="177.05" y2="307.45" stroke="#cc2a2a" stroke-width="1.0"/>
<line x1="177.05" y1="307.45" x2="182.20" y2="299.50" stroke="#7a6a88" stroke-width="1.0"/>
<line x1="171.90" y1="315.40" x2="177.35" y2="325.40" stroke="#cc2a2a" stroke-width="1.0"/>
<line x1="177.35" y1="325.40" x2="182.80" y2="335.40" stroke="#5fae5a" stroke-width="1.0"/>
<line x1="182.80" y1="335.40" x2="191.35" y2="336.70" stroke="#5fae5a" stroke-width="1.0"/>
<line x1="191.35" y1="336.70" x2="199.90" y2="338.00" stroke="#cc2a2a" stroke-width="1.0"/>
<line x1="182.80" y1="335.40" x2="177.35" y2="345.95" stroke="#5fae5a" stroke-width="1.0"/>
<line x1="177.35" y1="345.95" x2="171.90" y2="356.50" stroke="#cc2a2a" stroke-width="1.0"/>
<line x1="152.70" y1="328.90" x2="146.75" y2="331.95" stroke="#dcd6e0" stroke-width="1.0"/>
<line x1="146.75" y1="331.95" x2="140.80" y2="335.00" stroke="#cc2a2a" stroke-width="1.0"/>
<line x1="152.70" y1="328.90" x2="155.90" y2="337.05" stroke="#dcd6e0" stroke-width="1.0" opacity="0.6"/>
<line x1="155.90" y1="337.05" x2="159.10" y2="345.20" stroke="#efbcbc" stroke-width="1.0" opacity="0.6"/>
<line x1="152.70" y1="328.90" x2="143.65" y2="328.70" stroke="#dcd6e0" stroke-width="1.0" opacity="0.6"/>
<line x1="143.65" y1="328.70" x2="134.60" y2="328.50" stroke="#efbcbc" stroke-width="1.0" opacity="0.6"/>
<line x1="182.80" y1="335.40" x2="188.05" y2="333.70" stroke="#5fae5a" stroke-width="1.0" opacity="0.8"/>
<line x1="188.05" y1="333.70" x2="193.30" y2="332.00" stroke="#efbcbc" stroke-width="1.0" opacity="0.8"/>
<line x1="151.30" y1="292.90" x2="151.90" y2="304.30" stroke="#bfe0b9" stroke-width="1.0"/>
<line x1="151.90" y1="304.30" x2="152.50" y2="315.70" stroke="#5fae5a" stroke-width="1.0"/>
<line x1="181.90" y1="312.70" x2="187.60" y2="322.35" stroke="#9fd098" stroke-width="1.0" opacity="0.8"/>
<line x1="187.60" y1="322.35" x2="193.30" y2="332.00" stroke="#efbcbc" stroke-width="1.0" opacity="0.8"/>
<line x1="152.50" y1="315.70" x2="146.65" y2="325.35" stroke="#5fae5a" stroke-width="1.0"/>
<line x1="146.65" y1="325.35" x2="140.80" y2="335.00" stroke="#cc2a2a" stroke-width="1.0"/>
<circle cx="159.10" cy="273.30" r="2.60" fill="url(#gP)" opacity="0.9"/>
<circle cx="190.60" cy="276.30" r="2.60" fill="url(#gP)" opacity="0.5"/>
<circle cx="128.50" cy="293.40" r="2.60" fill="url(#gP)" opacity="0.7"/>
<circle cx="188.00" cy="296.90" r="2.60" fill="url(#gP)" opacity="0.9"/>
<circle cx="134.60" cy="328.50" r="2.60" fill="url(#gP)" opacity="0.6"/>
<circle cx="159.10" cy="345.20" r="2.60" fill="url(#gP)" opacity="0.6"/>
<circle cx="193.30" cy="332.00" r="2.60" fill="url(#gP)" opacity="0.8"/>
<circle cx="190.10" cy="306.10" r="2.60" fill="url(#gP)" opacity="0.5"/>
<circle cx="151.30" cy="292.90" r="7.50" fill="url(#gF)"/>
<circle cx="182.10" cy="276.30" r="7.50" fill="url(#gL)"/>
<circle cx="152.50" cy="280.10" r="7.50" fill="url(#gG)"/>
<circle cx="140.80" cy="263.30" r="2.70" fill="url(#gO)"/>
<circle cx="193.60" cy="260.50" r="2.70" fill="url(#gO)" opacity="0.85"/>
<circle cx="171.90" cy="285.50" r="2.70" fill="url(#gO)"/>
<circle cx="137.80" cy="298.10" r="2.70" fill="url(#gO)"/>
<circle cx="181.90" cy="312.70" r="7.50" fill="url(#gL)"/>
<circle cx="182.20" cy="299.50" r="4.90" fill="url(#gV)"/>
<circle cx="196.80" cy="301.60" r="2.70" fill="url(#gO)"/>
<circle cx="152.70" cy="328.90" r="5.30" fill="url(#gW)"/>
<circle cx="140.80" cy="335.00" r="2.70" fill="url(#gO)"/>
<circle cx="167.00" cy="314.00" r="7.30" fill="url(#gK)"/>
<circle cx="152.50" cy="315.70" r="7.50" fill="url(#gG)"/>
<circle cx="171.90" cy="315.40" r="2.70" fill="url(#gO)"/>
<circle cx="182.80" cy="335.40" r="7.50" fill="url(#gG)"/>
<circle cx="199.90" cy="338.00" r="2.70" fill="url(#gO)"/>
<circle cx="171.90" cy="356.50" r="2.70" fill="url(#gO)"/>
<text x="10.70" y="24.50" font-size="16.3" text-anchor="start" font-weight="bold" font-style="normal" fill="#000">a</text>
<text x="115.80" y="25.80" font-size="16.3" text-anchor="start" font-weight="bold" font-style="normal" fill="#000">b</text>
<text x="10.60" y="119.50" font-size="16.3" text-anchor="start" font-weight="bold" font-style="normal" fill="#000">c</text>
<text x="245.40" y="26.00" font-size="16.3" text-anchor="start" font-weight="bold" font-style="normal" fill="#000">d</text>
<text x="463.90" y="24.80" font-size="16.3" text-anchor="start" font-weight="bold" font-style="normal" fill="#000">e</text>
<text x="11.80" y="248.90" font-size="16.3" text-anchor="start" font-weight="bold" font-style="normal" fill="#000">f</text>
<text x="126.10" y="276.30" font-size="16.3" text-anchor="start" font-weight="bold" font-style="normal" fill="#000">g</text>
<text x="249.10" y="248.70" font-size="16.3" text-anchor="start" font-weight="bold" font-style="normal" fill="#000">h</text>
<text x="458.00" y="248.70" font-size="16.3" text-anchor="start" font-weight="bold" font-style="normal" fill="#000">i</text></svg>
</body></html>
